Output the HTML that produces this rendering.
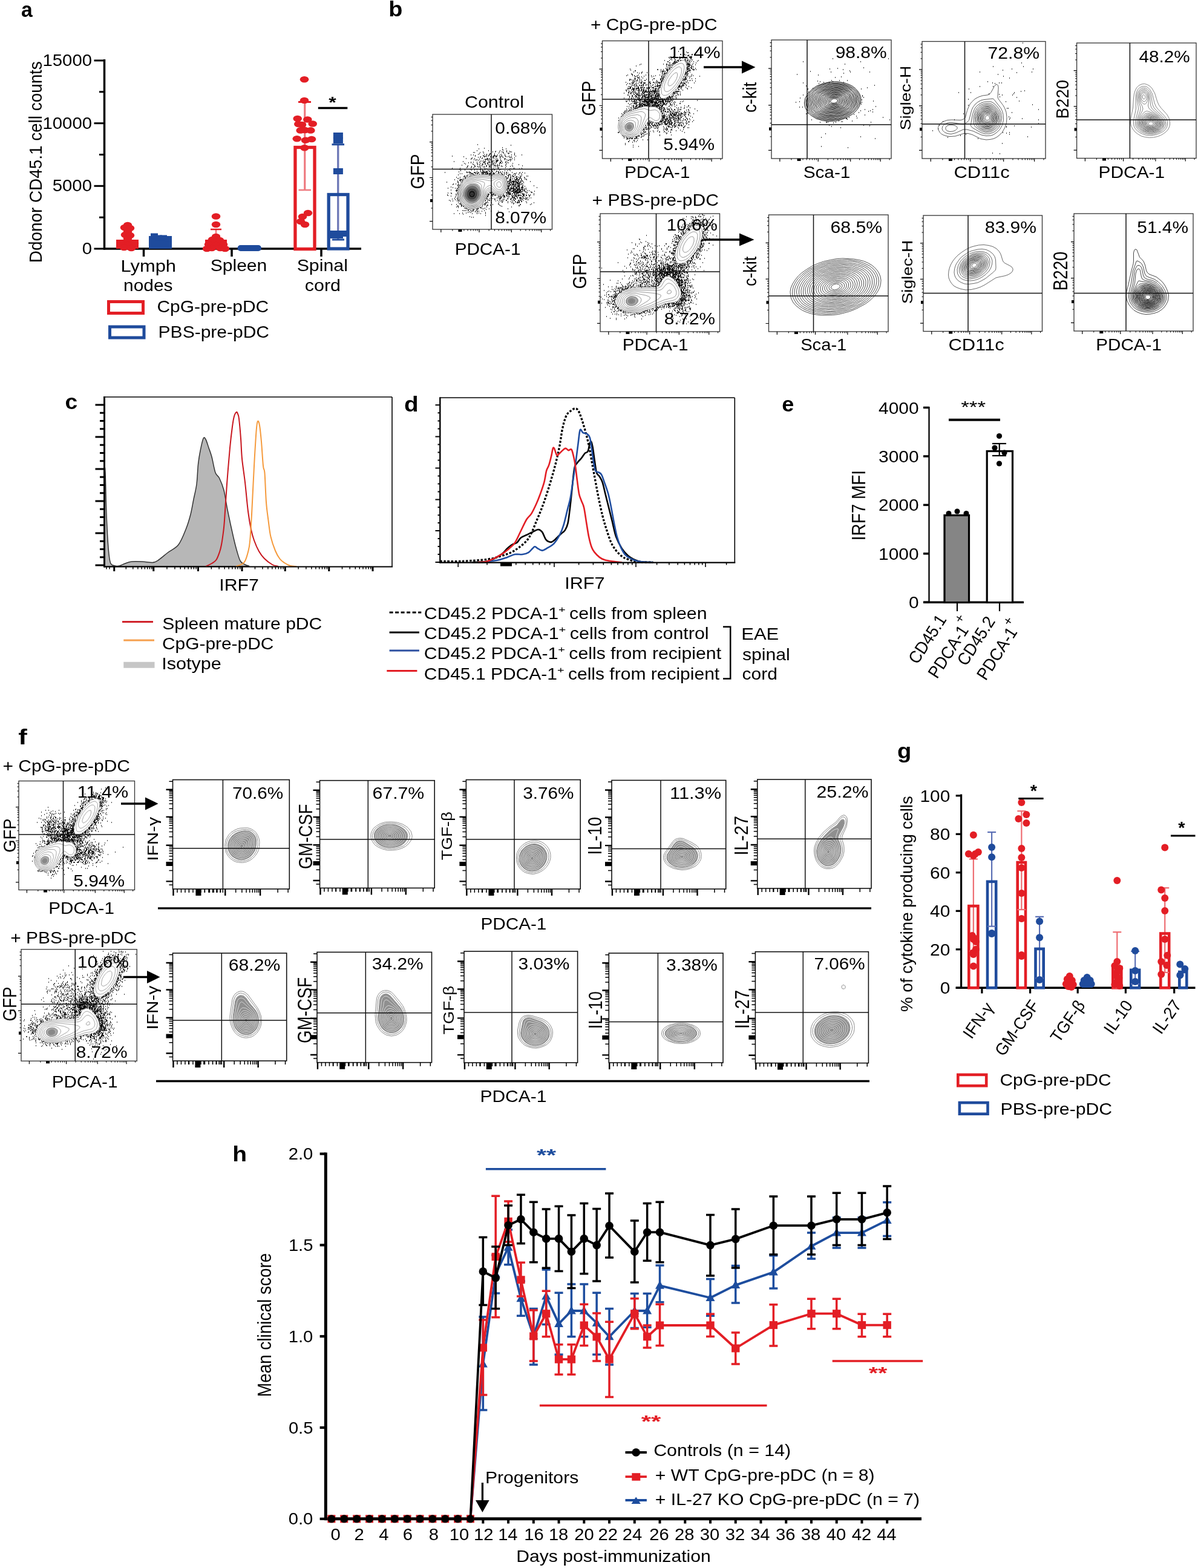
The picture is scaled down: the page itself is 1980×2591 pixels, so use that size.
<!DOCTYPE html>
<html><head><meta charset="utf-8"><title>Figure</title>
<style>html,body{margin:0;padding:0;background:#fff;}svg{display:block;}
text{font-family:'Liberation Sans', Arial, sans-serif;}</style></head>
<body><svg width="1980" height="2591" viewBox="0 0 1980 2591">
<rect width="1980" height="2591" fill="#fff"/>
<text transform="translate(35.09,27.6) scale(0.970,1)" font-size="34.7" font-weight="bold">a</text>
<line x1="172.5" y1="98" x2="172.5" y2="412.5" stroke="#000" stroke-width="3.5"/>
<line x1="155.5" y1="100" x2="172.5" y2="100" stroke="#000" stroke-width="3"/>
<line x1="155.5" y1="203.7" x2="172.5" y2="203.7" stroke="#000" stroke-width="3"/>
<line x1="155.5" y1="307.3" x2="172.5" y2="307.3" stroke="#000" stroke-width="3"/>
<line x1="155.5" y1="411" x2="172.5" y2="411" stroke="#000" stroke-width="3"/>
<line x1="164" y1="151.8" x2="172.5" y2="151.8" stroke="#000" stroke-width="3"/>
<line x1="164" y1="255.5" x2="172.5" y2="255.5" stroke="#000" stroke-width="3"/>
<line x1="164" y1="359.2" x2="172.5" y2="359.2" stroke="#000" stroke-width="3"/>
<text transform="translate(70.49,109) scale(1.040,1)" font-size="28.2">15000</text>
<text transform="translate(70.49,212.7) scale(1.040,1)" font-size="28.2">10000</text>
<text transform="translate(86.77,316.3) scale(1.040,1)" font-size="28.2">5000</text>
<text transform="translate(135.75,420) scale(1.040,1)" font-size="28.2">0</text>
<text transform="translate(68.71,434.23) rotate(-90) scale(0.953,1)" font-size="29.25">Ddonor CD45.1 cell counts</text>
<line x1="171" y1="411" x2="597" y2="411" stroke="#000" stroke-width="3.5"/>
<line x1="237.5" y1="411" x2="237.5" y2="424" stroke="#000" stroke-width="3.5"/>
<line x1="383" y1="411" x2="383" y2="424" stroke="#000" stroke-width="3.5"/>
<line x1="531" y1="411" x2="531" y2="424" stroke="#000" stroke-width="3.5"/>
<text transform="translate(199.53,449) scale(1.090,1)" font-size="28.3">Lymph</text>
<text transform="translate(204.06,480.5) scale(1.057,1)" font-size="28.3">nodes</text>
<text transform="translate(347.64,447.5) scale(1.064,1)" font-size="28.3">Spleen</text>
<text transform="translate(490.63,447.5) scale(1.072,1)" font-size="28.3">Spinal</text>
<text transform="translate(503.78,481) scale(1.075,1)" font-size="28.3">cord</text>
<rect x="179.5" y="498.5" width="57" height="19" fill="none" stroke="#e31e25" stroke-width="5"/>
<rect x="181.5" y="540" width="56.5" height="18" fill="none" stroke="#1f4b9c" stroke-width="5"/>
<text transform="translate(259.5,516) scale(1.058,1)" font-size="28.3">CpG-pre-pDC</text>
<text transform="translate(261.6,557.5) scale(1.061,1)" font-size="28.3">PBS-pre-pDC</text>
<rect x="192" y="396" width="37" height="15" fill="#e31e25"/>
<ellipse cx="211" cy="372" rx="7.3" ry="5.3" fill="#e31e25"/>
<ellipse cx="206" cy="376" rx="7.3" ry="5.3" fill="#e31e25"/>
<ellipse cx="215" cy="377" rx="7.3" ry="5.3" fill="#e31e25"/>
<ellipse cx="211" cy="383" rx="7.3" ry="5.3" fill="#e31e25"/>
<ellipse cx="207" cy="388" rx="7.3" ry="5.3" fill="#e31e25"/>
<ellipse cx="215" cy="389" rx="7.3" ry="5.3" fill="#e31e25"/>
<ellipse cx="211" cy="394" rx="7.3" ry="5.3" fill="#e31e25"/>
<ellipse cx="200" cy="402" rx="7.3" ry="5.3" fill="#e31e25"/>
<ellipse cx="222" cy="402" rx="7.3" ry="5.3" fill="#e31e25"/>
<ellipse cx="211" cy="405" rx="7.3" ry="5.3" fill="#e31e25"/>
<ellipse cx="205" cy="409" rx="7.3" ry="5.3" fill="#e31e25"/>
<ellipse cx="217" cy="410" rx="7.3" ry="5.3" fill="#e31e25"/>
<rect x="246" y="390" width="38" height="21" fill="#1f4b9c"/>
<rect x="249" y="385.5" width="12" height="9" fill="#1f4b9c"/>
<rect x="256" y="388.5" width="12" height="9" fill="#1f4b9c"/>
<rect x="264" y="388.5" width="12" height="9" fill="#1f4b9c"/>
<rect x="272" y="390.5" width="12" height="9" fill="#1f4b9c"/>
<line x1="357" y1="379" x2="357" y2="396" stroke="#ee7b80" stroke-width="2.5"/>
<line x1="348" y1="379" x2="366" y2="379" stroke="#e31e25" stroke-width="2.5"/>
<rect x="339" y="396" width="36" height="15" fill="#e31e25"/>
<ellipse cx="357" cy="357.5" rx="7.3" ry="5.3" fill="#e31e25"/>
<ellipse cx="357" cy="371" rx="7.3" ry="5.3" fill="#e31e25"/>
<ellipse cx="357" cy="391" rx="7.3" ry="5.3" fill="#e31e25"/>
<ellipse cx="351" cy="396" rx="7.3" ry="5.3" fill="#e31e25"/>
<ellipse cx="363" cy="397" rx="7.3" ry="5.3" fill="#e31e25"/>
<ellipse cx="345" cy="404" rx="7.3" ry="5.3" fill="#e31e25"/>
<ellipse cx="369" cy="404" rx="7.3" ry="5.3" fill="#e31e25"/>
<ellipse cx="357" cy="405" rx="7.3" ry="5.3" fill="#e31e25"/>
<ellipse cx="350" cy="410" rx="7.3" ry="5.3" fill="#e31e25"/>
<ellipse cx="364" cy="410" rx="7.3" ry="5.3" fill="#e31e25"/>
<ellipse cx="342" cy="411" rx="7.3" ry="5.3" fill="#e31e25"/>
<ellipse cx="372" cy="411" rx="7.3" ry="5.3" fill="#e31e25"/>
<rect x="392.5" y="405" width="39.5" height="10" rx="5" fill="#1f4b9c"/>
<line x1="503.75" y1="168" x2="503.75" y2="314" stroke="#ee7b80" stroke-width="3.2"/>
<line x1="493.5" y1="314" x2="514" y2="314" stroke="#ee7b80" stroke-width="2.5"/>
<rect x="487.9" y="243.5" width="32.1" height="168" fill="none" stroke="#e31e25" stroke-width="5.3"/>
<line x1="493" y1="168.5" x2="514" y2="168.5" stroke="#e31e25" stroke-width="3"/>
<ellipse cx="503" cy="131.3" rx="7.3" ry="5.3" fill="#e31e25"/>
<ellipse cx="503" cy="166" rx="7.3" ry="5.3" fill="#e31e25"/>
<ellipse cx="491.7" cy="196" rx="7.3" ry="5.3" fill="#e31e25"/>
<ellipse cx="508.3" cy="197.5" rx="7.3" ry="5.3" fill="#e31e25"/>
<ellipse cx="516.7" cy="204.5" rx="7.3" ry="5.3" fill="#e31e25"/>
<ellipse cx="493.3" cy="205" rx="7.3" ry="5.3" fill="#e31e25"/>
<ellipse cx="499" cy="206" rx="7.3" ry="5.3" fill="#e31e25"/>
<ellipse cx="504" cy="215" rx="7.3" ry="5.3" fill="#e31e25"/>
<ellipse cx="496.7" cy="215.4" rx="7.3" ry="5.3" fill="#e31e25"/>
<ellipse cx="513.3" cy="215.4" rx="7.3" ry="5.3" fill="#e31e25"/>
<ellipse cx="490.8" cy="229.2" rx="7.3" ry="5.3" fill="#e31e25"/>
<ellipse cx="515" cy="230" rx="7.3" ry="5.3" fill="#e31e25"/>
<ellipse cx="505" cy="231.7" rx="7.3" ry="5.3" fill="#e31e25"/>
<ellipse cx="503.3" cy="244.2" rx="7.3" ry="5.3" fill="#e31e25"/>
<ellipse cx="500" cy="358" rx="7.3" ry="5.3" fill="#e31e25"/>
<ellipse cx="509" cy="352" rx="7.3" ry="5.3" fill="#e31e25"/>
<ellipse cx="497" cy="366" rx="7.3" ry="5.3" fill="#e31e25"/>
<ellipse cx="504" cy="371" rx="7.3" ry="5.3" fill="#e31e25"/>
<line x1="558.75" y1="238.75" x2="558.75" y2="396" stroke="#6d78b6" stroke-width="3.3"/>
<rect x="543.2" y="321.5" width="31.8" height="89.5" fill="none" stroke="#1f4b9c" stroke-width="5.3"/>
<line x1="548.5" y1="238.75" x2="569" y2="238.75" stroke="#1f4b9c" stroke-width="3"/>
<line x1="549" y1="396" x2="569" y2="396" stroke="#1f4b9c" stroke-width="3"/>
<rect x="550.9" y="219" width="16" height="10" fill="#1f4b9c"/>
<rect x="550.9" y="227" width="16" height="10" fill="#1f4b9c"/>
<rect x="550.9" y="278" width="16" height="10" fill="#1f4b9c"/>
<rect x="544" y="381" width="16" height="10" fill="#1f4b9c"/>
<rect x="558" y="381" width="16" height="10" fill="#1f4b9c"/>
<rect x="551" y="384" width="16" height="10" fill="#1f4b9c"/>
<rect x="542" y="386" width="10" height="8" fill="#1f4b9c"/>
<line x1="525.8" y1="178.5" x2="574.3" y2="178.5" stroke="#000" stroke-width="3.7"/>
<text transform="translate(543.14,178) scale(1.225,1)" font-size="26" font-weight="bold">*</text>
<text transform="translate(642.34,27.4) scale(1.096,1)" font-size="34.5" font-weight="bold">b</text>
<path d="M777.5 304l6.5-0.5 5 1.5 3.5 4 2 6 0 8-2.5 6-4 4.5-6 2.5-6-0.5-4.5-2.5-3.5-4-2.5-6 0.5-6 2.5-6 3.5-4 5.5-3z" fill="#a8a8a8"/>
<path d="M776.5 308l4.5-1 5 1.5 3.5 3.5 2 4 0.5 6-2 5-3 4-4 2-5 0-4-1.5-3.5-3.5-2-4 0-5 1.5-5 3-4 3.5-2z" fill="#666"/>
<path d="M779.5 311l3.5 0.5 3 2 2 2.5 1 4-1 4-1.5 3-2.5 2-4 1-3-0.5-3-2-2-3-0.5-3.5 0.5-4 2-3 2-2 3.5-1z" fill="#333"/>
<path d="M779.5 315l3.5 1 1.5 2 1 2-0.5 2-1 2.5-2 1.5-2 0.5-3.5-1.5-1.5-2 0-2 1-4 3.5-2z" fill="#1a1a1a"/>
<path d="M789 239h1m54 1h1m-15 4h1m-31 1h1m-10 1h1m44 0h1m-7 1h1m0 1h1m-44 1h1m18 0h1m18 0h1m10 0h1m-19 1h1m17 0h1m4 0h1m-45 1h1m15 0h1m3 0h1m6 0h1m3 0h1m1 0h1m5 0h1m5 0h1m1 0h1m-64 1h1m1 0h1m8 0h1m37 0h1m-33 1h1m24 0h1m7 0h1m6 0h1m1 0h1m8 0h1m-59 1h1m16 0h1m0 0h1m6 0h1m22 0h1m-51 1h1m13 0h1m23 0h1m5 0h1m15 0h1m-73 1h1m3 0h1m17 0h1m3 0h1m3 0h1m0 0h1m7 0h1m4 0h1m3 0h1m18 0h1m4 0h1m11 0h1m-78 1h1m12 0h1m5 0h1m2 0h1m8 0h1m0 0h1m11 0h1m4 0h1m-88 1h1m37 0h1m13 0h1m2 0h1m4 0h1m4 0h1m2 0h1m2 0h1m0 0h1m0 0h1m0 0h1m3 0h1m2 0h1m6 0h1m5 0h1m10 0h1m-87 1h1m27 0h1m5 0h1m0 0h1m2 0h1m5 0h1m3 0h1m1 0h1m3 0h1m6 0h1m2 0h1m5 0h1m2 0h1m5 0h1m-56 1h1m2 0h1m18 0h1m2 0h1m10 0h1m4 0h1m10 0h1m0 0h1m1 0h1m-66 1h1m16 0h1m16 0h1m4 0h1m6 0h1m23 0h1m-81 1h1m8 0h1m4 0h1m11 0h1m8 0h1m0 0h1m2 0h1m6 0h1m4 0h1m11 0h1m1 0h1m10 0h1m-69 1h1m13 0h1m8 0h1m1 0h1m0 0h1m0 0h1m2 0h1m3 0h1m14 0h1m6 0h1m8 0h1m-61 1h1m2 0h1m1 0h1m13 0h1m3 0h1m3 0h1m8 0h1m2 0h1m11 0h1m2 0h1m4 0h1m0 0h1m1 0h1m4 0h1m-65 1h1m3 0h1m8 0h1m2 0h1m3 0h1m1 0h1m3 0h1m1 0h1m5 0h1m0 0h1m1 0h1m3 0h1m11 0h1m0 0h1m-48 1h1m2 0h1m15 0h1m3 0h1m4 0h1m0 0h1m5 0h1m14 0h1m-94 1h1m14 0h1m27 0h1m6 0h1m1 0h1m5 0h1m4 0h1m0 0h1m4 0h1m0 0h1m0 0h1m7 0h1m6 0h1m-59 1h1m3 0h1m5 0h1m9 0h1m0 0h1m0 0h1m0 0h1m5 0h1m1 0h1m1 0h1m14 0h1m0 0h1m7 0h1m2 0h1m-65 1h1m3 0h1m13 0h1m12 0h1m2 0h1m3 0h1m1 0h1m2 0h1m2 0h1m5 0h1m0 0h1m2 0h1m4 0h1m4 0h1m-74 1h1m20 0h1m5 0h1m6 0h1m3 0h1m0 0h1m7 0h1m0 0h1m2 0h1m6 0h1m2 0h1m8 0h1m9 0h1m-79 1h1m11 0h1m7 0h1m7 0h1m0 0h1m2 0h1m0 0h1m22 0h1m-44 1h1m6 0h1m2 0h1m4 0h1m8 0h1m1 0h1m4 0h1m1 0h1m6 0h1m13 0h1m20 0h1m-95 1h1m20 0h1m8 0h1m2 0h1m13 0h1m5 0h1m0 0h1m1 0h1m2 0h1m2 0h1m9 0h1m10 0h1m-74 1h1m10 0h1m11 0h1m6 0h1m0 0h1m3 0h1m9 0h1m2 0h1m2 0h1m3 0h1m34 0h1m-92 1h1m6 0h1m5 0h1m3 0h1m3 0h1m6 0h1m2 0h1m4 0h1m0 0h1m12 0h1m5 0h1m1 0h1m5 0h1m6 0h1m3 0h1m-76 1h1m6 0h1m4 0h1m5 0h1m1 0h1m5 0h1m1 0h1m9 0h1m5 0h1m2 0h1m-49 1h1m6 0h1m3 0h1m11 0h1m13 0h1m13 0h1m1 0h1m10 0h1m-89 1h1m12 0h1m33 0h1m6 0h1m21 0h1m24 0h1m1 0h1m11 0h1m-59 1h1m10 0h1m26 0h1m1 0h1m13 0h1m-100 1h1m17 0h1m10 0h1m4 0h1m3 0h1m8 0h1m2 0h1m2 0h1m4 0h1m9 0h1m-67 1h1m6 0h1m10 0h1m4 0h1m9 0h1m6 0h1m11 0h1m2 0h1m8 0h1m15 0h1m-81 1h1m35 0h1m0 0h1m8 0h1m26 0h1m3 0h1m4 0h1m-56 1h1m5 0h1m2 0h1m1 0h1m4 0h1m0 0h1m2 0h1m0 0h1m3 0h1m6 0h1m0 0h1m-64 1h1m12 0h1m3 0h1m18 0h1m4 0h1m0 0h1m1 0h1m0 0h1m10 0h1m8 0h1m0 0h1m2 0h1m2 0h1m-96 1h1m35 0h1m0 0h1m1 0h1m1 0h1m0 0h1m5 0h1m0 0h1m0 0h1m1 0h1m1 0h1m1 0h1m4 0h1m0 0h1m0 0h1m0 0h1m0 0h1m0 0h1m1 0h1m0 0h1m0 0h1m5 0h1m7 0h1m6 0h1m6 0h1m2 0h1m0 0h1m8 0h1m12 0h1m3 0h1m-88 1h1m1 0h1m6 0h1m4 0h1m4 0h1m1 0h1m4 0h1m2 0h1m0 0h1m1 0h1m1 0h1m1 0h1m2 0h1m0 0h1m6 0h1m0 0h1m3 0h1m4 0h1m5 0h1m13 0h1m4 0h1m8 0h1m-108 1h1m2 0h1m15 0h1m0 0h1m0 0h1m4 0h1m1 0h1m0 0h1m7 0h1m0 0h1m0 0h1m2 0h1m1 0h1m0 0h1m0 0h1m1 0h1m0 0h1m0 0h1m3 0h1m1 0h1m0 0h1m11 0h1m3 0h1m2 0h1m13 0h1m0 0h1m9 0h1m-86 1h1m1 0h1m3 0h1m9 0h1m3 0h1m1 0h1m2 0h1m1 0h1m0 0h1m1 0h1m1 0h1m1 0h1m4 0h1m13 0h1m0 0h1m6 0h1m4 0h1m5 0h1m2 0h1m5 0h1m-101 1h1m15 0h1m7 0h1m2 0h1m23 0h1m0 0h1m1 0h1m1 0h1m17 0h1m1 0h1m6 0h1m0 0h1m1 0h1m18 0h1m-92 1h1m6 0h1m60 0h1m3 0h1m2 0h1m4 0h1m-85 1h1m0 0h1m3 0h1m3 0h1m63 0h1m6 0h1m1 0h1m9 0h1m1 0h1m8 0h1m1 0h1m-107 1h1m3 0h1m64 0h1m0 0h1m3 0h1m3 0h1m2 0h1m0 0h1m4 0h1m0 0h1m5 0h1m-107 1h1m5 0h1m7 0h1m71 0h1m2 0h1m0 0h1m7 0h1m3 0h1m9 0h1m-99 1h1m0 0h1m67 0h1m0 0h1m11 0h1m2 0h1m4 0h1m0 0h1m0 0h1m6 0h1m-112 1h1m1 0h1m6 0h1m2 0h1m68 0h1m1 0h1m4 0h1m2 0h1m5 0h1m0 0h1m0 0h1m2 0h1m2 0h1m-101 1h1m80 0h1m0 0h1m0 0h1m2 0h1m2 0h1m2 0h1m0 0h1m6 0h1m5 0h1m1 0h1m-119 1h1m8 0h1m1 0h1m0 0h1m1 0h1m71 0h1m4 0h1m1 0h1m6 0h1m0 0h1m1 0h1m1 0h1m0 0h1m0 0h1m2 0h1m8 0h1m-112 1h1m0 0h1m0 0h1m2 0h1m77 0h1m0 0h1m7 0h1m1 0h1m1 0h1m0 0h1m5 0h1m-107 1h1m7 0h1m76 0h1m1 0h1m0 0h1m1 0h1m1 0h1m0 0h1m1 0h1m8 0h1m2 0h1m-103 1h1m76 0h1m0 0h1m0 0h1m1 0h1m3 0h1m0 0h1m0 0h1m0 0h1m0 0h1m1 0h1m0 0h1m2 0h1m0 0h1m2 0h1m0 0h1m2 0h1m11 0h1m-139 1h1m17 0h1m0 0h1m5 0h1m78 0h1m1 0h1m0 0h1m1 0h1m0 0h1m2 0h1m1 0h1m0 0h1m0 0h1m2 0h1m-20 1h1m1 0h1m1 0h1m1 0h1m2 0h1m0 0h1m1 0h1m1 0h1m0 0h1m0 0h1m0 0h1m2 0h1m0 0h1m4 0h1m-109 1h1m81 0h1m2 0h1m2 0h1m2 0h1m2 0h1m2 0h1m0 0h1m1 0h1m0 0h1m3 0h1m-114 1h1m3 0h1m86 0h1m0 0h1m0 0h1m3 0h1m0 0h1m1 0h1m2 0h1m1 0h1m1 0h1m0 0h1m0 0h1m4 0h1m-116 1h1m8 0h1m85 0h1m0 0h1m1 0h1m0 0h1m0 0h1m0 0h1m1 0h1m0 0h1m1 0h1m2 0h1m0 0h1m1 0h1m0 0h1m-106 1h1m1 0h1m1 0h1m78 0h1m2 0h1m1 0h1m3 0h1m1 0h1m0 0h1m3 0h1m1 0h1m0 0h1m5 0h1m-109 1h1m1 0h1m80 0h1m0 0h1m0 0h1m0 0h1m3 0h1m1 0h1m2 0h1m1 0h1m1 0h1m0 0h1m0 0h1m0 0h1m4 0h1m18 0h1m-44 1h1m1 0h1m3 0h1m2 0h1m1 0h1m0 0h1m4 0h1m0 0h1m0 0h1m4 0h1m3 0h1m-123 1h1m11 0h1m0 0h1m80 0h1m0 0h1m7 0h1m0 0h1m2 0h1m1 0h1m0 0h1m1 0h1m0 0h1m3 0h1m1 0h1m-117 1h1m8 0h1m82 0h1m2 0h1m1 0h1m0 0h1m1 0h1m3 0h1m0 0h1m0 0h1m2 0h1m3 0h1m0 0h1m0 0h1m0 0h1m22 0h1m-148 1h1m11 0h1m2 0h1m83 0h1m1 0h1m2 0h1m1 0h1m1 0h1m0 0h1m2 0h1m0 0h1m0 0h1m2 0h1m0 0h1m0 0h1m2 0h1m6 0h1m-114 1h1m81 0h1m0 0h1m0 0h1m2 0h1m0 0h1m0 0h1m0 0h1m0 0h1m0 0h1m0 0h1m0 0h1m1 0h1m2 0h1m0 0h1m5 0h1m1 0h1m2 0h1m-114 1h1m86 0h1m1 0h1m5 0h1m1 0h1m0 0h1m1 0h1m0 0h1m0 0h1m0 0h1m0 0h1m0 0h1m1 0h1m0 0h1m0 0h1m2 0h1m2 0h1m-125 1h1m10 0h1m80 0h1m0 0h1m2 0h1m0 0h1m1 0h1m3 0h1m0 0h1m0 0h1m1 0h1m1 0h1m0 0h1m0 0h1m1 0h1m0 0h1m0 0h1m3 0h1m1 0h1m-114 1h1m0 0h1m0 0h1m83 0h1m1 0h1m1 0h1m3 0h1m0 0h1m0 0h1m2 0h1m0 0h1m1 0h1m0 0h1m2 0h1m0 0h1m3 0h1m1 0h1m0 0h1m3 0h1m2 0h1m-121 1h1m84 0h1m2 0h1m2 0h1m0 0h1m0 0h1m0 0h1m1 0h1m0 0h1m0 0h1m0 0h1m0 0h1m2 0h1m0 0h1m0 0h1m0 0h1m0 0h1m1 0h1m2 0h1m16 0h1m-46 1h1m0 0h1m0 0h1m3 0h1m3 0h1m1 0h1m0 0h1m0 0h1m1 0h1m0 0h1m1 0h1m0 0h1m3 0h1m5 0h1m0 0h1m7 0h1m-69 1h1m1 0h1m0 0h1m0 0h1m22 0h1m3 0h1m0 0h1m0 0h1m5 0h1m0 0h1m0 0h1m1 0h1m0 0h1m0 0h1m0 0h1m0 0h1m0 0h1m0 0h1m0 0h1m0 0h1m10 0h1m6 0h1m0 0h1m-140 1h1m4 0h1m9 0h1m54 0h1m0 0h1m24 0h1m0 0h1m0 0h1m0 0h1m0 0h1m2 0h1m4 0h1m1 0h1m0 0h1m2 0h1m0 0h1m0 0h1m0 0h1m2 0h1m1 0h1m7 0h1m-125 1h1m65 0h1m2 0h1m24 0h1m0 0h1m0 0h1m0 0h1m2 0h1m3 0h1m2 0h1m0 0h1m8 0h1m1 0h1m16 0h1m-130 1h1m2 0h1m49 0h1m0 0h1m0 0h1m4 0h1m0 0h1m1 0h1m15 0h1m5 0h1m1 0h1m0 0h1m0 0h1m0 0h1m0 0h1m2 0h1m2 0h1m0 0h1m1 0h1m9 0h1m0 0h1m1 0h1m-128 1h1m14 0h1m52 0h1m3 0h1m0 0h1m2 0h1m2 0h1m17 0h1m1 0h1m2 0h1m9 0h1m2 0h1m1 0h1m0 0h1m1 0h1m5 0h1m0 0h1m2 0h1m3 0h1m2 0h1m5 0h1m-143 1h1m64 0h1m1 0h1m5 0h1m3 0h1m1 0h1m11 0h1m0 0h1m0 0h1m3 0h1m7 0h1m2 0h1m1 0h1m1 0h1m3 0h1m0 0h1m0 0h1m1 0h1m0 0h1m2 0h1m0 0h1m3 0h1m0 0h1m4 0h1m-131 1h1m7 0h1m52 0h1m4 0h1m2 0h1m8 0h1m1 0h1m1 0h1m2 0h1m3 0h1m2 0h1m2 0h1m5 0h1m0 0h1m3 0h1m1 0h1m0 0h1m1 0h1m7 0h1m1 0h1m7 0h1m0 0h1m-71 1h1m0 0h1m16 0h1m1 0h1m2 0h1m3 0h1m0 0h1m0 0h1m3 0h1m2 0h1m4 0h1m2 0h1m2 0h1m1 0h1m8 0h1m-112 1h1m3 0h1m47 0h1m6 0h1m0 0h1m12 0h1m1 0h1m0 0h1m3 0h1m1 0h1m11 0h1m0 0h1m1 0h1m0 0h1m8 0h1m1 0h1m2 0h1m3 0h1m-48 1h1m1 0h1m3 0h1m0 0h1m11 0h1m5 0h1m1 0h1m0 0h1m4 0h1m0 0h1m2 0h1m0 0h1m0 0h1m3 0h1m5 0h1m0 0h1m2 0h1m2 0h1m-127 1h1m3 0h1m47 0h1m1 0h1m3 0h1m1 0h1m1 0h1m2 0h1m8 0h1m0 0h1m11 0h1m6 0h1m4 0h1m0 0h1m7 0h1m0 0h1m0 0h1m3 0h1m1 0h1m2 0h1m-124 1h1m8 0h1m47 0h1m13 0h1m6 0h1m1 0h1m3 0h1m1 0h1m5 0h1m3 0h1m0 0h1m3 0h1m2 0h1m0 0h1m9 0h1m0 0h1m4 0h1m0 0h1m-118 1h1m3 0h1m1 0h1m47 0h1m10 0h1m13 0h1m12 0h1m3 0h1m10 0h1m11 0h1m1 0h1m-132 1h1m15 0h1m43 0h1m3 0h1m1 0h1m0 0h1m2 0h1m9 0h1m2 0h1m3 0h1m6 0h1m0 0h1m8 0h1m2 0h1m0 0h1m5 0h1m0 0h1m2 0h1m0 0h1m2 0h1m-121 1h1m3 0h1m6 0h1m1 0h1m0 0h1m43 0h1m16 0h1m7 0h1m1 0h1m1 0h1m26 0h1m-54 1h1m33 0h1m4 0h1m2 0h1m3 0h1m3 0h1m1 0h1m3 0h1m0 0h1m6 0h1m-46 1h1m4 0h1m0 0h1m21 0h1m2 0h1m1 0h1m0 0h1m-102 1h1m44 0h1m0 0h1m0 0h1m1 0h1m5 0h1m26 0h1m5 0h1m1 0h1m6 0h1m0 0h1m0 0h1m1 0h1m11 0h1m11 0h1m-123 1h1m88 0h1m-91 1h1m1 0h1m38 0h1m0 0h1m0 0h1m20 0h1m0 0h1m23 0h1m29 0h1m-133 1h1m7 0h1m6 0h1m0 0h1m35 0h1m2 0h1m12 0h1m44 0h1m0 0h1m15 0h1m-76 1h1m3 0h1m0 0h1m3 0h1m14 0h1m-70 1h1m5 0h1m0 0h1m33 0h1m6 0h1m22 0h1m29 0h1m0 0h1m-103 1h1m0 0h1m4 0h1m2 0h1m0 0h1m62 0h1m-76 1h1m41 0h1m7 0h1m40 0h1m-89 1h1m35 0h1m0 0h1m-28 1h1m1 0h1m0 0h1m19 0h1m4 0h1m5 0h1m-32 1h1m1 0h1m14 0h1m1 0h1m0 0h1m6 0h1m1 0h1m8 0h1m30 0h1m-64 1h1m5 0h1m0 0h1m4 0h1m14 0h1m-31 1h1m0 0h1m6 0h1m6 0h1m-33 1h1m7 0h1m1 0h1m1 0h1m1 0h1m2 0h1m3 0h1m1 0h1m2 0h1m4 0h1m12 0h1m-20 1h1m3 0h1m3 0h1m1 0h1m4 0h1m14 0h1m11 0h1m-49 1h1m3 0h1m5 0h1m2 0h1m52 0h1m-69 1h1m3 0h1m24 0h1m-39 1h1m5 0h1m17 0h1m2 0h1m-42 1h1m8 0h1m20 0h1m7 0h1m5 0h1m7 0h1m-38 1h1m36 2h1m-27 2h1m2 1h1m2 0h1" fill="none" stroke="#000" stroke-width="1.5"/>
<path d="M818.5 288l6.5-1 5 1.5 4.5 3.5 3 5 1.5 6-0.5 6-2 6-3.5 5-4 2.5-4 1-4-1.5-8-4.5-2 0-2.5 0.5-3 3-4.5 11-4 6-5 4.5-7 3-6 0.5-6-1-5-2.5-5-4.5-3.5-5-2-5-1-5 0-6 1-6 2-5 3-5 3.5-4 7-4.5 10-3 13-1.5 16 1 6.5-1zM821 289l5-0.5 4 1.5 4 3.5 2.5 4.5 1 5 0 6-2 6-3.5 4.5-4 2-4 0-4-1.5-7-4-3-0.5-2 0.5-3 3-4.5 11-3.5 6-5 5-6 2.5-6 1-6-1-5-2-5.5-4.5-2.5-4-2.5-5-1-5 0-6 1-5 2.5-6 3-5 4-4 7-4 9-2.5 13-0.5 15 0.5 9-1.5zM819.5 291l5.5-1 4 1 3.5 3 2.5 4 1.5 5-0.5 6-1.5 5-3.5 4-3 2-4 0-4-1.5-7-5-3-0.5-3 1-2 1.5-1.5 2.5-3.5 11-3.5 6-5.5 5-6 2.5-5 1-6-1-6-3-4.5-4.5-2.5-4-1.5-5-1-5 0.5-5 1-5 2.5-5 2.5-4 4-3.5 7-4 8-2 13-1 15 1 7.5-1.5zM823.5 292l3.5 0.5 3.5 1.5 2.5 3 1.5 4 0.5 4-0.5 5-2 4-2.5 3-3 1-3 0-4-1.5-7-5.5-3-0.5-3 0.5-3 2.5-1.5 2.5-3.5 12-3.5 6-5.5 5-6 2.5-6 0.5-5-1.5-5-3-4-4.5-2.5-4-1-4-0.5-5 0.5-5 1-4 2.5-5 3-3.5 4-3.5 6-3 8-2 12-0.5 15 1.5 11.5-3zM820 295l4-1 3 0.5 3 1.5 2.5 4 1 4-0.5 5-2 4-2 2-3 1-3 0-3-2-7-6.5-2-1-2 0-4 2-3 3-1.5 3.5-2 10-2 5-3.5 5-4 3-6 2.5-4 0-3-0.5-6-2.5-3-2.5-2.5-3-2-4-1-4 0-5 0.5-4 1-4 2-4 3-3.5 4-3.5 7-3 9-1 11 0.5 12 2.5 2-0.5 7-3.5zM822 297l3-0.5 3 1 2 2 1 2.5 0.5 4-0.5 3-2 3-2 1.5-3 0-3-1.5-2.5-3-2-4 0-3 1.5-2 4-3zM779.5 299l6.5-1 8 1 5.5 2 1 1 0.5 2-2 7.5-1.5 12.5-3 7-2.5 3-4 3-4 2-4 0.5-4-0.5-3-1.5-5-3.5-4-6-1.5-7 1-7 3.5-7 3-3 3-2.5 6.5-2.5zM780 301l4-0.5 4 0.5 3 1 3 2 1.5 2 0.5 2 0.5 8-1 9-2.5 6-3 3-3 2-3 1.5-4 0.5-6-1.5-5-3.5-2.5-3-1.5-3-1-7 1.5-7 2.5-5 5-4.5 7-2.5zM822.5 301l1.5-0.5 2 0 2 2.5 0.5 4-1.5 2-1 0.5-3-0.5-2-3 0-3 1.5-2zM780.5 303l5.5 0.5 3 1 2 1.5 1.5 2 1.5 3 1 8-1 7-3 5-5 4-6 1.5-5-1-5-3.5-3.5-5-1-3 0-4 1-6 3.5-5.5 5-4 5.5-1.5zM776.5 306l5.5-1 5 1.5 4 3.5 2 5 0.5 7-2 6-3.5 4-5 2.5-5 0.5-5-2-4-4-2-5 0-6 1.5-5 3.5-4.5 4.5-2.5zM776.5 308l4.5-1 5 1.5 3.5 3.5 2 4 0.5 6-2 5-3 4-4 2-5 0-4-1.5-3.5-3.5-2-4 0-5 1.5-5 3-4 3.5-2zM776.5 310l4.5-1 4 1.5 3 2.5 2 4 0 5-1 4-3 3.5-4 2-4 0-3-1.5-3-2.5-1.5-3.5-0.5-4 1-4 2-3.5 3.5-2.5zM777.5 312l3.5-0.5 3 1 2.5 2.5 1.5 3 0.5 4-1 3-2.5 3-3 1.5-3 0-3-1-2.5-2.5-1.5-3 0-4 1-3 2-2.5 2.5-1.5zM777 315l3-1 2 0.5 2 1 1.5 2.5 0.5 2-0.5 3-1.5 2.5-2 1.5-2 0-2 0-2-1.5-1.5-2.5-0.5-3 0.5-2 2.5-3zM779 319l2 0 1 1 0 1-1 1.5-1 0.5-1.5-1-0.5-1 1-2z" fill="none" stroke="#777" stroke-width="0.7" stroke-linejoin="round"/>
<rect x="715" y="189" width="197.5" height="190" fill="none" stroke="#333" stroke-width="1.3"/>
<line x1="812" y1="189" x2="812" y2="379" stroke="#111" stroke-width="1.5"/>
<line x1="715" y1="279.5" x2="912.5" y2="279.5" stroke="#111" stroke-width="1.5"/>
<rect x="711" y="329" width="4" height="5" fill="#000"/>
<rect x="757.42" y="379" width="6" height="4" fill="#000"/>
<path d="M710 365.7H715M710 293.5H715M710 234.6H715M728.83 379V384M792.02 379V384M845.35 379V384M894.73 379V384" fill="none" stroke="#000" stroke-width="1.2"/>
<path d="M712.5 343.97H715M712.5 331.25H715M712.5 322.23H715M712.5 315.23H715M712.5 309.52H715M712.5 304.68H715M712.5 300.5H715M712.5 296.8H715M712.5 275.77H715M712.5 265.4H715M712.5 258.04H715M712.5 252.33H715M712.5 247.67H715M712.5 243.72H715M712.5 240.31H715M712.5 237.3H715M712.5 216.87H715M712.5 206.5H715M712.5 199.14H715M712.5 193.43H715M747.85 379V381.5M758.98 379V381.5M766.88 379V381.5M773 379V381.5M778 379V381.5M782.24 379V381.5M785.9 379V381.5M789.13 379V381.5M808.08 379V381.5M817.47 379V381.5M824.13 379V381.5M829.3 379V381.5M833.52 379V381.5M837.09 379V381.5M840.18 379V381.5M842.91 379V381.5M860.21 379V381.5M868.91 379V381.5M875.08 379V381.5M879.86 379V381.5M883.77 379V381.5M887.08 379V381.5M889.94 379V381.5M892.47 379V381.5M909.59 379V381.5" fill="none" stroke="#000" stroke-width="1"/>
<text transform="translate(767.98,178) scale(1.068,1)" font-size="28.5">Control</text>
<text transform="translate(818.3,221) scale(1.049,1)" font-size="28.5">0.68%</text>
<text transform="translate(818.15,369) scale(1.051,1)" font-size="28.5">8.07%</text>
<text transform="translate(700.69,312.41) rotate(-90) scale(0.908,1)" font-size="30.99">GFP</text>
<text transform="translate(751.63,421) scale(1.041,1)" font-size="28.5">PDCA-1</text>
<path d="M1040.5 201.5l3 0.5 3 1.5 1.5 3 0 3-1 3-2 3-3.5 2-3 0-3-1-2-2-1-2-0.5-3 1-3 1.5-2 3-2 3-1z" fill="#aaa"/>
<path d="M1038.5 205.5l2-0.5 2 1 2 2.5 0 2-1 2-3 2-3-0.5-2-2.5 0-3 1-1.5 2-1.5z" fill="#888"/>
<path d="M1121 85h1m12 1h1m-5 1h1m5 0h1m0 0h1m-14 3h1m0 0h1m5 0h1m11 0h1m0 0h1m-12 1h1m4 0h1m4 0h1m-29 1h1m20 0h1m0 0h1m0 0h1m-10 1h1m-23 1h1m1 0h1m2 0h1m0 0h1m9 0h1m15 0h1m3 0h1m-39 1h1m12 0h1m3 0h1m5 0h1m0 0h1m0 0h1m2 0h1m1 0h1m3 0h1m-34 1h1m16 0h1m0 0h1m3 0h1m3 0h1m1 0h1m-26 1h1m4 0h1m8 0h1m12 0h1m4 0h1m0 0h1m-35 1h1m6 0h1m7 0h1m7 0h1m1 0h1m8 0h1m-33 1h1m5 0h1m4 0h1m10 0h1m3 0h1m1 0h1m5 0h1m-47 1h1m7 0h1m12 0h1m0 0h1m3 0h1m0 0h1m6 0h1m2 0h1m0 0h1m3 0h1m13 0h1m-41 1h1m0 0h1m1 0h1m2 0h1m0 0h1m11 0h1m1 0h1m2 0h1m3 0h1m9 0h1m-50 1h1m0 0h1m10 0h1m1 0h1m21 0h1m6 0h1m-34 1h1m0 0h1m1 0h1m0 0h1m0 0h1m0 0h1m14 0h1m1 0h1m3 0h1m-35 1h1m0 0h1m5 0h1m1 0h1m18 0h1m2 0h1m12 0h1m-40 1h1m0 0h1m1 0h1m1 0h1m19 0h1m0 0h1m1 0h1m5 0h1m-87 1h1m36 0h1m4 0h1m0 0h1m10 0h1m21 0h1m0 0h1m0 0h1m0 0h1m1 0h1m-84 1h1m43 0h1m2 0h1m1 0h1m0 0h1m1 0h1m1 0h1m23 0h1m1 0h1m0 0h1m0 0h1m4 0h1m4 0h1m-46 1h1m4 0h1m1 0h1m25 0h1m1 0h1m0 0h1m1 0h1m-92 1h1m49 0h1m2 0h1m1 0h1m0 0h1m28 0h1m2 0h1m2 0h1m-7 1h1m0 0h1m0 0h1m0 0h1m3 0h1m1 0h1m-44 1h1m5 0h1m1 0h1m25 0h1m5 0h1m2 0h1m-41 1h1m0 0h1m1 0h1m26 0h1m0 0h1m4 0h1m0 0h1m-43 1h1m2 0h1m2 0h1m28 0h1m1 0h1m0 0h1m0 0h1m2 0h1m0 0h1m5 0h1m-109 1h1m59 0h1m4 0h1m0 0h1m28 0h1m8 0h1m-60 1h1m0 0h1m4 0h1m3 0h1m5 0h1m0 0h1m0 0h1m1 0h1m28 0h1m0 0h1m0 0h1m1 0h1m4 0h1m1 0h1m0 0h1m2 0h1m-109 1h1m58 0h1m1 0h1m34 0h1m1 0h1m0 0h1m4 0h1m-98 1h1m0 0h1m41 0h1m2 0h1m1 0h1m4 0h1m0 0h1m31 0h1m2 0h1m0 0h1m-46 1h1m0 0h1m0 0h1m2 0h1m3 0h1m32 0h1m0 0h1m-91 1h1m13 0h1m30 0h1m2 0h1m2 0h1m4 0h1m29 0h1m1 0h1m0 0h1m3 0h1m-88 1h1m6 0h1m8 0h1m25 0h1m5 0h1m31 0h1m0 0h1m-79 1h1m3 0h1m33 0h1m3 0h1m0 0h1m2 0h1m30 0h1m0 0h1m1 0h1m-94 1h1m50 0h1m2 0h1m0 0h1m1 0h1m31 0h1m0 0h1m1 0h1m1 0h1m-94 1h1m0 0h1m50 0h1m1 0h1m33 0h1m2 0h1m7 0h1m-107 1h1m17 0h1m11 0h1m4 0h1m17 0h1m3 0h1m37 0h1m1 0h1m1 0h1m-102 1h1m9 0h1m2 0h1m4 0h1m22 0h1m6 0h1m13 0h1m1 0h1m35 0h1m6 0h1m2 0h1m-97 1h1m2 0h1m11 0h1m15 0h1m12 0h1m0 0h1m1 0h1m33 0h1m7 0h1m3 0h1m13 0h1m-107 1h1m5 0h1m3 0h1m16 0h1m15 0h1m2 0h1m1 0h1m31 0h1m1 0h1m0 0h1m1 0h1m4 0h1m-88 1h1m0 0h1m38 0h1m3 0h1m35 0h1m-86 1h1m6 0h1m0 0h1m5 0h1m31 0h1m0 0h1m0 0h1m35 0h1m0 0h1m5 0h1m-91 1h1m0 0h1m29 0h1m0 0h1m9 0h1m1 0h1m2 0h1m31 0h1m2 0h1m2 0h1m8 0h1m5 0h1m-110 1h1m1 0h1m6 0h1m3 0h1m3 0h1m10 0h1m22 0h1m0 0h1m2 0h1m0 0h1m32 0h1m0 0h1m1 0h1m0 0h1m0 0h1m-94 1h1m2 0h1m2 0h1m1 0h1m7 0h1m2 0h1m17 0h1m12 0h1m2 0h1m0 0h1m35 0h1m0 0h1m-93 1h1m6 0h1m4 0h1m0 0h1m11 0h1m0 0h1m18 0h1m7 0h1m1 0h1m32 0h1m0 0h1m1 0h1m4 0h1m2 0h1m1 0h1m2 0h1m-100 1h1m1 0h1m2 0h1m1 0h1m3 0h1m2 0h1m25 0h1m6 0h1m0 0h1m1 0h1m53 0h1m-102 1h1m12 0h1m12 0h1m11 0h1m6 0h1m32 0h1m5 0h1m2 0h1m-102 1h1m10 0h1m1 0h1m8 0h1m3 0h1m12 0h1m5 0h1m0 0h1m2 0h1m1 0h1m2 0h1m0 0h1m2 0h1m0 0h1m35 0h1m4 0h1m-92 1h1m1 0h1m0 0h1m4 0h1m6 0h1m0 0h1m0 0h1m2 0h1m0 0h1m0 0h1m0 0h1m7 0h1m6 0h1m3 0h1m1 0h1m1 0h1m0 0h1m0 0h1m33 0h1m0 0h1m0 0h1m1 0h1m1 0h1m5 0h1m9 0h1m-111 1h1m2 0h1m4 0h1m0 0h1m4 0h1m2 0h1m5 0h1m4 0h1m8 0h1m0 0h1m13 0h1m3 0h1m30 0h1m2 0h1m2 0h1m0 0h1m0 0h1m-92 1h1m7 0h1m13 0h1m19 0h1m2 0h1m5 0h1m31 0h1m4 0h1m-95 1h1m8 0h1m3 0h1m2 0h1m10 0h1m0 0h1m3 0h1m1 0h1m9 0h1m6 0h1m4 0h1m35 0h1m1 0h1m3 0h1m-90 1h1m1 0h1m1 0h1m3 0h1m3 0h1m0 0h1m1 0h1m0 0h1m2 0h1m3 0h1m7 0h1m2 0h1m7 0h1m0 0h1m1 0h1m0 0h1m0 0h1m0 0h1m29 0h1m0 0h1m3 0h1m0 0h1m1 0h1m3 0h1m-87 1h1m1 0h1m1 0h1m8 0h1m1 0h1m19 0h1m1 0h1m2 0h1m0 0h1m1 0h1m30 0h1m0 0h1m0 0h1m1 0h1m2 0h1m-92 1h1m1 0h1m2 0h1m8 0h1m1 0h1m4 0h1m16 0h1m5 0h1m0 0h1m1 0h1m0 0h1m0 0h1m2 0h1m30 0h1m0 0h1m1 0h1m1 0h1m0 0h1m10 0h1m-98 1h1m0 0h1m6 0h1m5 0h1m6 0h1m11 0h1m5 0h1m9 0h1m0 0h1m29 0h1m0 0h1m0 0h1m1 0h1m7 0h1m-93 1h1m3 0h1m8 0h1m0 0h1m2 0h1m0 0h1m0 0h1m0 0h1m2 0h1m0 0h1m2 0h1m1 0h1m0 0h1m0 0h1m0 0h1m3 0h1m0 0h1m0 0h1m0 0h1m7 0h1m0 0h1m0 0h1m29 0h1m5 0h1m15 0h1m-106 1h1m0 0h1m1 0h1m0 0h1m0 0h1m2 0h1m1 0h1m0 0h1m2 0h1m0 0h1m0 0h1m0 0h1m0 0h1m3 0h1m3 0h1m5 0h1m1 0h1m1 0h1m9 0h1m0 0h1m35 0h1m3 0h1m10 0h1m-97 1h1m5 0h1m0 0h1m0 0h1m0 0h1m1 0h1m1 0h1m2 0h1m0 0h1m12 0h1m1 0h1m0 0h1m7 0h1m1 0h1m0 0h1m1 0h1m1 0h1m0 0h1m31 0h1m5 0h1m9 0h1m-100 1h1m6 0h1m1 0h1m0 0h1m4 0h1m2 0h1m0 0h1m2 0h1m0 0h1m0 0h1m1 0h1m0 0h1m2 0h1m7 0h1m7 0h1m3 0h1m29 0h1m3 0h1m0 0h1m-89 1h1m0 0h1m7 0h1m2 0h1m0 0h1m1 0h1m2 0h1m3 0h1m6 0h1m0 0h1m7 0h1m2 0h1m2 0h1m0 0h1m2 0h1m0 0h1m0 0h1m2 0h1m40 0h1m-90 1h1m7 0h1m6 0h1m0 0h1m1 0h1m1 0h1m0 0h1m1 0h1m1 0h1m1 0h1m0 0h1m0 0h1m10 0h1m0 0h1m0 0h1m0 0h1m0 0h1m1 0h1m1 0h1m1 0h1m-55 1h1m3 0h1m5 0h1m1 0h1m2 0h1m4 0h1m1 0h1m5 0h1m2 0h1m0 0h1m0 0h1m1 0h1m0 0h1m1 0h1m0 0h1m0 0h1m0 0h1m0 0h1m0 0h1m2 0h1m0 0h1m0 0h1m2 0h1m1 0h1m27 0h1m0 0h1m0 0h1m0 0h1m0 0h1m0 0h1m0 0h1m-82 1h1m2 0h1m3 0h1m12 0h1m0 0h1m1 0h1m0 0h1m0 0h1m0 0h1m0 0h1m1 0h1m5 0h1m2 0h1m0 0h1m0 0h1m0 0h1m0 0h1m0 0h1m0 0h1m28 0h1m1 0h1m2 0h1m4 0h1m-87 1h1m0 0h1m3 0h1m2 0h1m1 0h1m1 0h1m4 0h1m0 0h1m5 0h1m2 0h1m3 0h1m3 0h1m0 0h1m2 0h1m3 0h1m5 0h1m25 0h1m0 0h1m2 0h1m-87 1h1m6 0h1m3 0h1m3 0h1m3 0h1m0 0h1m1 0h1m1 0h1m5 0h1m1 0h1m0 0h1m8 0h1m0 0h1m3 0h1m2 0h1m0 0h1m1 0h1m1 0h1m0 0h1m1 0h1m22 0h1m0 0h1m0 0h1m0 0h1m1 0h1m1 0h1m-79 1h1m1 0h1m9 0h1m3 0h1m2 0h1m2 0h1m7 0h1m3 0h1m0 0h1m3 0h1m0 0h1m2 0h1m0 0h1m2 0h1m0 0h1m25 0h1m3 0h1m4 0h1m-78 1h1m0 0h1m2 0h1m0 0h1m1 0h1m0 0h1m1 0h1m3 0h1m2 0h1m0 0h1m1 0h1m1 0h1m2 0h1m0 0h1m4 0h1m5 0h1m1 0h1m1 0h1m22 0h1m1 0h1m5 0h1m1 0h1m-85 1h1m0 0h1m14 0h1m6 0h1m0 0h1m5 0h1m0 0h1m1 0h1m1 0h1m0 0h1m0 0h1m1 0h1m1 0h1m0 0h1m2 0h1m0 0h1m0 0h1m1 0h1m0 0h1m0 0h1m0 0h1m0 0h1m22 0h1m7 0h1m2 0h1m-81 1h1m0 0h1m4 0h1m0 0h1m2 0h1m0 0h1m0 0h1m0 0h1m0 0h1m4 0h1m0 0h1m0 0h1m0 0h1m1 0h1m3 0h1m1 0h1m1 0h1m0 0h1m2 0h1m2 0h1m2 0h1m1 0h1m0 0h1m20 0h1m1 0h1m3 0h1m1 0h1m-79 1h1m4 0h1m3 0h1m1 0h1m9 0h1m0 0h1m1 0h1m6 0h1m3 0h1m0 0h1m5 0h1m1 0h1m0 0h1m0 0h1m0 0h1m1 0h1m16 0h1m-67 1h1m3 0h1m6 0h1m0 0h1m2 0h1m1 0h1m4 0h1m1 0h1m0 0h1m0 0h1m0 0h1m2 0h1m0 0h1m0 0h1m0 0h1m0 0h1m1 0h1m0 0h1m1 0h1m2 0h1m0 0h1m0 0h1m1 0h1m1 0h1m1 0h1m14 0h1m0 0h1m0 0h1m1 0h1m0 0h1m0 0h1m0 0h1m2 0h1m-76 1h1m5 0h1m3 0h1m2 0h1m1 0h1m4 0h1m0 0h1m0 0h1m4 0h1m0 0h1m0 0h1m0 0h1m0 0h1m0 0h1m4 0h1m1 0h1m1 0h1m2 0h1m2 0h1m2 0h1m0 0h1m11 0h1m1 0h1m0 0h1m0 0h1m0 0h1m8 0h1m-87 1h1m11 0h1m9 0h1m1 0h1m0 0h1m3 0h1m3 0h1m1 0h1m0 0h1m2 0h1m0 0h1m2 0h1m1 0h1m0 0h1m0 0h1m1 0h1m0 0h1m0 0h1m0 0h1m1 0h1m1 0h1m0 0h1m13 0h1m0 0h1m0 0h1m3 0h1m1 0h1m6 0h1m-79 1h1m4 0h1m2 0h1m7 0h1m1 0h1m3 0h1m2 0h1m6 0h1m2 0h1m1 0h1m0 0h1m0 0h1m1 0h1m2 0h1m0 0h1m0 0h1m0 0h1m1 0h1m2 0h1m1 0h1m0 0h1m6 0h1m3 0h1m1 0h1m0 0h1m2 0h1m1 0h1m3 0h1m-75 1h1m3 0h1m1 0h1m3 0h1m0 0h1m4 0h1m0 0h1m0 0h1m4 0h1m1 0h1m0 0h1m0 0h1m0 0h1m0 0h1m0 0h1m1 0h1m2 0h1m1 0h1m0 0h1m0 0h1m1 0h1m0 0h1m1 0h1m0 0h1m1 0h1m0 0h1m0 0h1m0 0h1m0 0h1m0 0h1m2 0h1m1 0h1m0 0h1m0 0h1m1 0h1m-67 1h1m1 0h1m7 0h1m1 0h1m3 0h1m0 0h1m0 0h1m0 0h1m0 0h1m0 0h1m4 0h1m0 0h1m1 0h1m1 0h1m0 0h1m1 0h1m1 0h1m2 0h1m0 0h1m0 0h1m0 0h1m0 0h1m2 0h1m1 0h1m1 0h1m0 0h1m0 0h1m0 0h1m2 0h1m0 0h1m1 0h1m0 0h1m3 0h1m2 0h1m2 0h1m0 0h1m2 0h1m-69 1h1m3 0h1m2 0h1m0 0h1m3 0h1m0 0h1m0 0h1m2 0h1m3 0h1m0 0h1m0 0h1m1 0h1m2 0h1m0 0h1m0 0h1m0 0h1m0 0h1m0 0h1m1 0h1m3 0h1m1 0h1m0 0h1m0 0h1m5 0h1m1 0h1m0 0h1m2 0h1m0 0h1m2 0h1m0 0h1m3 0h1m1 0h1m41 0h1m-119 1h1m1 0h1m3 0h1m2 0h1m3 0h1m0 0h1m0 0h1m10 0h1m2 0h1m0 0h1m0 0h1m0 0h1m0 0h1m0 0h1m0 0h1m1 0h1m1 0h1m0 0h1m0 0h1m0 0h1m0 0h1m0 0h1m4 0h1m4 0h1m1 0h1m0 0h1m2 0h1m0 0h1m0 0h1m3 0h1m0 0h1m4 0h1m0 0h1m3 0h1m17 0h1m-95 1h1m9 0h1m0 0h1m2 0h1m1 0h1m5 0h1m0 0h1m2 0h1m0 0h1m1 0h1m1 0h1m0 0h1m0 0h1m0 0h1m0 0h1m0 0h1m0 0h1m0 0h1m1 0h1m0 0h1m0 0h1m0 0h1m0 0h1m0 0h1m0 0h1m1 0h1m0 0h1m0 0h1m3 0h1m0 0h1m0 0h1m0 0h1m0 0h1m0 0h1m0 0h1m0 0h1m2 0h1m0 0h1m1 0h1m0 0h1m0 0h1m0 0h1m1 0h1m6 0h1m9 0h1m2 0h1m-80 1h1m1 0h1m1 0h1m0 0h1m1 0h1m2 0h1m4 0h1m0 0h1m0 0h1m2 0h1m0 0h1m0 0h1m0 0h1m2 0h1m1 0h1m0 0h1m0 0h1m0 0h1m1 0h1m0 0h1m0 0h1m0 0h1m0 0h1m1 0h1m0 0h1m0 0h1m1 0h1m0 0h1m2 0h1m0 0h1m0 0h1m2 0h1m2 0h1m2 0h1m2 0h1m6 0h1m-69 1h1m1 0h1m1 0h1m4 0h1m2 0h1m5 0h1m1 0h1m0 0h1m0 0h1m0 0h1m0 0h1m1 0h1m0 0h1m0 0h1m0 0h1m0 0h1m0 0h1m1 0h1m0 0h1m0 0h1m0 0h1m0 0h1m1 0h1m6 0h1m1 0h1m15 0h1m1 0h1m-77 1h1m5 0h1m2 0h1m0 0h1m0 0h1m0 0h1m0 0h1m4 0h1m1 0h1m2 0h1m0 0h1m3 0h1m1 0h1m0 0h1m1 0h1m1 0h1m3 0h1m3 0h1m1 0h1m0 0h1m0 0h1m0 0h1m0 0h1m2 0h1m0 0h1m0 0h1m3 0h1m0 0h1m0 0h1m2 0h1m0 0h1m4 0h1m15 0h1m0 0h1m-83 1h1m9 0h1m4 0h1m1 0h1m0 0h1m1 0h1m0 0h1m0 0h1m0 0h1m4 0h1m0 0h1m0 0h1m1 0h1m2 0h1m1 0h1m1 0h1m0 0h1m0 0h1m3 0h1m5 0h1m1 0h1m0 0h1m0 0h1m0 0h1m0 0h1m1 0h1m5 0h1m0 0h1m5 0h1m-75 1h1m9 0h1m1 0h1m2 0h1m0 0h1m0 0h1m0 0h1m1 0h1m2 0h1m0 0h1m0 0h1m0 0h1m0 0h1m1 0h1m0 0h1m0 0h1m0 0h1m0 0h1m1 0h1m1 0h1m1 0h1m0 0h1m1 0h1m0 0h1m1 0h1m1 0h1m0 0h1m0 0h1m0 0h1m4 0h1m1 0h1m2 0h1m8 0h1m1 0h1m2 0h1m-68 1h1m4 0h1m0 0h1m4 0h1m0 0h1m1 0h1m0 0h1m2 0h1m1 0h1m0 0h1m0 0h1m3 0h1m1 0h1m1 0h1m0 0h1m0 0h1m1 0h1m0 0h1m1 0h1m1 0h1m0 0h1m0 0h1m2 0h1m0 0h1m1 0h1m0 0h1m4 0h1m7 0h1m9 0h1m-75 1h1m1 0h1m0 0h1m3 0h1m0 0h1m3 0h1m0 0h1m0 0h1m1 0h1m0 0h1m2 0h1m0 0h1m0 0h1m0 0h1m0 0h1m0 0h1m0 0h1m0 0h1m0 0h1m1 0h1m2 0h1m0 0h1m0 0h1m0 0h1m0 0h1m1 0h1m0 0h1m0 0h1m0 0h1m0 0h1m0 0h1m0 0h1m1 0h1m1 0h1m0 0h1m0 0h1m10 0h1m3 0h1m20 0h1m5 0h1m0 0h1m-103 1h1m2 0h1m10 0h1m0 0h1m0 0h1m2 0h1m0 0h1m0 0h1m0 0h1m1 0h1m0 0h1m0 0h1m10 0h1m0 0h1m1 0h1m1 0h1m1 0h1m1 0h1m1 0h1m0 0h1m1 0h1m1 0h1m3 0h1m0 0h1m10 0h1m9 0h1m-70 1h1m0 0h1m1 0h1m3 0h1m1 0h1m0 0h1m0 0h1m1 0h1m24 0h1m1 0h1m2 0h1m0 0h1m1 0h1m0 0h1m31 0h1m9 0h1m-94 1h1m0 0h1m2 0h1m4 0h1m2 0h1m31 0h1m4 0h1m1 0h1m1 0h1m0 0h1m1 0h1m3 0h1m5 0h1m9 0h1m2 0h1m3 0h1m5 0h1m8 0h1m-102 1h1m8 0h1m0 0h1m0 0h1m0 0h1m0 0h1m0 0h1m34 0h1m0 0h1m0 0h1m2 0h1m3 0h1m32 0h1m-96 1h1m7 0h1m2 0h1m2 0h1m40 0h1m1 0h1m1 0h1m3 0h1m3 0h1m1 0h1m1 0h1m2 0h1m10 0h1m27 0h1m-108 1h1m4 0h1m43 0h1m0 0h1m1 0h1m2 0h1m0 0h1m1 0h1m3 0h1m1 0h1m4 0h1m3 0h1m0 0h1m6 0h1m1 0h1m0 0h1m11 0h1m-102 1h1m3 0h1m2 0h1m53 0h1m8 0h1m3 0h1m4 0h1m4 0h1m13 0h1m3 0h1m-106 1h1m1 0h1m3 0h1m2 0h1m49 0h1m0 0h1m1 0h1m0 0h1m9 0h1m5 0h1m7 0h1m31 0h1m-121 1h1m5 0h1m54 0h1m2 0h1m1 0h1m0 0h1m0 0h1m2 0h1m0 0h1m2 0h1m0 0h1m3 0h1m10 0h1m7 0h1m6 0h1m-107 1h1m1 0h1m1 0h1m55 0h1m0 0h1m6 0h1m2 0h1m4 0h1m1 0h1m2 0h1m1 0h1m2 0h1m1 0h1m1 0h1m8 0h1m3 0h1m-106 1h1m1 0h1m62 0h1m6 0h1m2 0h1m2 0h1m7 0h1m0 0h1m1 0h1m5 0h1m4 0h1m1 0h1m0 0h1m4 0h1m0 0h1m-108 1h1m61 0h1m2 0h1m9 0h1m2 0h1m0 0h1m0 0h1m1 0h1m3 0h1m2 0h1m4 0h1m6 0h1m6 0h1m-114 1h1m3 0h1m62 0h1m0 0h1m12 0h1m1 0h1m1 0h1m2 0h1m1 0h1m3 0h1m1 0h1m1 0h1m0 0h1m0 0h1m0 0h1m2 0h1m14 0h1m-118 1h1m68 0h1m2 0h1m5 0h1m0 0h1m1 0h1m1 0h1m0 0h1m0 0h1m0 0h1m0 0h1m1 0h1m3 0h1m1 0h1m5 0h1m2 0h1m3 0h1m0 0h1m-110 1h1m66 0h1m1 0h1m5 0h1m1 0h1m1 0h1m0 0h1m0 0h1m2 0h1m1 0h1m0 0h1m1 0h1m2 0h1m2 0h1m1 0h1m3 0h1m1 0h1m-104 1h1m64 0h1m1 0h1m0 0h1m1 0h1m9 0h1m3 0h1m0 0h1m0 0h1m0 0h1m2 0h1m0 0h1m0 0h1m1 0h1m0 0h1m6 0h1m6 0h1m-112 1h1m66 0h1m0 0h1m0 0h1m1 0h1m3 0h1m2 0h1m0 0h1m0 0h1m2 0h1m0 0h1m0 0h1m4 0h1m3 0h1m2 0h1m1 0h1m1 0h1m12 0h1m-116 1h1m68 0h1m1 0h1m0 0h1m1 0h1m1 0h1m9 0h1m4 0h1m1 0h1m1 0h1m10 0h1m0 0h1m-39 1h1m0 0h1m0 0h1m0 0h1m3 0h1m2 0h1m1 0h1m2 0h1m2 0h1m0 0h1m1 0h1m3 0h1m4 0h1m0 0h1m17 0h1m-123 1h1m71 0h1m0 0h1m0 0h1m0 0h1m4 0h1m2 0h1m0 0h1m0 0h1m0 0h1m0 0h1m1 0h1m0 0h1m1 0h1m5 0h1m0 0h1m0 0h1m1 0h1m9 0h1m-40 1h1m2 0h1m2 0h1m0 0h1m0 0h1m5 0h1m4 0h1m1 0h1m0 0h1m0 0h1m1 0h1m0 0h1m0 0h1m1 0h1m4 0h1m5 0h1m3 0h1m-47 1h1m2 0h1m2 0h1m0 0h1m1 0h1m0 0h1m3 0h1m5 0h1m0 0h1m1 0h1m4 0h1m0 0h1m13 0h1m-43 1h1m0 0h1m2 0h1m1 0h1m0 0h1m3 0h1m0 0h1m0 0h1m0 0h1m3 0h1m1 0h1m4 0h1m2 0h1m1 0h1m5 0h1m1 0h1m0 0h1m2 0h1m3 0h1m-119 1h1m69 0h1m2 0h1m0 0h1m3 0h1m2 0h1m0 0h1m3 0h1m0 0h1m7 0h1m1 0h1m1 0h1m3 0h1m2 0h1m17 0h1m-74 1h1m17 0h1m0 0h1m0 0h1m0 0h1m4 0h1m0 0h1m0 0h1m3 0h1m2 0h1m5 0h1m0 0h1m0 0h1m3 0h1m7 0h1m5 0h1m-61 1h1m1 0h1m13 0h1m0 0h1m1 0h1m0 0h1m2 0h1m0 0h1m0 0h1m3 0h1m0 0h1m1 0h1m0 0h1m1 0h1m4 0h1m19 0h1m2 0h1m1 0h1m4 0h1m-69 1h1m1 0h1m0 0h1m10 0h1m1 0h1m3 0h1m0 0h1m1 0h1m3 0h1m2 0h1m0 0h1m1 0h1m0 0h1m7 0h1m1 0h1m0 0h1m2 0h1m1 0h1m11 0h1m-69 1h1m2 0h1m0 0h1m0 0h1m7 0h1m1 0h1m1 0h1m0 0h1m5 0h1m3 0h1m1 0h1m3 0h1m0 0h1m4 0h1m0 0h1m3 0h1m0 0h1m3 0h1m2 0h1m2 0h1m1 0h1m4 0h1m1 0h1m-66 1h1m0 0h1m1 0h1m3 0h1m0 0h1m5 0h1m0 0h1m1 0h1m1 0h1m3 0h1m4 0h1m0 0h1m2 0h1m0 0h1m2 0h1m0 0h1m1 0h1m0 0h1m3 0h1m0 0h1m6 0h1m1 0h1m4 0h1m5 0h1m-66 1h1m2 0h1m2 0h1m4 0h1m6 0h1m2 0h1m1 0h1m1 0h1m2 0h1m1 0h1m0 0h1m0 0h1m3 0h1m1 0h1m0 0h1m4 0h1m19 0h1m-64 1h1m1 0h1m3 0h1m4 0h1m2 0h1m3 0h1m0 0h1m0 0h1m1 0h1m5 0h1m0 0h1m0 0h1m0 0h1m2 0h1m1 0h1m2 0h1m2 0h1m3 0h1m3 0h1m1 0h1m2 0h1m2 0h1m8 0h1m-72 1h1m2 0h1m2 0h1m0 0h1m3 0h1m0 0h1m1 0h1m1 0h1m2 0h1m0 0h1m1 0h1m15 0h1m3 0h1m4 0h1m0 0h1m4 0h1m0 0h1m0 0h1m2 0h1m-59 1h1m7 0h1m3 0h1m0 0h1m1 0h1m0 0h1m1 0h1m1 0h1m15 0h1m7 0h1m0 0h1m2 0h1m1 0h1m5 0h1m2 0h1m0 0h1m4 0h1m-49 1h1m11 0h1m7 0h1m0 0h1m0 0h1m4 0h1m4 0h1m14 0h1m-64 1h1m5 0h1m1 0h1m0 0h1m2 0h1m5 0h1m1 0h1m12 0h1m2 0h1m1 0h1m1 0h1m5 0h1m0 0h1m4 0h1m9 0h1m-65 1h1m0 0h1m3 0h1m0 0h1m11 0h1m12 0h1m11 0h1m1 0h1m17 0h1m0 0h1m5 0h1m1 0h1m-75 1h1m2 0h1m1 0h1m2 0h1m2 0h1m5 0h1m1 0h1m2 0h1m0 0h1m13 0h1m19 0h1m-58 1h1m4 0h1m1 0h1m0 0h1m0 0h1m23 0h1m2 0h1m1 0h1m0 0h1m-41 1h1m0 0h1m1 0h1m1 0h1m0 0h1m29 0h1m2 0h1m6 0h1m0 0h1m18 0h1m-68 1h1m1 0h1m22 0h1m8 0h1m4 0h1m0 0h1m5 0h1m1 0h1m13 0h1m-61 1h1m14 0h1m37 0h1m-95 1h1m50 0h1m11 0h1m11 0h1m5 0h1m22 0h1m-105 1h1m39 0h1m0 0h1m1 0h1m0 0h1m12 0h1m8 0h1m0 0h1m6 0h1m10 0h1m-88 1h1m0 0h1m36 0h1m5 0h1m34 0h1m7 0h1m22 0h1m-71 1h1m11 0h1m28 0h1m-44 1h1m2 0h1m0 0h1m5 0h1m31 0h1m-43 1h1m0 0h1m4 0h1m1 0h1m-8 1h1m12 0h1m16 0h1m18 0h1m-82 1h1m25 0h1m1 0h1m7 0h1m25 0h1m-61 1h1m24 0h1m0 0h1m4 0h1m1 0h1m-33 1h1m18 0h1m0 0h1m0 0h1m0 0h1m6 0h1m-26 1h1m15 0h1m7 0h1m-29 1h1m4 0h1m4 0h1m0 0h1m2 0h1m5 0h1m0 0h1m-17 1h1m0 0h1m1 0h1m0 0h1m2 0h1m0 0h1m0 0h1m2 0h1m0 0h1m0 0h1m1 0h1m1 0h1m-20 1h1m1 0h1m24 1h1m7 0h1m-31 1h1m6 0h1m0 0h1m4 0h1m-16 2h1m0 0h1m8 0h1m2 0h1m-7 1h1m-13 2h1m-1 2h1m12 1h1m8 2h1m-10 1h1" fill="none" stroke="#000" stroke-width="1.5"/>
<path d="M1126 99.5l3.5 0 3 1.5 1.5 2.5 0.5 4 0 5-1.5 6-2 6-4 8-4 7-5 7-9.5 10-5 3.5-4 2-4 1-3-1-1.5-1.5-1-2-0.5-4 0-4 2.5-10 5-11 6.5-11 8-9.5 8-6.5 6.5-3zM1065.5 175.5l17 1 3 1 3 2 3.5 5 1.5 5 0 5-2 5-3 2.5-4 1-3-0.5-7-3-3 1-3 3.5-5.5 9.5-3.5 5-5 5-5 2.5-6 1.5-5 0.5-6-2-4-2.5-3-3-2-3-1.5-4-0.5-4 1-8 1.5-4 2.5-4 5-5 6-3.5 20-7.5 8-2zM1124 104.5l2.5 0 2.5 1 1.5 3 0.5 3-1.5 9-4.5 11-6.5 11-8 8.5-4 3.5-4 2.5-3 0.5-3 0-1.5-1-1.5-2-0.5-6 2-9 4-9 6-10 6.5-8 7-5.5 5.5-2.5zM1057.5 180.5l8-1 9 3 8-1 3 1 3 2.5 2 3.5 0 4-1 4-3 2.5-3 0.5-3-1.5-5-3.5-2-0.5-1 0-2 2-3 4-8 15.5-6 6-6 3.5-5 1.5-6-0.5-5-2-3.5-2.5-2-3-2.5-6 0-7 1-4 1.5-4 4.5-5.5 6-4 7-3 14-4.5zM1119 111.5l2.5-1 2 0 2 1.5 1 2.5 0 3-0.5 4-3.5 9-5.5 9-6.5 7.5-6 4-3 0.5-2-0.5-1.5-2.5-0.5-5 1.5-6 2.5-6 3.5-6 4.5-6 5-5 4.5-3zM1052.5 185.5l5-1 4 0 3 1.5 2 2.5 0 3-1 3-6.5 17-5 7-2.5 2.5-4 2-4 1.5-4 0.5-4-1-3-1-5-4.5-2-5-0.5-3 0-4 2-6 3.5-5.5 5-4 7-3 10-2.5zM1115.5 120.5l3-0.5 1 1.5 0 4-1.5 5-3 5-3.5 4-3 2-3 0.5-1-1-0.5-2.5 0.5-3 1.5-4 4.5-6.5 5-4.5zM1044.5 190.5l9-1 3 1 2 1 1 1.5 0.5 2.5-1 8-3.5 9-2.5 4-2.5 2.5-3 2-4 1.5-4 0.5-3-0.5-5-2.5-3-3.5-2-5 0.5-6 2-5 4.5-5 5-3 6-2zM1043 194.5l6.5 0 3.5 2 2 4-0.5 6-2.5 7-3.5 4.5-5 3-3 0.5-3-0.5-4-1.5-3-3-2-4 0-5 1.5-4 3.5-4.5 5-3 4.5-1.5zM1038 199.5l4.5-1 4 1 3 2 1 3 0 4-1.5 5-3.5 4-4 1.5-4 0-3-1-2.5-2.5-1.5-4 0.5-4 1-3 2.5-3 3.5-2zM1037.5 203.5l2-0.5 3 0 3 1.5 1 2 0.5 3-1 3-1.5 2-3 2-3 0-2-0.5-2-1.5-1-2-0.5-2 0.5-3 1.5-2 2.5-2zM1039 208.5l1.5 0 1 1 0 1-1 1-2 0-0.5-1 0-1 1-1z" fill="none" stroke="#777" stroke-width="0.75" stroke-linejoin="round"/>
<rect x="995.5" y="67.5" width="198.5" height="194.5" fill="none" stroke="#333" stroke-width="1.3"/>
<line x1="1072" y1="67.5" x2="1072" y2="262" stroke="#111" stroke-width="1.5"/>
<line x1="995.5" y1="164" x2="1194" y2="164" stroke="#111" stroke-width="1.5"/>
<rect x="991.5" y="210.88" width="4" height="5" fill="#000"/>
<rect x="1038.15" y="262" width="6" height="4" fill="#000"/>
<path d="M990.5 248.39H995.5M990.5 174.48H995.5M990.5 114.18H995.5M1009.39 262V267M1072.91 262V267M1126.51 262V267M1176.13 262V267" fill="none" stroke="#000" stroke-width="1.2"/>
<path d="M993 226.14H995.5M993 213.12H995.5M993 203.89H995.5M993 196.72H995.5M993 190.87H995.5M993 185.92H995.5M993 181.64H995.5M993 177.86H995.5M993 156.32H995.5M993 145.71H995.5M993 138.17H995.5M993 132.33H995.5M993 127.56H995.5M993 123.52H995.5M993 120.02H995.5M993 116.94H995.5M993 96.03H995.5M993 85.41H995.5M993 77.88H995.5M993 72.04H995.5M1028.52 262V264.5M1039.7 262V264.5M1047.64 262V264.5M1053.79 262V264.5M1058.82 262V264.5M1063.08 262V264.5M1066.76 262V264.5M1070.01 262V264.5M1089.05 262V264.5M1098.49 262V264.5M1105.18 262V264.5M1110.38 262V264.5M1114.62 262V264.5M1118.21 262V264.5M1121.32 262V264.5M1124.06 262V264.5M1141.45 262V264.5M1150.19 262V264.5M1156.39 262V264.5M1161.2 262V264.5M1165.13 262V264.5M1168.45 262V264.5M1171.33 262V264.5M1173.86 262V264.5M1191.07 262V264.5" fill="none" stroke="#000" stroke-width="1"/>
<text transform="translate(976.01,49.5) scale(1.046,1)" font-size="28.5">+ CpG-pre-pDC</text>
<text transform="translate(984.19,191.41) rotate(-90) scale(0.908,1)" font-size="30.99">GFP</text>
<text transform="translate(1105.69,96) scale(1.079,1)" font-size="28.5">11.4%</text>
<text transform="translate(1096.3,247.5) scale(1.049,1)" font-size="28.5">5.94%</text>
<text transform="translate(1032.14,294) scale(1.036,1)" font-size="28.5">PDCA-1</text>
<line x1="1163" y1="111" x2="1228" y2="111" stroke="#000" stroke-width="3.5"/>
<polygon points="1226,100.5 1248.5,111 1226,121.5" fill="#000"/>
<path d="M1376 97h1m91 0h1m-142 5h1m94 0h1m-27 4h1m30 6h1m-44 1h1m-14 1h1m21 1h1m10 2h1m-66 1h1m33 1h1m31 0h1m31 0h1m-44 2h1m-78 2h1m34 1h1m37 3h1m-11 1h1m-7 5h1m12 0h1m12 0h1m-50 1h1m3 1h1m20 0h1m-16 1h1m8 0h1m23 0h1m-68 1h1m25 1h1m91 3h1m-114 1h1m100 3h1m-91 1h1m-9 1h1m87 0h1m-90 1h1m1 4h1m-10 5h1m97 1h1m-1 1h1m1 2h1m-106 1h1m101 3h1m18 2h1m-123 1h1m-7 1h1m108 0h1m-3 1h1m0 2h1m23 4h1m-127 1h1m4 0h1m102 4h1m12 0h1m-21 2h1m15 0h1m-4 1h1m6 1h1m-24 1h1m-85 1h1m-4 1h1m78 1h1m17 1h1m-15 2h1m-13 2h1m55 0h1m-44 1h1m-19 1h1m0 0h1m0 1h1m-60 1h1m128 0h1m-85 2h1m21 0h1m-19 1h1m1 0h1m-38 1h1m9 0h1m0 0h1m1 0h1m12 0h1m57 0h1m-63 1h1m-8 4h1m56 0h1m9 1h1m-64 1h1m14 2h1m-26 10h1m57 5h1m-66 1h1m88 2h1m-90 13h1m43 2h1" fill="none" stroke="#000" stroke-width="1.3"/>
<path d="M1369 136l7-1 7 0 7 1 7 1.5 6 2 6 3 5 4 4 4.5 2.5 4 2 5 0.5 5-1 5-1.5 5-3 5-3.5 4-5 4.5-8 5-10 4-10 2.5-12 0.5-10-1.5-10-3-8-5-6.5-6-3.5-7-1-4-0.5-4 1.5-8 4-7 6-6.5 8-6 10-4 10-2.5zM1373.5 137l10.5 0 10 1.5 9 3 7 4 6 5.5 3.5 6 1.5 7-1 7-3.5 7-5.5 6-7 5.5-9 5-10 3-9 1-10 0-10-2-6-2-5-3-4.5-3.5-4-4-2.5-5-1.5-5-0.5-5 1-5 2-5 3-5 4-4 5-4 6-3.5 6-2.5 7-2 7.5-1zM1370.5 139l6.5-0.5 7 0 12 2 6 2.5 5 2.5 4.5 3.5 3.5 4 2 4 1.5 5 0 5-1 4-2 5-3 4-4 4-4.5 3.5-8 4.5-9 3.5-9 1.5-10 0-9-1.5-8-2.5-7-4.5-5.5-5.5-3-6-1-7 1-7 3.5-7 6-6 7-5 9-4 9.5-2zM1375.5 140l9.5 0 9 1.5 8 3 6 4 4.5 4.5 3.5 6 0.5 6-1.5 7-3.5 6-5.5 6-7 4.5-9 4-9 2.5-9 0.5-9-1-8-2-5-2.5-4.5-3-3.5-3-2.5-4-2-4-1-5 0.5-4 1-5 2.5-4 3-4 3.5-3.5 5-3.5 5-2.5 6-2 7-2 5.5-0.5zM1372 142l12-0.5 11 2 9 4 4 3 3 3.5 2.5 4 1 4 0 4-0.5 4-2 4-2.5 4-7.5 7-8 4.5-8 2.5-8 1.5-9 0-8-1-8-3-6-4-4.5-4.5-3-6-0.5-6 1-6 3.5-6 5-5 6.5-4.5 8-3.5 9-2zM1377.5 143l8.5 0.5 7 1 7 3 6 4 4 4.5 2.5 6 0 5-2 6-3.5 5-6 5.5-7 4-8 3-8 1.5-9 0-8-1.5-7-2.5-7-5-2.5-3-2-4-1-3 0-4 0.5-4 1.5-4 2.5-4 3-3 8-5.5 10-4 10.5-1.5zM1373 145l11-0.5 10 2 8 4 3 2.5 3 3 1.5 3 1 4 0 3-1 4-2 4-2 3-6.5 5.5-6 3.5-7 2.5-8 2-8 0-7-1-7-2.5-5-3.5-4.5-4.5-2-5-1-5 1.5-6 3-5 4-4 6-4 7-3 8-2zM1380 146l7 0.5 7 1.5 6 3 4.5 4 2.5 4 1.5 5-0.5 5-2.5 5-4.5 5-6 4-7 3.5-7 1.5-8 1-7-1-6-1.5-6-3-4.5-4.5-3-6-0.5-3 0.5-4 2.5-6 5.5-6 7.5-4.5 9-2.5 9-1zM1374 148l9-0.5 9 1.5 7 3.5 5 4.5 2 5 0.5 3-0.5 3-3 6-5 5-6 4-6 2.5-6 1-7 0.5-7-0.5-6-2-5-3-3.5-3.5-2.5-4-0.5-5 1-5 2-4 4-4 5.5-4 6-2.5 7-1.5zM1371.5 150l7.5-1 8 0.5 7 2 5.5 3.5 3.5 4 1.5 5-1 5-3 5-4 4-5.5 3.5-6 2.5-6 1-7 0.5-6-1-5-1.5-4.5-3-3.5-4-2-4 0-4 1.5-5 2.5-4 4.5-4 5.5-3 6.5-2zM1374.5 151l7.5-0.5 7 1 6 2.5 4.5 4 2.5 4 0 5-2 5-4 4.5-5 3-5 2.5-5 1-6 1-6-0.5-5-1.5-4-2-3.5-3-2.5-4-1-4 1-4 2-4 3-3 5-3.5 5-2 5.5-1.5zM1372.5 153l6.5-1 6 0.5 5 1 5 2.5 3.5 4 1.5 3.5-0.5 4.5-2 4-3.5 3.5-4 3-5 2-5 1-6 0.5-5-0.5-5-1.5-3.5-2-3-3-1.5-3-0.5-4 1-4 3-4 3.5-3 4-2 5.5-2zM1375.5 154l5.5-0.5 6 1 5 2 3.5 2.5 2 3 0.5 4-1.5 4-3 4-4.5 3-4 1.5-9 2-5-0.5-4-1-4-2-2.5-2-2-3-0.5-3 0.5-4 2-3 2.5-2.5 3.5-2.5 4.5-2 4.5-1zM1373.5 156l5.5-1 5 0.5 4 1 4 2 2.5 2.5 1 3 0 4-2 3-2.5 2.5-3.5 2.5-4.5 1.5-4 1-8 0-4-1.5-3-1.5-2-2.5-1-2-0.5-3 0.5-3 2-3 3-2.5 3-2 4.5-1.5zM1376 157l4-0.5 4.5 0.5 3.5 1 3 2 1.5 2 1 3-0.5 3-2 3-5 4-7.5 2-3.5 0-4-0.5-5.5-2.5-1.5-2-1-3 0-2 1-3 2-2 3-2.5 7-2.5zM1374.5 159l3.5-0.5 4-0.5 3 1 3 1 2 2 1 2 0.5 2-1 3-2 2-2.5 2-5 2-7 0.5-5-2-2-1.5-1.5-2 0-2 0-2 3-4 6-3zM1376.5 160l6.5 0 4.5 2 1.5 3 0 2-1 2-3.5 3-5.5 1.5-5 0-4-1.5-2-3 0-2 0.5-2 3-3 5-2zM1375 162l5-1 4 1 1.5 1 1.5 2-0.5 3-2.5 2.5-4 1.5-4 0-3.5-1-2-2 0-3 1.5-2 3-2zM1377.5 163l3.5 0 2.5 1 1 2-0.5 2-2 1.5-3 1-3 0-2-1-1.5-1.5 0.5-2 2-2 2.5-1z" fill="none" stroke="#111" stroke-width="1" stroke-linejoin="round"/>
<rect x="1275" y="66" width="198" height="196" fill="none" stroke="#333" stroke-width="1.3"/>
<line x1="1334" y1="66" x2="1334" y2="262" stroke="#111" stroke-width="1.5"/>
<line x1="1275" y1="206" x2="1473" y2="206" stroke="#111" stroke-width="1.5"/>
<rect x="1271" y="210.5" width="4" height="5" fill="#000"/>
<rect x="1317.54" y="262" width="6" height="4" fill="#000"/>
<path d="M1270 248.28H1275M1270 173.8H1275M1270 113.04H1275M1288.86 262V267M1352.22 262V267M1405.68 262V267M1455.18 262V267" fill="none" stroke="#000" stroke-width="1.2"/>
<path d="M1272.5 225.86H1275M1272.5 212.74H1275M1272.5 203.44H1275M1272.5 196.22H1275M1272.5 190.32H1275M1272.5 185.34H1275M1272.5 181.02H1275M1272.5 177.21H1275M1272.5 155.51H1275M1272.5 144.81H1275M1272.5 137.22H1275M1272.5 131.33H1275M1272.5 126.52H1275M1272.5 122.45H1275M1272.5 118.93H1275M1272.5 115.82H1275M1272.5 94.75H1275M1272.5 84.05H1275M1272.5 76.46H1275M1272.5 70.57H1275M1307.93 262V264.5M1319.09 262V264.5M1327.01 262V264.5M1333.15 262V264.5M1338.16 262V264.5M1342.41 262V264.5M1346.08 262V264.5M1349.32 262V264.5M1368.31 262V264.5M1377.73 262V264.5M1384.41 262V264.5M1389.59 262V264.5M1393.82 262V264.5M1397.4 262V264.5M1400.5 262V264.5M1403.23 262V264.5M1420.58 262V264.5M1429.3 262V264.5M1435.48 262V264.5M1440.28 262V264.5M1444.2 262V264.5M1447.51 262V264.5M1450.38 262V264.5M1452.92 262V264.5M1470.08 262V264.5" fill="none" stroke="#000" stroke-width="1"/>
<text transform="translate(1249.69,186.1) rotate(-90) scale(0.897,1)" font-size="30.61">c-kit</text>
<text transform="translate(1380.65,96) scale(1.051,1)" font-size="28.5">98.8%</text>
<text transform="translate(1327.66,294) scale(1.044,1)" font-size="28.5">Sca-1</text>
<path d="M1690 71h1m-3 12h1m-28 4h1m26 17h1m-48 6h1m49 0h1m-20 4h1m34 0h1m-51 2h1m-39 3h1m85 0h1m-26 1h1m-32 3h1m8 3h1m9 3h1m-37 6h1m7 2h1m10 0h1m3 0h1m-12 1h1m-26 5h1m21 0h1m-41 4h1m91 3h1m-7 1h1m-104 2h1m19 0h1m71 0h1m-43 2h1m40 0h1m-25 1h1m4 1h1m16 0h1m-22 3h1m27 1h1m-81 3h1m83 3h1m-23 1h1m43 5h1m-107 1h1m63 5h1m1 0h1m49 2h1m-45 5h1m-81 2h1m74 5h1m1 2h1m19 1h1m-22 1h1m-92 1h1m138 0h1m-159 3h1m157 3h1m-165 3h1m123 1h1m-14 1h1m-1 1h1m40 0h1m-155 3h1m-10 3h1m115 3h1m10 0h1m-6 1h1m-68 2h1m71 0h1m-82 2h1m110 2h1m-133 1h1m49 2h1m39 8h1m-17 16h1m11 1h1" fill="none" stroke="#000" stroke-width="1.3"/>
<path d="M1647 139.5l1 0 1 1 1 3 0 4-1 11 0.5 4 2 3 6 8 3 5 2.5 7 1 8-0.5 9-2.5 8-4.5 8-5.5 5.5-5 3.5-5 2-5 1-6 0.5-9-1.5-14-7-7-2-7 0-14 4.5-9 0.5-5-0.5-5-1.5-4-2-3-3-2-4-0.5-4 1.5-4 3-3 5-3 6-2 7-0.5 14 0.5 3-0.5 3-1.5 2-2 1-2 2.5-10 2.5-6 2.5-5 3.5-4 5-4.5 6-3 6-2 8-1 3-1 3-3.5 5.5-10 1.5-2 2-1zM1636.5 163.5l4.5-0.5 2 1.5 11 14 2.5 5 1.5 6 0.5 9-2 8-2 4-2.5 4-6 5.5-4 2.5-4 1.5-8 0.5-8-1.5-14-6.5-10-2.5-6 0-12 5.5-8 2-4-0.5-4-1-3-1.5-3-3-1-3 1-4 3-3 4-2 4-1 5 0 16 2.5 3 0 4-2 3-2.5 1.5-2 4.5-17 2.5-5 3.5-4.5 5-4 5-2.5 5-1 9.5-1zM1626.5 168.5l4.5-0.5 6 0 3 1 3 2 5 5 3.5 4.5 2.5 5 1 5 0.5 5-1 6-1.5 5-2 4-3.5 4-3.5 3-4 2-5 1.5-7 0-7-2-13-7.5-2.5-2-1-2 0-2 3-17 3-8 2.5-4 4-3.5 5-3 4.5-1.5zM1569 206.5l5 0 4.5 1 3 2 0.5 1 0 2-3 3-4 1.5-5 0.5-4-1-1.5-1-1.5-2 0-3 2-2.5 4-1.5zM1626 171.5l4-0.5 5 0 4 1 3 2 4 3.5 2.5 3 2.5 4 1.5 5 0.5 5 0 4-1.5 5-1.5 4-3 4-3 2.5-4 2.5-4 1.5-7 0.5-8-2.5-8-5.5-2.5-3-1-3-0.5-6 0.5-7 1.5-5 1.5-4 2.5-4 3-3 4-2.5 4-1.5zM1627.5 173.5l3.5-0.5 4 0.5 4 1 3 2 3 2.5 2.5 3.5 2 4 1 4 0.5 8-1 4-2 4-3 4-3 2.5-3 2-4 1-4 0.5-4-0.5-7-3-5.5-4.5-1.5-3-1-3-0.5-5 0-5 1-5 2-4 2.5-4 3-2.5 3-2 4.5-1.5zM1627 175.5l4-0.5 4 0.5 3 0.5 3 2 3 2.5 2 3 3 7 0.5 4-0.5 4-2.5 7-4.5 5.5-3 2-4 1-7 0-4-1-3-1.5-3-2.5-2-2.5-2.5-6-0.5-4 0.5-5 2.5-7 2-3 3-3 6-3zM1626.5 177.5l3.5-1 3 0 6 2 3 2.5 2.5 2.5 1.5 3 1.5 4 0.5 7-1 4-1.5 3-4.5 5-6 3-6 0-6-2-5-4-1.5-3-1-3-0.5-7 1.5-7 2-3 2.5-3 5.5-3zM1628.5 178.5l3.5-0.5 3 0.5 5 2.5 2.5 2.5 2 3 2 6 0 6-2.5 6-4 4-3 2-3 0.5-6 0-5.5-2.5-3.5-4-2.5-6 0-7 2.5-6 4-4.5 5.5-2.5zM1627 180.5l3-1 3 0 5 2 4.5 4 2.5 5 0.5 6-2 6-3.5 4.5-5 2.5-5 0.5-5-1.5-4.5-4-2.5-5-0.5-6 2-6 3-4 4.5-3zM1628.5 181.5l4.5-0.5 5 2 3.5 3.5 2.5 5 0 6-2 5-3.5 4-4.5 2-5 0-4.5-2-3-3-2-5-0.5-6 2-5 3-3.5 4.5-2.5zM1630.5 182.5l4.5 0.5 4 2.5 3 4 1 5-1 5-2 4-4 3-4 1-4-1-4-2.5-2.5-3.5-1-5 0.5-5 2-4 3-2.5 4.5-1.5zM1628 184.5l4-0.5 4 1 3 2.5 2 4 0.5 5-1 4-2.5 3-4 2-4 0.5-3-1.5-3-2.5-2-3.5-0.5-4 1-4 2.5-4 3-2zM1629.5 185.5l4 0 3.5 2 2 2 1.5 4-0.5 4-1 3-3 2.5-3 1.5-4-0.5-3-1.5-2-3-1-3 0-4 1.5-3 2.5-3 2.5-1zM1628.5 187.5l2.5-0.5 3 0 2 1.5 2.5 3 0.5 4-0.5 3-1.5 2-3 2-3 0.5-3-1-2-2-1.5-2.5 0-3 0.5-3 1-2 2.5-2zM1631 188.5l3 0.5 2 1.5 1 2 0.5 2-0.5 3-1 1.5-2 2-2 0.5-2-0.5-2-1-1.5-2.5-0.5-2 0-2 1-2.5 2-2 2-0.5zM1629.5 191.5l2.5-1 2 1 1 1 0.5 3-0.5 1.5-1.5 1.5-2.5 0.5-2.5-1.5-0.5-3 1.5-3z" fill="none" stroke="#333" stroke-width="0.8" stroke-linejoin="round"/>
<rect x="1524" y="68.5" width="204" height="193.5" fill="none" stroke="#333" stroke-width="1.3"/>
<line x1="1594.5" y1="68.5" x2="1594.5" y2="262" stroke="#111" stroke-width="1.5"/>
<line x1="1524" y1="205" x2="1728" y2="205" stroke="#111" stroke-width="1.5"/>
<rect x="1520" y="211.12" width="4" height="5" fill="#000"/>
<rect x="1567.92" y="262" width="6" height="4" fill="#000"/>
<path d="M1519 248.46H1524M1519 174.93H1524M1519 114.94H1524M1538.28 262V267M1603.56 262V267M1658.64 262V267M1709.64 262V267" fill="none" stroke="#000" stroke-width="1.2"/>
<path d="M1521.5 226.32H1524M1521.5 213.37H1524M1521.5 204.19H1524M1521.5 197.06H1524M1521.5 191.24H1524M1521.5 186.31H1524M1521.5 182.05H1524M1521.5 178.29H1524M1521.5 156.87H1524M1521.5 146.3H1524M1521.5 138.81H1524M1521.5 133H1524M1521.5 128.25H1524M1521.5 124.23H1524M1521.5 120.75H1524M1521.5 117.68H1524M1521.5 96.88H1524M1521.5 86.32H1524M1521.5 78.83H1524M1521.5 73.01H1524M1557.93 262V264.5M1569.43 262V264.5M1577.58 262V264.5M1583.91 262V264.5M1589.08 262V264.5M1593.45 262V264.5M1597.23 262V264.5M1600.57 262V264.5M1620.14 262V264.5M1629.84 262V264.5M1636.72 262V264.5M1642.06 262V264.5M1646.42 262V264.5M1650.11 262V264.5M1653.3 262V264.5M1656.12 262V264.5M1673.99 262V264.5M1682.97 262V264.5M1689.35 262V264.5M1694.29 262V264.5M1698.33 262V264.5M1701.74 262V264.5M1704.7 262V264.5M1707.31 262V264.5M1724.99 262V264.5" fill="none" stroke="#000" stroke-width="1"/>
<text transform="translate(1504.95,215.27) rotate(-90) scale(1.173,1)" font-size="24.06">Siglec-H</text>
<text transform="translate(1632.49,97) scale(1.059,1)" font-size="28.5">72.8%</text>
<text transform="translate(1576.45,293.7) scale(1.085,1)" font-size="28.5">CD11c</text>
<path d="M1887 139l4.5-0.5 4 1 4.5 2.5 4 4 4.5 8 4 13 2.5 6 3.5 5 10 11 3 5 1.5 4 0.5 4 0 4-1 4-2 4-3 3.5-4 3-5 3-5 2-7 1.5-7 0.5-7-1-6-1.5-6-3.5-4.5-3.5-4-5-2.5-5-1-5 0-5 4-20 1-16 1-7 1.5-5 2.5-5 4-4 4.5-2zM1887 143l3.5-0.5 4 0.5 3 2 3 3 4 7 3.5 15 2.5 6 3 4 11 11.5 2.5 3.5 2 4 0.5 3 0 4-1 4-2 3-2.5 3-3.5 2.5-8 3.5-6 1.5-6 0.5-6-0.5-6-2-5-2.5-4-3-3.5-4-2-4-0.5-4 0-5 3-14 1-6-0.5-16 0.5-7 1.5-5 1.5-3 3-3 3.5-2zM1886.5 146l3-1 4 0.5 3 2 2.5 2.5 2 3 1.5 4 2 14.5 2 5.5 4 5 11 10 2.5 3 2 4 1 6-0.5 3-1.5 3-4.5 5-7 3.5-6 2-5 0.5-6-0.5-5-1-5-2.5-4-2.5-3-3.5-2.5-4-0.5-4 0-5 4-14 1-5-0.5-5-2-11 0-6 1-4 1.5-3 2.5-3 2.5-2zM1887.5 148l2-0.5 3 0 3 2 2 2 2 3.5 1 4 1 14 1.5 5 4.5 5 12 10 2.5 3 2 4 1 3-0.5 3-2 5-5 5-6 2.5-5 1.5-5 0.5-5-0.5-5-1.5-4-2-3.5-2.5-3-3-2-4-0.5-4 0.5-5 5-13 1-5-0.5-4-3.5-11 0-7 2-6 1.5-2 3-2zM1887.5 150l3-0.5 3 0.5 3 3 1.5 3 1 7-1.5 12 1.5 4 4 4 13.5 9.5 3.5 3.5 2.5 4 0.5 5-1.5 5-4 4-6 3.5-4 1-5 0.5-5-0.5-5-1-4-2-3.5-2.5-2.5-3-1.5-3-0.5-4 0.5-5 2-5 4.5-9 1.5-4-1-4-4.5-9-1-6 0.5-4 1-3 1.5-2.5 2-1.5zM1888 152l2.5-0.5 3 1 2 2 1.5 3.5 0.5 4-1 4.5-2 4-2 1.5-2 0-3-2.5-2-2.5-1-4-0.5-3 0.5-3.5 1.5-2.5 2-2zM1893.5 184l2-0.5 2 0.5 8 3 8 5 5 4.5 2.5 4.5 0.5 4-1 4-4 4.5-4 2-4 1.5-4 1-5 0-8-2-4-2.5-2.5-2.5-2-3-1-3 0-3 0.5-4 2-4 3-4.5 3-3.5 3-2zM1888.5 154l2-0.5 2 0.5 1.5 2 1.5 3 0 3-1 3-1 1.5-2 1.5-3-1-1.5-2-1-3 0-5 2.5-3zM1896 187l5.5 0.5 7 3 6 3.5 3.5 4 2 4 0 4-2 4-3 3-3.5 2-4 1.5-8 0.5-4-1-4-1.5-3-2-2.5-2.5-2-3-0.5-3 0-3 1-4 2-3 3-3.5 3-2.5 3.5-1zM1889 157l1.5-0.5 2 1.5 0.5 3-0.5 1.5-1 1-2 0-1-1.5-0.5-3 1-2zM1893.5 190l4-1 5 0.5 7 3 5 3 3 3.5 1.5 4-0.5 4-2 3-3 3-3 1.5-4 1-4 0.5-4-0.5-4-0.5-6-3.5-2-2.5-1.5-3-0.5-3 0.5-3 1.5-3 2-3 2-2 3-2zM1896 191l4.5-0.5 5 1.5 5 2 4 3 2.5 4 1 3-1 4-2.5 3-3 2-3 1-7 1-7-1-3-1.5-2.5-2.5-1.5-2-1.5-3 0-3 1-3 1.5-3 2-2 3-2 2.5-1zM1899.5 192l4 0.5 5 1.5 4 2.5 3 3.5 1 3 0 3-1.5 3-3.5 3-6 2-7 0-6-2-4-4-1-2-0.5-3 1.5-5 2-2.5 3-2 3-1 3-0.5zM1895.5 194l4-1 4 0.5 4 1.5 4 2 2.5 3 1.5 3-0.5 3-1.5 3-2 2-3 1.5-6 1-6-1-5-2.5-2.5-4-0.5-2 0-3 2.5-4 4.5-3zM1896 195l3.5-0.5 4 0 4 1.5 3 1.5 2.5 2.5 1 3 0 3-1 2-3.5 3-6 1.5-6-0.5-4.5-2-2-2-1-2-0.5-4 2-4 4.5-3zM1896.5 196l3-0.5 4 0 3 1 3 1.5 2 2 1.5 3 0 3-1 2-3.5 2.5-5 1.5-5-0.5-5-2.5-2.5-3 0-4 1.5-3 4-3zM1897 197l3.5-0.5 3 0 3 1 2.5 1.5 2 2 1 2-0.5 3-1 2-3 2-5 1-4-0.5-4-2-2-2.5-0.5-2 0-2 2-3 3-2zM1897.5 198l5-0.5 5 1.5 2 2 1 2 0.5 2-1 2-2.5 2-4 1-4 0-4-2-2-2-0.5-3 1.5-3 3-2zM1898.5 199l4-0.5 4.5 1.5 2.5 3 0 2-1 1.5-3 2-3 1-3-0.5-3-1.5-2-2.5 0-2 1-2 3-2zM1899 200l3.5-0.5 3.5 1.5 2 2-0.5 3-2 1.5-2 0.5-3 0-2.5-1-2-2 0-2 1.5-2 1.5-1zM1899 202l2.5-1 2 0.5 2.5 1.5 0 2-2.5 2-2 0-2-0.5-1.5-1.5 0-1 1-2z" fill="none" stroke="#666" stroke-width="0.8" stroke-linejoin="round"/>
<rect x="1779.6" y="71" width="197.4" height="190.5" fill="none" stroke="#333" stroke-width="1.3"/>
<line x1="1867.4" y1="71" x2="1867.4" y2="261.5" stroke="#111" stroke-width="1.5"/>
<line x1="1779.6" y1="198" x2="1977" y2="198" stroke="#111" stroke-width="1.5"/>
<rect x="1775.6" y="211.38" width="4" height="5" fill="#000"/>
<rect x="1822" y="261.5" width="6" height="4" fill="#000"/>
<path d="M1774.6 248.17H1779.6M1774.6 175.78H1779.6M1774.6 116.72H1779.6M1793.42 261.5V266.5M1856.59 261.5V266.5M1909.88 261.5V266.5M1959.23 261.5V266.5" fill="none" stroke="#000" stroke-width="1.2"/>
<path d="M1777.1 226.37H1779.6M1777.1 213.63H1779.6M1777.1 204.58H1779.6M1777.1 197.57H1779.6M1777.1 191.83H1779.6M1777.1 186.99H1779.6M1777.1 182.79H1779.6M1777.1 179.09H1779.6M1777.1 158H1779.6M1777.1 147.6H1779.6M1777.1 140.22H1779.6M1777.1 134.5H1779.6M1777.1 129.82H1779.6M1777.1 125.87H1779.6M1777.1 122.44H1779.6M1777.1 119.42H1779.6M1777.1 98.94H1779.6M1777.1 88.54H1779.6M1777.1 81.17H1779.6M1777.1 75.44H1779.6M1812.43 261.5V264M1823.56 261.5V264M1831.45 261.5V264M1837.57 261.5V264M1842.57 261.5V264M1846.8 261.5V264M1850.46 261.5V264M1853.7 261.5V264M1872.63 261.5V264M1882.02 261.5V264M1888.67 261.5V264M1893.84 261.5V264M1898.06 261.5V264M1901.63 261.5V264M1904.72 261.5V264M1907.45 261.5V264M1924.74 261.5V264M1933.43 261.5V264M1939.6 261.5V264M1944.38 261.5V264M1948.29 261.5V264M1951.59 261.5V264M1954.45 261.5V264M1956.98 261.5V264M1974.09 261.5V264" fill="none" stroke="#000" stroke-width="1"/>
<text transform="translate(1766.3,196.2) rotate(-90) scale(0.929,1)" font-size="29.58">B220</text>
<text transform="translate(1882.41,102.5) scale(1.043,1)" font-size="28.5">48.2%</text>
<text transform="translate(1815.61,293.7) scale(1.048,1)" font-size="28.5">PDCA-1</text>
<path d="M1039.5 490l3.5-1 4 0.5 3 0.5 3 2 1.5 2 1 2-0.5 3-1.5 2-3 3-4.5 1.5-5 0-4-1.5-3-4 0-4 2-3.5 3.5-2.5z" fill="#aaa"/>
<path d="M1041 493l4-0.5 4 2 1 1.5 0 2-1.5 3-4.5 1.5-3-0.5-2-1-1-2-0.5-2 1.5-2.5 2-1.5z" fill="#888"/>
<path d="M1160 354h1m-5 1h1m4 0h1m0 1h1m1 0h1m-11 1h1m23 0h1m-45 1h1m7 0h1m1 0h1m4 0h1m5 0h1m1 0h1m0 0h1m-14 1h1m16 0h1m11 0h1m-30 1h1m3 0h1m0 0h1m-23 1h1m1 0h1m11 0h1m23 0h1m-7 1h1m1 0h1m9 0h1m-40 1h1m11 0h1m4 0h1m0 0h1m2 0h1m3 0h1m5 0h1m6 0h1m-28 1h1m1 0h1m8 0h1m8 0h1m-15 1h1m0 0h1m18 0h1m-16 1h1m1 0h1m4 0h1m6 0h1m-27 1h1m0 0h1m1 0h1m12 0h1m-12 1h1m0 0h1m0 0h1m3 0h1m1 0h1m0 0h1m0 0h1m11 0h1m1 0h1m4 0h1m-38 1h1m2 0h1m0 0h1m8 0h1m5 0h1m6 0h1m-37 1h1m8 0h1m2 0h1m4 0h1m2 0h1m2 0h1m1 0h1m1 0h1m6 0h1m8 0h1m-39 1h1m9 0h1m2 0h1m3 0h1m3 0h1m0 0h1m0 0h1m1 0h1m2 0h1m0 0h1m2 0h1m-40 1h1m8 0h1m0 0h1m2 0h1m1 0h1m7 0h1m7 0h1m14 0h1m-42 1h1m5 0h1m1 0h1m1 0h1m1 0h1m0 0h1m10 0h1m0 0h1m1 0h1m1 0h1m5 0h1m4 0h1m8 0h1m-60 1h1m12 0h1m2 0h1m1 0h1m15 0h1m3 0h1m0 0h1m0 0h1m-38 1h1m0 0h1m1 0h1m7 0h1m2 0h1m21 0h1m6 0h1m9 0h1m-54 1h1m11 0h1m24 0h1m3 0h1m-36 1h1m3 0h1m27 0h1m2 0h1m0 0h1m-34 1h1m1 0h1m0 0h1m24 0h1m2 0h1m1 0h1m-43 1h1m3 0h1m3 0h1m2 0h1m24 0h1m1 0h1m0 0h1m3 0h1m-49 1h1m4 0h1m2 0h1m4 0h1m1 0h1m43 0h1m-49 1h1m31 0h1m0 0h1m3 0h1m1 0h1m-50 1h1m5 0h1m0 0h1m30 0h1m-34 1h1m5 0h1m28 0h1m0 0h1m-43 1h1m3 0h1m3 0h1m0 0h1m2 0h1m27 0h1m1 0h1m2 0h1m2 0h1m-42 1h1m3 0h1m35 0h1m5 0h1m-50 1h1m0 0h1m2 0h1m0 0h1m0 0h1m29 0h1m0 0h1m-37 1h1m3 0h1m32 0h1m1 0h1m1 0h1m-53 1h1m0 0h1m10 0h1m1 0h1m34 0h1m13 0h1m-111 1h1m49 0h1m1 0h1m0 0h1m6 0h1m32 0h1m2 0h1m1 0h1m2 0h1m-53 1h1m2 0h1m0 0h1m41 0h1m20 0h1m-72 1h1m8 0h1m1 0h1m0 0h1m35 0h1m4 0h1m-51 1h1m1 0h1m2 0h1m0 0h1m0 0h1m37 0h1m1 0h1m2 0h1m0 0h1m-51 1h1m1 0h1m5 0h1m36 0h1m0 0h1m4 0h1m-55 1h1m4 0h1m2 0h1m0 0h1m48 0h1m-117 1h1m57 0h1m2 0h1m1 0h1m1 0h1m2 0h1m0 0h1m34 0h1m1 0h1m0 0h1m4 0h1m4 0h1m4 0h1m-122 1h1m53 0h1m5 0h1m3 0h1m38 0h1m0 0h1m4 0h1m2 0h1m-47 1h1m34 0h1m0 0h1m0 0h1m0 0h1m1 0h1m2 0h1m-53 1h1m7 0h1m35 0h1m0 0h1m0 0h1m0 0h1m0 0h1m2 0h1m-99 1h1m43 0h1m0 0h1m3 0h1m0 0h1m3 0h1m36 0h1m0 0h1m-102 1h1m57 0h1m1 0h1m0 0h1m-76 1h1m15 0h1m9 0h1m44 0h1m1 0h1m2 0h1m0 0h1m37 0h1m-88 1h1m37 0h1m8 0h1m38 0h1m0 0h1m2 0h1m0 0h1m7 0h1m0 0h1m-123 1h1m5 0h1m20 0h1m22 0h1m0 0h1m18 0h1m37 0h1m1 0h1m-90 1h1m41 0h1m4 0h1m0 0h1m0 0h1m38 0h1m3 0h1m-114 1h1m19 0h1m42 0h1m0 0h1m0 0h1m0 0h1m40 0h1m0 0h1m1 0h1m1 0h1m15 0h1m-106 1h1m8 0h1m6 0h1m8 0h1m14 0h1m46 0h1m-108 1h1m11 0h1m0 0h1m3 0h1m15 0h1m18 0h1m9 0h1m3 0h1m36 0h1m0 0h1m3 0h1m0 0h1m-88 1h1m28 0h1m12 0h1m0 0h1m38 0h1m0 0h1m1 0h1m-98 1h1m0 0h1m43 0h1m47 0h1m2 0h1m0 0h1m-83 1h1m23 0h1m11 0h1m0 0h1m0 0h1m0 0h1m39 0h1m-112 1h1m1 0h1m15 0h1m28 0h1m18 0h1m0 0h1m39 0h1m0 0h1m1 0h1m1 0h1m12 0h1m-109 1h1m7 0h1m21 0h1m8 0h1m51 0h1m0 0h1m-120 1h1m29 0h1m45 0h1m3 0h1m35 0h1m3 0h1m0 0h1m2 0h1m3 0h1m-108 1h1m55 0h1m0 0h1m0 0h1m0 0h1m34 0h1m1 0h1m1 0h1m1 0h1m10 0h1m-126 1h1m19 0h1m14 0h1m2 0h1m1 0h1m11 0h1m11 0h1m4 0h1m1 0h1m0 0h1m0 0h1m34 0h1m3 0h1m1 0h1m1 0h1m-76 1h1m21 0h1m8 0h1m35 0h1m5 0h1m-114 1h1m17 0h1m10 0h1m2 0h1m1 0h1m4 0h1m3 0h1m11 0h1m1 0h1m5 0h1m2 0h1m38 0h1m3 0h1m-112 1h1m22 0h1m43 0h1m1 0h1m0 0h1m0 0h1m1 0h1m32 0h1m1 0h1m2 0h1m-95 1h1m6 0h1m11 0h1m30 0h1m0 0h1m1 0h1m1 0h1m32 0h1m0 0h1m2 0h1m2 0h1m-117 1h1m8 0h1m4 0h1m14 0h1m11 0h1m1 0h1m16 0h1m12 0h1m1 0h1m33 0h1m4 0h1m0 0h1m2 0h1m-104 1h1m6 0h1m14 0h1m2 0h1m3 0h1m5 0h1m9 0h1m14 0h1m1 0h1m34 0h1m-103 1h1m1 0h1m8 0h1m8 0h1m0 0h1m0 0h1m23 0h1m2 0h1m14 0h1m2 0h1m29 0h1m0 0h1m3 0h1m1 0h1m2 0h1m3 0h1m-106 1h1m5 0h1m2 0h1m1 0h1m1 0h1m1 0h1m3 0h1m25 0h1m5 0h1m39 0h1m0 0h1m-83 1h1m5 0h1m9 0h1m0 0h1m2 0h1m2 0h1m17 0h1m8 0h1m29 0h1m0 0h1m4 0h1m0 0h1m-91 1h1m0 0h1m1 0h1m0 0h1m0 0h1m0 0h1m7 0h1m5 0h1m3 0h1m6 0h1m9 0h1m0 0h1m2 0h1m8 0h1m34 0h1m2 0h1m0 0h1m-118 1h1m9 0h1m8 0h1m2 0h1m0 0h1m3 0h1m0 0h1m1 0h1m7 0h1m3 0h1m0 0h1m12 0h1m7 0h1m7 0h1m2 0h1m0 0h1m0 0h1m27 0h1m0 0h1m1 0h1m0 0h1m4 0h1m-104 1h1m13 0h1m1 0h1m2 0h1m0 0h1m1 0h1m0 0h1m13 0h1m13 0h1m6 0h1m0 0h1m3 0h1m4 0h1m25 0h1m0 0h1m8 0h1m11 0h1m-114 1h1m3 0h1m26 0h1m12 0h1m5 0h1m2 0h1m3 0h1m3 0h1m0 0h1m29 0h1m12 0h1m0 0h1m-92 1h1m7 0h1m4 0h1m2 0h1m17 0h1m2 0h1m7 0h1m4 0h1m26 0h1m0 0h1m3 0h1m-106 1h1m2 0h1m6 0h1m13 0h1m2 0h1m20 0h1m9 0h1m2 0h1m6 0h1m0 0h1m0 0h1m1 0h1m22 0h1m-81 1h1m17 0h1m6 0h1m4 0h1m0 0h1m4 0h1m19 0h1m0 0h1m0 0h1m19 0h1m0 0h1m1 0h1m0 0h1m0 0h1m0 0h1m0 0h1m-92 1h1m5 0h1m18 0h1m5 0h1m8 0h1m7 0h1m9 0h1m6 0h1m17 0h1m1 0h1m2 0h1m0 0h1m-95 1h1m3 0h1m9 0h1m8 0h1m0 0h1m4 0h1m19 0h1m10 0h1m0 0h1m4 0h1m21 0h1m1 0h1m6 0h1m-124 1h1m33 0h1m0 0h1m6 0h1m5 0h1m16 0h1m5 0h1m1 0h1m4 0h1m10 0h1m3 0h1m1 0h1m18 0h1m0 0h1m3 0h1m0 0h1m2 0h1m2 0h1m13 0h1m-121 1h1m0 0h1m11 0h1m4 0h1m31 0h1m1 0h1m2 0h1m6 0h1m3 0h1m7 0h1m0 0h1m0 0h1m10 0h1m11 0h1m5 0h1m0 0h1m-97 1h1m5 0h1m4 0h1m6 0h1m6 0h1m5 0h1m9 0h1m2 0h1m5 0h1m1 0h1m9 0h1m4 0h1m0 0h1m2 0h1m2 0h1m2 0h1m0 0h1m1 0h1m0 0h1m3 0h1m0 0h1m1 0h1m3 0h1m5 0h1m-109 1h1m6 0h1m8 0h1m5 0h1m3 0h1m5 0h1m3 0h1m2 0h1m0 0h1m2 0h1m8 0h1m3 0h1m1 0h1m0 0h1m1 0h1m0 0h1m0 0h1m7 0h1m0 0h1m0 0h1m1 0h1m6 0h1m0 0h1m0 0h1m0 0h1m1 0h1m2 0h1m0 0h1m1 0h1m2 0h1m-98 1h1m7 0h1m2 0h1m2 0h1m6 0h1m17 0h1m7 0h1m1 0h1m5 0h1m4 0h1m2 0h1m0 0h1m1 0h1m4 0h1m0 0h1m4 0h1m4 0h1m7 0h1m5 0h1m0 0h1m-88 1h1m9 0h1m4 0h1m2 0h1m6 0h1m12 0h1m0 0h1m0 0h1m2 0h1m2 0h1m8 0h1m0 0h1m0 0h1m0 0h1m0 0h1m0 0h1m0 0h1m2 0h1m0 0h1m1 0h1m0 0h1m1 0h1m0 0h1m0 0h1m1 0h1m0 0h1m0 0h1m0 0h1m0 0h1m0 0h1m1 0h1m0 0h1m12 0h1m1 0h1m-116 1h1m35 0h1m0 0h1m0 0h1m12 0h1m9 0h1m2 0h1m0 0h1m1 0h1m1 0h1m0 0h1m0 0h1m0 0h1m1 0h1m1 0h1m1 0h1m0 0h1m1 0h1m3 0h1m3 0h1m0 0h1m0 0h1m0 0h1m2 0h1m4 0h1m2 0h1m1 0h1m0 0h1m0 0h1m-98 1h1m10 0h1m3 0h1m3 0h1m1 0h1m3 0h1m2 0h1m4 0h1m4 0h1m5 0h1m2 0h1m0 0h1m6 0h1m1 0h1m4 0h1m0 0h1m1 0h1m1 0h1m0 0h1m4 0h1m0 0h1m1 0h1m0 0h1m1 0h1m7 0h1m4 0h1m0 0h1m7 0h1m2 0h1m3 0h1m6 0h1m-108 1h1m2 0h1m4 0h1m13 0h1m1 0h1m3 0h1m2 0h1m2 0h1m4 0h1m0 0h1m1 0h1m1 0h1m1 0h1m0 0h1m0 0h1m4 0h1m1 0h1m0 0h1m3 0h1m1 0h1m0 0h1m0 0h1m3 0h1m1 0h1m1 0h1m1 0h1m0 0h1m0 0h1m0 0h1m0 0h1m2 0h1m2 0h1m0 0h1m3 0h1m-146 1h1m40 0h1m16 0h1m18 0h1m9 0h1m2 0h1m3 0h1m3 0h1m3 0h1m0 0h1m1 0h1m1 0h1m0 0h1m0 0h1m0 0h1m1 0h1m0 0h1m0 0h1m1 0h1m1 0h1m7 0h1m0 0h1m2 0h1m0 0h1m0 0h1m1 0h1m1 0h1m2 0h1m0 0h1m2 0h1m9 0h1m-103 1h1m8 0h1m3 0h1m2 0h1m4 0h1m12 0h1m3 0h1m2 0h1m0 0h1m1 0h1m0 0h1m2 0h1m1 0h1m0 0h1m0 0h1m0 0h1m0 0h1m2 0h1m0 0h1m0 0h1m0 0h1m0 0h1m1 0h1m1 0h1m0 0h1m0 0h1m1 0h1m0 0h1m1 0h1m0 0h1m2 0h1m3 0h1m2 0h1m4 0h1m19 0h1m-93 1h1m2 0h1m8 0h1m2 0h1m0 0h1m6 0h1m0 0h1m0 0h1m2 0h1m0 0h1m1 0h1m0 0h1m1 0h1m0 0h1m2 0h1m0 0h1m1 0h1m0 0h1m2 0h1m0 0h1m0 0h1m1 0h1m0 0h1m1 0h1m12 0h1m4 0h1m-87 1h1m0 0h1m2 0h1m6 0h1m1 0h1m10 0h1m2 0h1m6 0h1m0 0h1m2 0h1m0 0h1m1 0h1m4 0h1m0 0h1m0 0h1m0 0h1m1 0h1m0 0h1m5 0h1m0 0h1m0 0h1m0 0h1m0 0h1m1 0h1m0 0h1m0 0h1m0 0h1m0 0h1m3 0h1m1 0h1m1 0h1m2 0h1m0 0h1m3 0h1m0 0h1m5 0h1m0 0h1m5 0h1m-115 1h1m18 0h1m6 0h1m3 0h1m5 0h1m1 0h1m0 0h1m0 0h1m0 0h1m1 0h1m9 0h1m1 0h1m1 0h1m0 0h1m2 0h1m0 0h1m0 0h1m1 0h1m1 0h1m1 0h1m0 0h1m0 0h1m2 0h1m1 0h1m0 0h1m3 0h1m0 0h1m0 0h1m1 0h1m0 0h1m0 0h1m1 0h1m2 0h1m0 0h1m1 0h1m2 0h1m0 0h1m1 0h1m0 0h1m17 0h1m13 0h1m-110 1h1m4 0h1m6 0h1m0 0h1m11 0h1m0 0h1m3 0h1m2 0h1m1 0h1m0 0h1m2 0h1m0 0h1m0 0h1m2 0h1m6 0h1m1 0h1m0 0h1m1 0h1m0 0h1m0 0h1m0 0h1m0 0h1m1 0h1m0 0h1m1 0h1m1 0h1m1 0h1m0 0h1m4 0h1m-79 1h1m11 0h1m4 0h1m6 0h1m3 0h1m7 0h1m3 0h1m1 0h1m1 0h1m0 0h1m0 0h1m1 0h1m2 0h1m0 0h1m0 0h1m1 0h1m1 0h1m0 0h1m0 0h1m2 0h1m3 0h1m4 0h1m0 0h1m0 0h1m5 0h1m3 0h1m-104 1h1m17 0h1m5 0h1m1 0h1m10 0h1m6 0h1m3 0h1m0 0h1m1 0h1m0 0h1m6 0h1m0 0h1m0 0h1m4 0h1m0 0h1m0 0h1m0 0h1m0 0h1m0 0h1m0 0h1m0 0h1m0 0h1m0 0h1m0 0h1m2 0h1m1 0h1m3 0h1m0 0h1m0 0h1m0 0h1m2 0h1m0 0h1m2 0h1m3 0h1m0 0h1m2 0h1m0 0h1m-87 1h1m1 0h1m0 0h1m4 0h1m4 0h1m1 0h1m3 0h1m0 0h1m0 0h1m1 0h1m6 0h1m2 0h1m1 0h1m0 0h1m3 0h1m1 0h1m0 0h1m0 0h1m0 0h1m0 0h1m2 0h1m1 0h1m0 0h1m0 0h1m0 0h1m0 0h1m1 0h1m0 0h1m0 0h1m0 0h1m0 0h1m0 0h1m0 0h1m0 0h1m1 0h1m0 0h1m0 0h1m0 0h1m0 0h1m1 0h1m1 0h1m0 0h1m7 0h1m2 0h1m0 0h1m-86 1h1m8 0h1m0 0h1m0 0h1m11 0h1m3 0h1m1 0h1m4 0h1m1 0h1m1 0h1m0 0h1m0 0h1m0 0h1m0 0h1m0 0h1m2 0h1m0 0h1m0 0h1m0 0h1m1 0h1m0 0h1m2 0h1m1 0h1m3 0h1m3 0h1m3 0h1m1 0h1m0 0h1m2 0h1m0 0h1m0 0h1m6 0h1m-87 1h1m0 0h1m6 0h1m4 0h1m6 0h1m1 0h1m3 0h1m6 0h1m0 0h1m3 0h1m1 0h1m0 0h1m3 0h1m0 0h1m0 0h1m0 0h1m3 0h1m0 0h1m0 0h1m0 0h1m0 0h1m0 0h1m1 0h1m2 0h1m0 0h1m0 0h1m0 0h1m0 0h1m0 0h1m0 0h1m0 0h1m0 0h1m1 0h1m0 0h1m2 0h1m2 0h1m-77 1h1m9 0h1m3 0h1m5 0h1m5 0h1m1 0h1m0 0h1m2 0h1m0 0h1m1 0h1m0 0h1m0 0h1m2 0h1m0 0h1m0 0h1m1 0h1m0 0h1m0 0h1m2 0h1m0 0h1m0 0h1m0 0h1m0 0h1m0 0h1m0 0h1m4 0h1m0 0h1m0 0h1m0 0h1m1 0h1m0 0h1m5 0h1m0 0h1m3 0h1m1 0h1m5 0h1m10 0h1m-104 1h1m10 0h1m6 0h1m0 0h1m1 0h1m4 0h1m0 0h1m1 0h1m4 0h1m0 0h1m2 0h1m0 0h1m2 0h1m2 0h1m1 0h1m0 0h1m0 0h1m1 0h1m0 0h1m0 0h1m1 0h1m0 0h1m5 0h1m3 0h1m1 0h1m2 0h1m0 0h1m2 0h1m0 0h1m2 0h1m-93 1h1m9 0h1m3 0h1m17 0h1m1 0h1m5 0h1m1 0h1m5 0h1m1 0h1m2 0h1m0 0h1m2 0h1m2 0h1m2 0h1m1 0h1m0 0h1m0 0h1m0 0h1m0 0h1m0 0h1m0 0h1m3 0h1m0 0h1m2 0h1m0 0h1m0 0h1m0 0h1m1 0h1m2 0h1m1 0h1m0 0h1m0 0h1m0 0h1m0 0h1m5 0h1m2 0h1m1 0h1m0 0h1m-77 1h1m0 0h1m6 0h1m2 0h1m1 0h1m2 0h1m5 0h1m1 0h1m4 0h1m0 0h1m2 0h1m2 0h1m0 0h1m9 0h1m1 0h1m0 0h1m1 0h1m0 0h1m0 0h1m0 0h1m3 0h1m0 0h1m0 0h1m2 0h1m11 0h1m-82 1h1m1 0h1m2 0h1m5 0h1m4 0h1m0 0h1m9 0h1m0 0h1m3 0h1m1 0h1m3 0h1m0 0h1m0 0h1m0 0h1m11 0h1m0 0h1m0 0h1m1 0h1m1 0h1m0 0h1m0 0h1m2 0h1m0 0h1m0 0h1m1 0h1m1 0h1m1 0h1m0 0h1m4 0h1m-95 1h1m10 0h1m6 0h1m2 0h1m1 0h1m5 0h1m0 0h1m5 0h1m1 0h1m3 0h1m1 0h1m1 0h1m1 0h1m2 0h1m1 0h1m1 0h1m0 0h1m0 0h1m13 0h1m0 0h1m0 0h1m0 0h1m1 0h1m3 0h1m0 0h1m3 0h1m0 0h1m1 0h1m1 0h1m4 0h1m-81 1h1m8 0h1m6 0h1m0 0h1m9 0h1m0 0h1m6 0h1m0 0h1m1 0h1m19 0h1m0 0h1m1 0h1m2 0h1m16 0h1m-109 1h1m10 0h1m8 0h1m1 0h1m3 0h1m1 0h1m6 0h1m8 0h1m12 0h1m0 0h1m0 0h1m0 0h1m2 0h1m0 0h1m0 0h1m1 0h1m18 0h1m1 0h1m1 0h1m0 0h1m0 0h1m0 0h1m0 0h1m12 0h1m1 0h1m6 0h1m-93 1h1m10 0h1m0 0h1m0 0h1m0 0h1m2 0h1m3 0h1m2 0h1m4 0h1m3 0h1m3 0h1m2 0h1m0 0h1m0 0h1m20 0h1m1 0h1m0 0h1m0 0h1m0 0h1m0 0h1m0 0h1m0 0h1m1 0h1m0 0h1m0 0h1m2 0h1m2 0h1m1 0h1m10 0h1m-139 1h1m42 0h1m0 0h1m4 0h1m0 0h1m2 0h1m2 0h1m4 0h1m3 0h1m4 0h1m3 0h1m2 0h1m6 0h1m22 0h1m1 0h1m0 0h1m1 0h1m0 0h1m1 0h1m1 0h1m1 0h1m3 0h1m0 0h1m1 0h1m0 0h1m1 0h1m2 0h1m-120 1h1m23 0h1m2 0h1m3 0h1m1 0h1m2 0h1m2 0h1m7 0h1m8 0h1m5 0h1m2 0h1m0 0h1m1 0h1m1 0h1m0 0h1m0 0h1m23 0h1m0 0h1m3 0h1m0 0h1m0 0h1m0 0h1m0 0h1m0 0h1m0 0h1m2 0h1m0 0h1m4 0h1m-87 1h1m2 0h1m8 0h1m2 0h1m3 0h1m0 0h1m4 0h1m2 0h1m5 0h1m0 0h1m0 0h1m3 0h1m0 0h1m25 0h1m0 0h1m1 0h1m0 0h1m2 0h1m11 0h1m-98 1h1m6 0h1m11 0h1m3 0h1m1 0h1m1 0h1m1 0h1m2 0h1m0 0h1m14 0h1m1 0h1m1 0h1m27 0h1m2 0h1m2 0h1m0 0h1m0 0h1m0 0h1m2 0h1m1 0h1m-110 1h1m14 0h1m2 0h1m1 0h1m10 0h1m1 0h1m5 0h1m1 0h1m3 0h1m6 0h1m3 0h1m2 0h1m2 0h1m1 0h1m0 0h1m28 0h1m0 0h1m0 0h1m0 0h1m0 0h1m1 0h1m0 0h1m0 0h1m0 0h1m2 0h1m0 0h1m0 0h1m3 0h1m3 0h1m-123 1h1m1 0h1m17 0h1m10 0h1m1 0h1m7 0h1m0 0h1m0 0h1m5 0h1m3 0h1m7 0h1m5 0h1m1 0h1m30 0h1m1 0h1m0 0h1m1 0h1m1 0h1m4 0h1m0 0h1m2 0h1m3 0h1m-104 1h1m1 0h1m4 0h1m4 0h1m19 0h1m0 0h1m8 0h1m2 0h1m2 0h1m3 0h1m1 0h1m30 0h1m1 0h1m5 0h1m2 0h1m3 0h1m-140 1h1m29 0h1m18 0h1m11 0h1m0 0h1m1 0h1m3 0h1m7 0h1m6 0h1m2 0h1m1 0h1m2 0h1m0 0h1m31 0h1m0 0h1m0 0h1m1 0h1m0 0h1m0 0h1m0 0h1m2 0h1m-95 1h1m2 0h1m1 0h1m4 0h1m4 0h1m2 0h1m1 0h1m1 0h1m6 0h1m1 0h1m2 0h1m2 0h1m1 0h1m3 0h1m7 0h1m32 0h1m0 0h1m1 0h1m1 0h1m5 0h1m0 0h1m9 0h1m-116 1h1m9 0h1m2 0h1m4 0h1m7 0h1m3 0h1m11 0h1m6 0h1m1 0h1m4 0h1m1 0h1m0 0h1m0 0h1m32 0h1m0 0h1m0 0h1m0 0h1m0 0h1m0 0h1m0 0h1m4 0h1m3 0h1m0 0h1m1 0h1m0 0h1m2 0h1m-126 1h1m10 0h1m3 0h1m0 0h1m6 0h1m3 0h1m5 0h1m4 0h1m1 0h1m0 0h1m1 0h1m3 0h1m1 0h1m8 0h1m1 0h1m0 0h1m1 0h1m0 0h1m0 0h1m38 0h1m0 0h1m1 0h1m1 0h1m2 0h1m1 0h1m0 0h1m7 0h1m1 0h1m-139 1h1m5 0h1m6 0h1m10 0h1m1 0h1m2 0h1m1 0h1m1 0h1m0 0h1m3 0h1m0 0h1m2 0h1m6 0h1m1 0h1m1 0h1m0 0h1m1 0h1m1 0h1m1 0h1m0 0h1m2 0h1m1 0h1m0 0h1m0 0h1m0 0h1m5 0h1m2 0h1m39 0h1m5 0h1m0 0h1m1 0h1m7 0h1m2 0h1m-126 1h1m2 0h1m1 0h1m1 0h1m1 0h1m1 0h1m3 0h1m4 0h1m3 0h1m6 0h1m10 0h1m63 0h1m1 0h1m0 0h1m2 0h1m1 0h1m2 0h1m1 0h1m3 0h1m-117 1h1m0 0h1m6 0h1m2 0h1m0 0h1m4 0h1m81 0h1m1 0h1m0 0h1m0 0h1m1 0h1m0 0h1m13 0h1m-130 1h1m2 0h1m1 0h1m0 0h1m0 0h1m4 0h1m0 0h1m1 0h1m1 0h1m0 0h1m0 0h1m0 0h1m0 0h1m92 0h1m0 0h1m1 0h1m2 0h1m-126 1h1m12 0h1m2 0h1m0 0h1m4 0h1m1 0h1m89 0h1m0 0h1m2 0h1m-117 1h1m3 0h1m9 0h1m1 0h1m0 0h1m0 0h1m0 0h1m92 0h1m0 0h1m2 0h1m0 0h1m2 0h1m1 0h1m0 0h1m1 0h1m-141 1h1m21 0h1m1 0h1m1 0h1m4 0h1m95 0h1m0 0h1m2 0h1m0 0h1m2 0h1m0 0h1m1 0h1m3 0h1m-135 1h1m8 0h1m3 0h1m3 0h1m2 0h1m0 0h1m97 0h1m0 0h1m0 0h1m4 0h1m6 0h1m7 0h1m-144 1h1m4 0h1m4 0h1m1 0h1m0 0h1m6 0h1m2 0h1m98 0h1m0 0h1m0 0h1m6 0h1m1 0h1m-121 1h1m5 0h1m1 0h1m0 0h1m99 0h1m1 0h1m0 0h1m0 0h1m1 0h1m3 0h1m2 0h1m3 0h1m1 0h1m0 0h1m-145 1h1m21 0h1m102 0h1m0 0h1m0 0h1m1 0h1m1 0h1m1 0h1m2 0h1m2 0h1m12 0h1m-138 1h1m0 0h1m2 0h1m0 0h1m103 0h1m0 0h1m1 0h1m0 0h1m0 0h1m0 0h1m5 0h1m4 0h1m-129 1h1m2 0h1m1 0h1m105 0h1m2 0h1m5 0h1m14 0h1m-149 1h1m2 0h1m0 0h1m6 0h1m2 0h1m109 0h1m2 0h1m3 0h1m0 0h1m4 0h1m-141 1h1m16 0h1m0 0h1m0 0h1m0 0h1m0 0h1m106 0h1m0 0h1m0 0h1m0 0h1m0 0h1m2 0h1m0 0h1m1 0h1m0 0h1m1 0h1m7 0h1m-138 1h1m2 0h1m1 0h1m108 0h1m5 0h1m0 0h1m2 0h1m1 0h1m0 0h1m0 0h1m-138 1h1m4 0h1m0 0h1m1 0h1m0 0h1m2 0h1m0 0h1m1 0h1m0 0h1m0 0h1m107 0h1m1 0h1m1 0h1m0 0h1m2 0h1m3 0h1m1 0h1m2 0h1m4 0h1m-157 1h1m16 0h1m1 0h1m3 0h1m0 0h1m0 0h1m107 0h1m1 0h1m1 0h1m3 0h1m6 0h1m-137 1h1m8 0h1m0 0h1m1 0h1m108 0h1m0 0h1m2 0h1m1 0h1m0 0h1m3 0h1m1 0h1m1 0h1m6 0h1m-136 1h1m0 0h1m2 0h1m106 0h1m1 0h1m0 0h1m1 0h1m0 0h1m0 0h1m-137 1h1m14 0h1m112 0h1m0 0h1m0 0h1m0 0h1m1 0h1m0 0h1m1 0h1m1 0h1m4 0h1m12 0h1m-154 1h1m12 0h1m3 0h1m1 0h1m107 0h1m1 0h1m0 0h1m1 0h1m0 0h1m0 0h1m9 0h1m-139 1h1m0 0h1m116 0h1m1 0h1m0 0h1m0 0h1m1 0h1m0 0h1m1 0h1m1 0h1m0 0h1m1 0h1m0 0h1m0 0h1m0 0h1m2 0h1m-132 1h1m1 0h1m0 0h1m0 0h1m106 0h1m2 0h1m0 0h1m0 0h1m0 0h1m0 0h1m2 0h1m0 0h1m0 0h1m2 0h1m5 0h1m-137 1h1m4 0h1m2 0h1m104 0h1m2 0h1m1 0h1m0 0h1m1 0h1m4 0h1m-130 1h1m0 0h1m3 0h1m2 0h1m104 0h1m1 0h1m2 0h1m2 0h1m2 0h1m2 0h1m9 0h1m-140 1h1m1 0h1m10 0h1m0 0h1m97 0h1m3 0h1m2 0h1m4 0h1m3 0h1m10 0h1m0 0h1m-149 1h1m10 0h1m0 0h1m3 0h1m94 0h1m1 0h1m1 0h1m0 0h1m0 0h1m0 0h1m0 0h1m3 0h1m1 0h1m1 0h1m0 0h1m1 0h1m0 0h1m0 0h1m0 0h1m3 0h1m6 0h1m6 0h1m-143 1h1m3 0h1m1 0h1m3 0h1m3 0h1m81 0h1m2 0h1m0 0h1m0 0h1m0 0h1m0 0h1m5 0h1m0 0h1m0 0h1m0 0h1m0 0h1m0 0h1m2 0h1m1 0h1m0 0h1m1 0h1m1 0h1m1 0h1m2 0h1m6 0h1m-128 1h1m0 0h1m0 0h1m0 0h1m1 0h1m79 0h1m1 0h1m0 0h1m3 0h1m1 0h1m3 0h1m1 0h1m3 0h1m0 0h1m0 0h1m0 0h1m0 0h1m0 0h1m1 0h1m0 0h1m0 0h1m3 0h1m1 0h1m3 0h1m14 0h1m-147 1h1m13 0h1m82 0h1m2 0h1m0 0h1m5 0h1m2 0h1m3 0h1m1 0h1m0 0h1m0 0h1m3 0h1m-111 1h1m1 0h1m75 0h1m3 0h1m5 0h1m0 0h1m7 0h1m0 0h1m0 0h1m3 0h1m1 0h1m0 0h1m1 0h1m1 0h1m2 0h1m1 0h1m-125 1h1m11 0h1m71 0h1m2 0h1m1 0h1m1 0h1m3 0h1m2 0h1m0 0h1m0 0h1m0 0h1m1 0h1m0 0h1m0 0h1m0 0h1m4 0h1m3 0h1m2 0h1m1 0h1m0 0h1m10 0h1m-128 1h1m0 0h1m3 0h1m0 0h1m67 0h1m3 0h1m6 0h1m3 0h1m8 0h1m7 0h1m0 0h1m0 0h1m1 0h1m14 0h1m-138 1h1m13 0h1m1 0h1m4 0h1m0 0h1m61 0h1m1 0h1m0 0h1m1 0h1m1 0h1m1 0h1m1 0h1m1 0h1m3 0h1m2 0h1m0 0h1m1 0h1m14 0h1m4 0h1m4 0h1m1 0h1m1 0h1m2 0h1m-128 1h1m7 0h1m0 0h1m65 0h1m0 0h1m8 0h1m9 0h1m7 0h1m0 0h1m1 0h1m2 0h1m2 0h1m3 0h1m2 0h1m9 0h1m-127 1h1m4 0h1m0 0h1m56 0h1m0 0h1m5 0h1m34 0h1m2 0h1m2 0h1m0 0h1m5 0h1m5 0h1m0 0h1m-132 1h1m12 0h1m1 0h1m51 0h1m2 0h1m6 0h1m6 0h1m19 0h1m1 0h1m6 0h1m0 0h1m2 0h1m0 0h1m13 0h1m-131 1h1m3 0h1m11 0h1m42 0h1m2 0h1m9 0h1m2 0h1m36 0h1m4 0h1m3 0h1m0 0h1m6 0h1m-124 1h1m4 0h1m1 0h1m0 0h1m0 0h1m40 0h1m0 0h1m4 0h1m4 0h1m2 0h1m0 0h1m0 0h1m1 0h1m28 0h1m0 0h1m3 0h1m3 0h1m6 0h1m1 0h1m-112 1h1m3 0h1m1 0h1m2 0h1m34 0h1m0 0h1m2 0h1m0 0h1m3 0h1m6 0h1m1 0h1m22 0h1m4 0h1m4 0h1m3 0h1m7 0h1m4 0h1m-120 1h1m0 0h1m3 0h1m10 0h1m0 0h1m1 0h1m28 0h1m0 0h1m1 0h1m6 0h1m48 0h1m6 0h1m6 0h1m2 0h1m-129 1h1m18 0h1m4 0h1m28 0h1m0 0h1m4 0h1m2 0h1m0 0h1m1 0h1m8 0h1m35 0h1m0 0h1m0 0h1m0 0h1m5 0h1m-100 1h1m1 0h1m4 0h1m1 0h1m2 0h1m8 0h1m2 0h1m4 0h1m0 0h1m0 0h1m3 0h1m14 0h1m29 0h1m7 0h1m0 0h1m0 0h1m4 0h1m-107 1h1m14 0h1m17 0h1m3 0h1m0 0h1m0 0h1m8 0h1m52 0h1m3 0h1m4 0h1m2 0h1m-121 1h1m3 0h1m9 0h1m19 0h1m1 0h1m0 0h1m3 0h1m1 0h1m1 0h1m17 0h1m2 0h1m47 0h1m5 0h1m2 0h1m-117 1h1m2 0h1m10 0h1m9 0h1m1 0h1m3 0h1m22 0h1m41 0h1m12 0h1m4 0h1m-102 1h1m3 0h1m6 0h1m17 0h1m5 0h1m50 0h1m9 0h1m15 0h1m-118 1h1m10 0h1m10 0h1m77 0h1m-125 1h1m59 0h1m46 0h1m13 0h1m16 0h1m-92 1h1m-15 1h1m97 0h1m20 0h1m-147 1h1m9 0h1m93 0h1m-81 1h1m27 0h1m67 0h1m5 0h1m-117 1h1m110 0h1m-6 1h1m16 0h1m-31 2h1m8 0h1m2 1h1m13 0h1m-9 1h1m4 2h1" fill="none" stroke="#000" stroke-width="1.5"/>
<path d="M1147 373l4-1 4 1 3 2 2 4 0.5 5 0 5-1.5 7-2.5 7-4 8-3.5 6-5 6-5 5.5-5 4-5 2.5-4 1-4-0.5-2-1.5-2-2.5-1.5-6.5 0.5-9 3.5-11 6-11 6.5-9 8-8 7-4zM1099 457l3-1 3 0.5 3 1 3 2 7 7.5 5.5 9 2 6 0 6-2.5 6-4.5 4-4.5 1.5-15 2.5-21 7.5-10 3-13 3.5-8 1-8-0.5-8-2-7.5-4.5-3-3-2-3-1.5-3-0.5-3 0-3 1-3 4.5-6 6-5 8-3.5 9-2 12-1 22 0 7-1 2.5-1.5 2-2 4.5-9 2-2.5 2-1.5zM1148.5 377l2.5 0 3 1.5 2 2.5 1 4 0 5-0.5 5-4 11-6.5 11-4.5 5-4.5 4.5-4 2.5-4 1.5-3 0.5-3-0.5-1.5-1.5-1.5-2-1-3 0-4 1.5-9 3-9 5.5-9 6.5-8 6.5-5.5 3-1.5 3.5-1zM1100.5 462l2.5-1 2 0 5 2.5 6 5.5 4.5 7 1.5 6 0 5-2.5 5-3.5 3-4 1.5-13 2.5-26 9.5-19 5.5-7 1.5-8-0.5-8-2.5-6-4.5-4-5-1-3 0-3 0-3 1.5-3 4.5-5.5 6-4 7-2.5 8-1.5 12-0.5 21 0 7.5-1 2.5-1 3-2 5-8.5 2.5-2.5zM1145 383l3 0 2 0.5 1.5 1.5 1.5 3-0.5 7-2.5 9-5 9-6 7-4 3-3 1.5-3 1-2-0.5-1.5-1-1.5-1.5-1-4.5 0.5-7 2.5-7 4-7.5 5-6.5 5-4.5 5-2.5zM1104 468l3 0 4 2 3.5 4 2.5 5 1 4-0.5 4-2 3-3.5 2-14 3.5-24 10-20 6.5-7 1.5-7 0-7-2-6-4.5-3.5-5-1-5 0.5-3 1.5-3 4-5 6.5-4 6-1.5 7-1 35 0.5 7-0.5 3-1 2-1.5 6-7 3-2zM1142.5 391l2.5 0 1 1 1 2 0 5-2 6-3 5-4 4.5-4 2.5-3 0-2-2-0.5-3 0.5-4 2-5 2.5-4 3-4 3.5-3 2.5-1zM1104.5 480l2.5-1 1.5 1 1 2-0.5 2-3 1.5-3-0.5-0.5-2 2-3zM1044.5 482l9.5 0 27 2.5 9 2 2 1 0.5 1.5-2 3-3.5 3-11.5 6-23.5 9.5-6 1.5-6-0.5-6-2-5-3.5-3-5-0.5-5 2-5 4.5-5 6-2.5 6.5-1.5zM1040 485l5-0.5 5 0 17 3.5 5.5 2 1.5 1 0.5 2-1.5 2-2 2-18 11-7 2-7-0.5-4-1.5-3.5-3-2.5-4-0.5-4 1-4 2.5-3.5 4-3 4-1.5zM1043 487l6 0.5 5 1.5 4.5 3 1.5 3-1 4-3.5 4-5.5 3.5-5 1.5-5-0.5-4-2-3.5-3.5-1-4 0.5-4 2-3 4-2.5 5-1.5zM1040 491l3-1 3 0 5 2 2 2 0.5 2-0.5 3-1 2-3 2.5-4 1.5-4-0.5-3.5-1.5-2-3-0.5-3 1-3 4-3zM1042.5 496l2.5 0 1 1 0 1-1 1-1 0.5-2-0.5-0.5-2 1-1z" fill="none" stroke="#777" stroke-width="0.75" stroke-linejoin="round"/>
<rect x="992" y="353" width="197.5" height="195" fill="none" stroke="#333" stroke-width="1.3"/>
<line x1="1084.5" y1="353" x2="1084.5" y2="548" stroke="#111" stroke-width="1.5"/>
<line x1="992" y1="449" x2="1189.5" y2="449" stroke="#111" stroke-width="1.5"/>
<rect x="988" y="496.75" width="4" height="5" fill="#000"/>
<rect x="1034.42" y="548" width="6" height="4" fill="#000"/>
<path d="M987 534.35H992M987 460.25H992M987 399.8H992M1005.83 548V553M1069.03 548V553M1122.35 548V553M1171.72 548V553" fill="none" stroke="#000" stroke-width="1.2"/>
<path d="M989.5 512.04H992M989.5 499H992M989.5 489.74H992M989.5 482.56H992M989.5 476.69H992M989.5 471.73H992M989.5 467.43H992M989.5 463.64H992M989.5 442.05H992M989.5 431.41H992M989.5 423.86H992M989.5 418H992M989.5 413.21H992M989.5 409.16H992M989.5 405.66H992M989.5 402.57H992M989.5 381.6H992M989.5 370.96H992M989.5 363.41H992M989.5 357.55H992M1024.85 548V550.5M1035.98 548V550.5M1043.88 548V550.5M1050 548V550.5M1055 548V550.5M1059.24 548V550.5M1062.9 548V550.5M1066.13 548V550.5M1085.08 548V550.5M1094.47 548V550.5M1101.13 548V550.5M1106.3 548V550.5M1110.52 548V550.5M1114.09 548V550.5M1117.18 548V550.5M1119.91 548V550.5M1137.21 548V550.5M1145.91 548V550.5M1152.08 548V550.5M1156.86 548V550.5M1160.77 548V550.5M1164.08 548V550.5M1166.94 548V550.5M1169.47 548V550.5M1186.59 548V550.5" fill="none" stroke="#000" stroke-width="1"/>
<text transform="translate(978.5,340) scale(1.054,1)" font-size="28.5">+ PBS-pre-pDC</text>
<text transform="translate(969.19,477.41) rotate(-90) scale(0.908,1)" font-size="30.99">GFP</text>
<text transform="translate(1101.77,380.5) scale(1.043,1)" font-size="28.5">10.6%</text>
<text transform="translate(1097.66,536) scale(1.044,1)" font-size="28.5">8.72%</text>
<text transform="translate(1028.63,579) scale(1.041,1)" font-size="28.5">PDCA-1</text>
<line x1="1162.5" y1="396" x2="1224" y2="396" stroke="#000" stroke-width="3.5"/>
<polygon points="1222,385.5 1246.5,396 1222,406.5" fill="#000"/>
<path d="M1393 427l17.5 1 9 1.5 8 2 7 3 6 3.5 5 4 4.5 5 3 5 2 5 1 6-0.5 6-1.5 6-3 6-4 6-4.5 5-6 5.5-7 5-15 8-10 4-9 2.5-10 2.5-9 1-18 0.5-9-1-8-1.5-8-2.5-7-3-6-4-5-4-4.5-5-3-6-1.5-6-0.5-6 1-6 3-7 4.5-7 5-6 6-5.5 8-5.5 9-5.5 9-4 10-3.5 11-2.5 11-2 9.5-0.5zM1382.5 430l9-0.5 9-0.5 8 1 9 1.5 7 2 7 3 6 3 5.5 4.5 3.5 4 3 5 2 5 1 6-0.5 6-2 6-3 6-3.5 5-5 5-6 5.5-7 4.5-7 4-9 4.5-8 2.5-9 2.5-9 2-9 1-9 0.5-9-0.5-8-1-8-2-7-2.5-7-3.5-5-3.5-5.5-5-3-5-2.5-5-1-6 0.5-6 1.5-6 3-6 4-6 6-6 6-5 7-5 8-4 10-4.5 9-3 9-2 9-1.5zM1384 432l16.5-0.5 8 0.5 8 1.5 7 2.5 7 3 5 3 5 4 3.5 4 3 5 1.5 5 0.5 5-1 6-1.5 5-2.5 5-4.5 6-4.5 5-5.5 4.5-7 5-7 3.5-16 6.5-17 4-17 1-8-0.5-8-1-8-2-7-2.5-6-3-5-3.5-4-4-3.5-5-2-5-1-6 0.5-6 1.5-5 3-6 4.5-6 5-5.5 6-5 7-4.5 8-4 8-3.5 9-3 9-2 9.5-1.5zM1386 434l15.5 0 8 1 7 1.5 6 2 6 2.5 5 3 4.5 4 3 4 2.5 5 1.5 5 0 5-0.5 5-2 5-2.5 5-4 5-4.5 4.5-5.5 4.5-12.5 7.5-15 6-17 4-9 1-8 0-15-2-7-1.5-6-2.5-6-3.5-4.5-3-3.5-4-3.5-5-1.5-5-1-5 0.5-5 2-6 3-6 4-5 5-5 6.5-5 7-4.5 8-4 8-3 9-3 16.5-2.5zM1388.5 436l15 0.5 7 1 7 2 6 2 5 3 4 3 3.5 3.5 3 4 2 5 0.5 4 0 5-1 5-2.5 5-3 5-3.5 4-10 8.5-13 7-14 5-15 3-15 0.5-14-1.5-12-4-5-3-5-3.5-3.5-4-3-5-1.5-5 0-5 0.5-5 2.5-6 3-5 4-5 5-4.5 6-4.5 6-3.5 8-4 8-3 8-2 9-1.5 8-1zM1380 439l14.5-1 14 1.5 12 4 5 2.5 4 3 3 3 3 4 1.5 4 1 5 0 4-1 5-2 4-3 5-3.5 4-5 5-11 7-13 5.5-15 4-15 1.5-14-1-12-3.5-5.5-2.5-4.5-3-3.5-3-3-4-2-4-1-5 0-4 1-5 2-5 3-5 4.5-5 4.5-4 11.5-7.5 14-6 15.5-3.5zM1381.5 441l13-0.5 13 1.5 11 3.5 5 2.5 4 3.5 3.5 3.5 2 4 1.5 4 0 4-0.5 4-1 4-2 4-3.5 5-8.5 8-10.5 6.5-12 5-14 3-13 1-13-1-11-3-5-2.5-4.5-3-3-3-3-4-2-4-0.5-5 0.5-5 1-4 2-4 3.5-5 8.5-8 11.5-7 13-5 14-3zM1383 443l12.5-0.5 12 2 10 3.5 7 5 3 3 2 4 1.5 4 0 4-0.5 4-1.5 4-2 4-3 4-8.5 7.5-10 6-11 4.5-13 2.5-12 1-12-1-11-3.5-8-5-3-3-2.5-4-1.5-4-0.5-4 0-4 2-5 2-4 3-4 8.5-7.5 10-6 13-5 13.5-2.5zM1384.5 445l11 0 11 1.5 9 3.5 4 2.5 3 3 2.5 3.5 1.5 3 1 3 0 4-0.5 4-2 4-4.5 7-8 7-9 5-11 4-12 2.5-12 0.5-11-1-9-3-7.5-5-3-3-2-4-1-3-0.5-4 0.5-4 1.5-4 2-4 3-4 8.5-7 10.5-6 12-4 12-2zM1388 447l10.5 0.5 9 2 7 3.5 6 5 3 6 0.5 3 0 4-3 7-4.5 6-7 6-9 5-10 3.5-11 2-11 0.5-10-1.5-8-3-7-4.5-2.5-3-2-3-0.5-3-0.5-4 0.5-4 1.5-4 5.5-7 8.5-7 10.5-5 11-3.5 12.5-1.5zM1379.5 450l10-1 9 1 8 2 7 4 5 5 1 3 1 3-0.5 6-3.5 7-6 6-7 5-9 4-10 2.5-10 1.5-9-0.5-9-2-7-3.5-5-5-2-3-1-3 0-3 0.5-4 3.5-7 6-6 8-5.5 10-4 10-2.5zM1380.5 452l9-0.5 9 1 7 2 6 3.5 4 5 1.5 5-1 6-3 6-5.5 5.5-7 4.5-8 3.5-9 2-9 1-9-0.5-8-2-6-3.5-4.5-4.5-1.5-3-0.5-3 1-6 3-6 6.5-6 7-4.5 9-3.5 9-2zM1382 454l7.5-0.5 8 1 6 2 5.5 3.5 3 4 1.5 5-1 6-3.5 5-5 5-6.5 4-8 3-8 2-8 0.5-8-1-7-2-5-3.5-3.5-4-1.5-5 1-6 3.5-5 5-5 6.5-4 8-3 9.5-2zM1383.5 456l7 0 7 1 6 3 3.5 3 2.5 4 0.5 4-1.5 5-3 4-5 4.5-6 3.5-7 2.5-7 1.5-7 0-7-0.5-6-2.5-5-3-2.5-4-1-5 1.5-5 3-4 5-4.5 6.5-3.5 7.5-2.5 8-1.5zM1378 459l6.5-1 7 0.5 6 1.5 4 2 3 3 1.5 4 0 4-2.5 5-4 4-4.5 3-5.5 2.5-6 1.5-7 1-6-0.5-6-1.5-4-2-3-3-1.5-4 0-4 1.5-4 3.5-4 4.5-3 6-3 6.5-2zM1378.5 461l6-0.5 5 0 5 1 4 2 2.5 2.5 1.5 3 0 3-1 4-3 3.5-4 3-4.5 2.5-5.5 1.5-6 1-5 0-5-1-4-1.5-3.5-3-1.5-3 0-3 1-4 3.5-4 4-3 5.5-2.5 5-1.5zM1379.5 463l9 0 4 0.5 3 1.5 2 2 1.5 3 0 3-1 3-2.5 3-3 2-4 2-5 2-9 0.5-4-1-3.5-1.5-2.5-2-1.5-3 0-3 1-3 2.5-3 4-3 5-2 4-1zM1380.5 465l7 0 3.5 1 2.5 1.5 1.5 1.5 0.5 2 0 2.5-1 2.5-2 2-3 2-7 3-8 0-5.5-2-2-2-0.5-2 0-2.5 1-2.5 2-2 3-2 4-2 4-1zM1382.5 467l5 0.5 4 2.5 0.5 3-1.5 3.5-4 2.5-6 2-5-0.5-4-1.5-1.5-3 0-2 1.5-2.5 5-3 6-1.5zM1378 470l4.5-1 4 1 2 2 0 2-1.5 2-3.5 2-4 1-4-1-2-2 0-2 1.5-2 3-2z" fill="none" stroke="#222" stroke-width="0.8" stroke-linejoin="round"/>
<rect x="1270.5" y="355" width="197.5" height="193" fill="none" stroke="#333" stroke-width="1.3"/>
<line x1="1344.5" y1="355" x2="1344.5" y2="548" stroke="#111" stroke-width="1.5"/>
<line x1="1270.5" y1="489" x2="1468" y2="489" stroke="#111" stroke-width="1.5"/>
<rect x="1266.5" y="497.25" width="4" height="5" fill="#000"/>
<rect x="1312.92" y="548" width="6" height="4" fill="#000"/>
<path d="M1265.5 534.49H1270.5M1265.5 461.15H1270.5M1265.5 401.32H1270.5M1284.33 548V553M1347.53 548V553M1400.85 548V553M1450.22 548V553" fill="none" stroke="#000" stroke-width="1.2"/>
<path d="M1268 512.41H1270.5M1268 499.5H1270.5M1268 490.33H1270.5M1268 483.23H1270.5M1268 477.42H1270.5M1268 472.51H1270.5M1268 468.26H1270.5M1268 464.51H1270.5M1268 443.14H1270.5M1268 432.6H1270.5M1268 425.13H1270.5M1268 419.33H1270.5M1268 414.59H1270.5M1268 410.59H1270.5M1268 407.12H1270.5M1268 404.06H1270.5M1268 383.31H1270.5M1268 372.77H1270.5M1268 365.3H1270.5M1268 359.5H1270.5M1303.35 548V550.5M1314.48 548V550.5M1322.38 548V550.5M1328.5 548V550.5M1333.5 548V550.5M1337.74 548V550.5M1341.4 548V550.5M1344.63 548V550.5M1363.58 548V550.5M1372.97 548V550.5M1379.63 548V550.5M1384.8 548V550.5M1389.02 548V550.5M1392.59 548V550.5M1395.68 548V550.5M1398.41 548V550.5M1415.71 548V550.5M1424.41 548V550.5M1430.58 548V550.5M1435.36 548V550.5M1439.27 548V550.5M1442.58 548V550.5M1445.44 548V550.5M1447.97 548V550.5M1465.09 548V550.5" fill="none" stroke="#000" stroke-width="1"/>
<text transform="translate(1249.71,473.08) rotate(-90) scale(0.941,1)" font-size="28.57">c-kit</text>
<text transform="translate(1372.49,384.5) scale(1.059,1)" font-size="28.5">68.5%</text>
<text transform="translate(1323.19,579) scale(1.023,1)" font-size="28.5">Sca-1</text>
<path d="M1617.5 405l8.5-0.5 8 1 7 2 6 3.5 4 4 2.5 4 1.5 4 2 7 1.5 3 2.5 2 8 4 3 2 2 3 0 2-0.5 2-2.5 3-4 2.5-5 2-12 2.5-4 1-4 2.5-15 9.5-7 3.5-6 2-9 2-9 0.5-8-1.5-7-2.5-5-3-3.5-4-2.5-4-2-5-0.5-5 0.5-6 1.5-6 2-5 3.5-6 4-5 5-5 6-4.5 6-4 8-4 7-2 6.5-1.5zM1616 412l7-0.5 7 1 6 3 5 4 3 4.5 1.5 5 0.5 13-0.5 4-4 4-12.5 10-6 3.5-7 3.5-7 1.5-8 1-7-0.5-6-2.5-4-2.5-3-3-2-3-1.5-4-0.5-4 0.5-5 1-4 2-5 5.5-8 4-4 5-3.5 5-3.5 6-2.5 10-2.5zM1612.5 416l6.5-0.5 6 0.5 6 2 4 3 3.5 5 1.5 5-0.5 6-2 6-3 5-5.5 5.5-6 4.5-7 3.5-7 2-6 0.5-6-0.5-5-1.5-3-1.5-3-2.5-2-3-1.5-3-0.5-7 2-7 4-7 7-7 8-5 9.5-3zM1615 418l5 0 5 0.5 5 2.5 3 3 2.5 4 0.5 5-0.5 5-2 5-3.5 5-4 4-5 3.5-6 3-6 1.5-6 1-5-0.5-5-2-3-2-2-2-2.5-5.5 0-6 2.5-7 5-7 6-5 8-4 8-2zM1614 420l5 0 4 0.5 4 1.5 3.5 3 2 4 1 4-1 5-1.5 4-2.5 4-4 4-4.5 3.5-5 2.5-5 1.5-6 1-5-0.5-4-1.5-4-3-2.5-4.5-1-6 2-6 4-6 6.5-5.5 7-4 7-1.5zM1611.5 422l4.5-0.5 5 0.5 4 1.5 3 2 2 3 1 3.5 0 4-1.5 4-2 4-3.5 4-4 3-4 2.5-5 2-5 0.5-5 0-4-1-4.5-3-2-4-1-5 1.5-5 3-5 5-5 6-4 6.5-2zM1613.5 423l3.5 0 4 0.5 3.5 1.5 2.5 2.5 1.5 2.5 1 4-1 4-1 3-2.5 3.5-3 3-4 3-4 2-5 1.5-4 0.5-4-0.5-4-1-3.5-3-2-4 0-5 2-5 4-5 4.5-3.5 6-3 5.5-1.5zM1609.5 425l4.5-1 4 0.5 3 0.5 3.5 2 1.5 2 1.5 3 0 3-1 4-2 4-2.5 3-3 2.5-4 2-4 1.5-4 1-4 0-3-0.5-4-2.5-2-3-1-4 1-4 2.5-5 3.5-4 5-3 4.5-2zM1610.5 426l6.5-0.5 3 0.5 3 2 1.5 2 1.5 3 0 3-1 3-1.5 3-2.5 3-3 2.5-4 2.5-7 1.5-4 0-3-1-3-2-2-2.5-0.5-4 1-4 2.5-4 3-3 4-3 5.5-2zM1611 427l6 0 3 0.5 2 1.5 2.5 4 0 3-1 3-3.5 5.5-6 4-7 2-3 0-3-1-3-2-1.5-2.5-0.5-3 1-4 2.5-4 3-3 4.5-2.5 4-1.5zM1611.5 428l5.5 0 2.5 1 2 2 1.5 4-1.5 5-4 5-5.5 3-6 1-5-1-2-2-1.5-3 0-3 1-3 2.5-3 3-3 4-2 3.5-1zM1612 429l5 0.5 2 1 1.5 1.5 1 4-1 4-3.5 4-5 3-5 1-5-1-2-2-1-2 0-3 1-3 2.5-3 2.5-2.5 3.5-1.5 3.5-1zM1608.5 431l4.5-1 4 1 2.5 2 0.5 2 0 2-2 4-4 3.5-5 2-4 0-2-1-2-1.5-0.5-2 0-3 1.5-3 2-2 4.5-3zM1609.5 432l3.5-0.5 3 0.5 1 1 1.5 2-0.5 3-1.5 3-3.5 3-4 1-3.5 0-3-2-0.5-2 0-2 2.5-4 5-3zM1610.5 433l3 0 2 1 1 2-0.5 3-1.5 2-2.5 2-3 1-3-0.5-2-1.5-0.5-1 0.5-3 2.5-3 4-2zM1609.5 435l3.5 0 1 1 0.5 2-2.5 3-2 1-2 0-1.5-1-0.5-2 1-2 2.5-2z" fill="none" stroke="#444" stroke-width="0.8" stroke-linejoin="round"/>
<rect x="1526" y="356" width="196.5" height="191.5" fill="none" stroke="#333" stroke-width="1.3"/>
<line x1="1600" y1="356" x2="1600" y2="547.5" stroke="#111" stroke-width="1.5"/>
<line x1="1526" y1="484.6" x2="1722.5" y2="484.6" stroke="#111" stroke-width="1.5"/>
<rect x="1522" y="497.12" width="4" height="5" fill="#000"/>
<rect x="1568.19" y="547.5" width="6" height="4" fill="#000"/>
<path d="M1521 534.1H1526M1521 461.32H1526M1521 401.96H1526M1539.76 547.5V552.5M1602.63 547.5V552.5M1655.69 547.5V552.5M1704.82 547.5V552.5" fill="none" stroke="#000" stroke-width="1.2"/>
<path d="M1523.5 512.19H1526M1523.5 499.37H1526M1523.5 490.28H1526M1523.5 483.23H1526M1523.5 477.47H1526M1523.5 472.6H1526M1523.5 468.38H1526M1523.5 464.65H1526M1523.5 443.45H1526M1523.5 433H1526M1523.5 425.58H1526M1523.5 419.83H1526M1523.5 415.13H1526M1523.5 411.16H1526M1523.5 407.71H1526M1523.5 404.68H1526M1523.5 384.09H1526M1523.5 373.64H1526M1523.5 366.22H1526M1523.5 360.47H1526M1558.68 547.5V550M1569.76 547.5V550M1577.61 547.5V550M1583.71 547.5V550M1588.69 547.5V550M1592.89 547.5V550M1596.54 547.5V550M1599.76 547.5V550M1618.61 547.5V550M1627.95 547.5V550M1634.58 547.5V550M1639.72 547.5V550M1643.92 547.5V550M1647.47 547.5V550M1650.55 547.5V550M1653.26 547.5V550M1670.48 547.5V550M1679.13 547.5V550M1685.27 547.5V550M1690.03 547.5V550M1693.92 547.5V550M1697.21 547.5V550M1700.05 547.5V550M1702.57 547.5V550M1719.6 547.5V550" fill="none" stroke="#000" stroke-width="1"/>
<text transform="translate(1507.83,502.26) rotate(-90) scale(1.136,1)" font-size="24.6">Siglec-H</text>
<text transform="translate(1627.64,385) scale(1.057,1)" font-size="28.5">83.9%</text>
<text transform="translate(1567.45,579) scale(1.085,1)" font-size="28.5">CD11c</text>
<path d="M1876 412l2 0 1 1 4.5 12 5 5 2 3 2 5 2 9 1.5 3 3 3 12 4.5 7 5.5 4 4 3.5 5 2.5 5 2 5 1.5 6-0.5 5-1 5-2.5 5-3.5 5-4 3.5-6 4-6 2-7 1.5-7 0.5-7-1-7-2.5-6-3.5-5-5-4-5.5-2.5-6-1-7 0.5-7 4-16.5 3.5-16.5 3.5-13 0.5-5 0-13 1-4 1.5-2zM1878 432l1-1 2 0.5 4 2.5 2 2 2.5 5 2.5 11 2 3.5 3 2 11 4 6 4 7 7 5 8.5 1.5 5 0.5 5-0.5 4-2 5-2.5 4-4 4-4 3-5 2.5-6 2-7 0.5-6-0.5-6-1.5-6-2.5-5-3.5-4-5-3-5-1.5-7 0.5-8 3.5-15 3-20 5.5-16zM1879.5 439l1.5-0.5 2 0 3 2.5 1.5 4 2 10 2 4 3.5 2 10 2.5 7 4 7 7 4.5 7.5 1.5 4 0.5 5-0.5 4-1.5 4-2.5 4-3 3-4 3-5 2.5-6 2-6 0.5-6-0.5-6-1.5-5-2.5-4.5-3.5-3.5-4-2.5-5-1.5-6 0.5-7 4-15 2.5-20 2-6 2.5-4zM1882 444l1.5 1 1 2 2 11 1.5 3 3 2 12 2.5 7 3.5 7 6 3 4 2 4 1 4 0.5 4-0.5 4-1.5 4-2.5 3.5-3 3-4 3-4 2-5 1-6 1-6-1-5-1-5-2.5-4-3-3-4-2.5-4-1-5 0-6 1-5 4-13 1.5-16 2-6 1-1 2-1zM1881 465l1-1 1 0 5 1.5 10 1 5 1.5 7 3.5 6 5 2.5 3.5 2 4 1.5 7-0.5 4-1.5 3-2 3.5-3 3-4 3-5 2-5 1-6 0.5-5-1-5-1.5-5-3-3.5-3.5-2-3-2-4-0.5-4 0-4 2.5-9 6.5-13zM1885 469l9-0.5 8 1 7 3 6.5 5.5 2 3 2 4 1 4 0 3-2 6-2 3-2.5 3-4 2.5-5 2-5 1-5 0-5-0.5-5-2-4-2.5-3.5-3.5-2.5-4-1.5-4 0-4 0.5-5 2-5 3-5.5 3-3 3-1.5zM1894.5 470l4.5 0.5 4 1 7 3.5 3.5 3 2.5 3 1.5 3 1.5 4 0 4-0.5 3-1 3-2.5 3-3 3-3 2-7 2-4 0.5-5 0-4-1-4-2-4-2.5-3-3-1.5-3-1.5-4-0.5-4 1-5 1.5-4 3-4.5 3-2.5 3-1.5 8.5-1.5zM1890 472l7-0.5 7 1.5 6 3.5 5.5 5.5 2 6 0 6-1 3-2 3-4.5 4-4 2-5 1.5-5 0-4-0.5-4-1-4-2-3.5-3-2.5-3-1.5-4-0.5-4 0.5-4 1-4 2.5-4 3-3 3-1.5 4-1.5zM1892 473l7 0 7 2 6 4.5 3.5 5.5 1.5 6-1 5-3.5 5-5.5 3.5-4 1.5-4 1-5-0.5-4-1-4-1.5-3-2-3-3-1.5-3-1-3-0.5-4 1-4 1.5-4 2.5-3 3-2.5 3-1.5 4-1zM1893.5 474l6.5 0 6 2.5 6 4.5 3 5 1 3 0 3-1.5 5-3.5 4-6 3.5-4 1-4 0.5-4-0.5-4-1-6-4-2.5-2.5-1.5-3-0.5-3 0-4 1-4 1.5-3 5-4.5 4-2 3.5-0.5zM1894.5 475l6.5 0.5 6 2.5 4.5 4 3 5 0.5 5-2 5.5-4 4-6 3-7 0.5-7-1.5-3-1.5-3-2.5-2-2.5-1-3-0.5-3 0-4 1-3 2-3 2.5-2.5 3-2 6.5-1.5zM1895 476l6 0.5 6 2.5 4 4 2.5 5 0.5 5-2 4.5-3.5 3.5-5.5 2.5-7 1-7-2-5-3.5-3-5-1-3 0.5-3 1-3 1.5-3 5-4 3-1.5 4-0.5zM1894.5 477l5.5 0 5 2 4 3 3.5 5 0.5 5-1 4-3.5 4-4.5 2.5-6 1-7-1-3-1-3-2.5-3-5-1-3 0.5-3 2-5 4.5-4 3-1.5 3.5-0.5zM1894 478l5 0 5 1.5 4 2.5 3 4 1 5-0.5 4-2.5 3.5-4 2.5-6 2-7-1-5-2.5-2-1.5-2-3-0.5-3-0.5-3 2-5 4-4 6-2zM1893.5 479l4.5-0.5 5 1.5 4 2.5 3 3.5 1 4-0.5 4-2.5 4-3 2.5-6 1.5-6-0.5-5.5-2.5-3.5-4-1-5 1.5-5 3.5-3.5 5.5-2.5zM1893 480l5-0.5 4 1 4 2 3 3.5 1 3 0 4-1 3-3 3-5 2-6 0.5-5-2-4-3.5-1.5-2-0.5-3 1-5 3-3.5 5-2.5zM1892.5 481l4.5-0.5 4 0.5 3 1.5 3 2.5 2 3 0.5 4-1 3-2.5 3-5 2.5-5 0-5-1-4-3.5-2-4 0-3 0.5-2 3.5-4 3.5-2zM1892.5 482l3.5-1 4 0.5 3 1 3 2.5 2 3 0.5 3-0.5 3-2.5 3-3.5 2-5 1-5-1-4-3-2-4 0.5-4 2.5-4 3.5-2zM1892.5 483l3.5-1 3 0 3 1 3 2 2 3 0.5 3-0.5 3-1.5 2-3.5 2.5-5 1-4-1-4-2.5-2-3 0-4 2-3.5 3.5-2.5zM1896 483l3 0 3 1 2.5 2 2 3 0 3-0.5 2-2 2-3 2-4 0.5-4-1-3-2-2-2.5 0-3 1-3 3-3 4-1zM1895.5 484l3.5 0 2.5 1 2.5 2 1.5 2 0 3-1 2-1.5 2-2 1-3 0.5-4-0.5-3-1.5-1.5-2.5-0.5-3 1-2.5 2.5-2.5 3-1zM1895.5 485l2.5 0 3 1 1.5 1 1.5 2 0.5 2-0.5 2-1 1.5-2 1.5-3 0.5-3 0-3-1.5-1.5-2-0.5-3 1-2 2-2 2.5-1zM1896.5 486l2.5 0 2 1 2 2.5 0 1.5-0.5 2-2.5 2-2 0.5-3 0-2.5-1.5-1-2 0-2 1-2 1.5-1.5 2.5-0.5zM1894.5 488l2.5-0.5 3 0.5 1.5 2 0 2-0.5 1-3 1.5-2 0-2-1-1-2.5 0.5-2 1-1z" fill="none" stroke="#333" stroke-width="0.9" stroke-linejoin="round"/>
<rect x="1775" y="353" width="197" height="194" fill="none" stroke="#333" stroke-width="1.3"/>
<line x1="1861" y1="353" x2="1861" y2="547" stroke="#111" stroke-width="1.5"/>
<line x1="1775" y1="484.6" x2="1972" y2="484.6" stroke="#111" stroke-width="1.5"/>
<rect x="1771" y="496" width="4" height="5" fill="#000"/>
<rect x="1817.31" y="547" width="6" height="4" fill="#000"/>
<path d="M1770 533.42H1775M1770 459.7H1775M1770 399.56H1775M1788.79 547V552M1851.83 547V552M1905.02 547V552M1954.27 547V552" fill="none" stroke="#000" stroke-width="1.2"/>
<path d="M1772.5 511.23H1775M1772.5 498.25H1775M1772.5 489.04H1775M1772.5 481.89H1775M1772.5 476.05H1775M1772.5 471.12H1775M1772.5 466.84H1775M1772.5 463.07H1775M1772.5 441.6H1775M1772.5 431.01H1775M1772.5 423.49H1775M1772.5 417.66H1775M1772.5 412.9H1775M1772.5 408.88H1775M1772.5 405.39H1775M1772.5 402.31H1775M1772.5 381.46H1775M1772.5 370.87H1775M1772.5 363.35H1775M1772.5 357.52H1775M1807.77 547V549.5M1818.87 547V549.5M1826.74 547V549.5M1832.85 547V549.5M1837.84 547V549.5M1842.06 547V549.5M1845.72 547V549.5M1848.95 547V549.5M1867.84 547V549.5M1877.21 547V549.5M1883.85 547V549.5M1889.01 547V549.5M1893.22 547V549.5M1896.78 547V549.5M1899.87 547V549.5M1902.59 547V549.5M1919.85 547V549.5M1928.52 547V549.5M1934.67 547V549.5M1939.44 547V549.5M1943.34 547V549.5M1946.64 547V549.5M1949.5 547V549.5M1952.02 547V549.5M1969.1 547V549.5" fill="none" stroke="#000" stroke-width="1"/>
<text transform="translate(1763.68,480.22) rotate(-90) scale(0.855,1)" font-size="32.39">B220</text>
<text transform="translate(1879.3,384.6) scale(1.049,1)" font-size="28.5">51.4%</text>
<text transform="translate(1811.33,579) scale(1.039,1)" font-size="28.5">PDCA-1</text>
<text transform="translate(107.52,675.5) scale(1.076,1)" font-size="34.5" font-weight="bold">c</text>
<path d="M172.5,936 C172.5,911.67 172.25,816 172.5,790 C172.75,764 173.42,770 174,780 C174.58,790 175.17,829.17 176,850 C176.83,870.83 177.92,891.67 179,905 C180.08,918.33 180.67,925 182.5,930 C184.33,935 187.5,934.17 190,935 C192.5,935.83 194.67,935.67 197.5,935 C200.33,934.33 203.67,932.17 207,931 C210.33,929.83 212.83,928.5 217.5,928 C222.17,927.5 229.17,927.75 235,928 C240.83,928.25 247.92,930 252.5,929.5 C257.08,929 258.33,927.75 262.5,925 C266.67,922.25 272.08,917.17 277.5,913 C282.92,908.83 290,906.54 295,900 C300,893.46 304.17,882.08 307.5,873.75 C310.83,865.42 312.92,858.12 315,850 C317.08,841.88 318.33,833.33 320,825 C321.67,816.67 323.75,809.58 325,800 C326.25,790.42 326.5,776.67 327.5,767.5 C328.5,758.33 329.58,752.17 331,745 C332.42,737.83 334.5,727.67 336,724.5 C337.5,721.33 338.5,723.42 340,726 C341.5,728.58 343.33,735.17 345,740 C346.67,744.83 348.17,748.17 350,755 C351.83,761.83 353.92,775.17 356,781 C358.08,786.83 360.17,785.17 362.5,790 C364.83,794.83 367.75,801.25 370,810 C372.25,818.75 373.33,829.38 376,842.5 C378.67,855.62 383.33,877.17 386,888.75 C388.67,900.33 390.08,905.54 392,912 C393.92,918.46 395.33,924 397.5,927.5 C399.67,931 402.58,931.67 405,933 C407.42,934.33 410.83,935.08 412,935.5Z" fill="#b7b7b7" stroke="#333" stroke-width="1.5"/>
<path d="M340,936 C341.67,935.17 347.08,932.83 350,931 C352.92,929.17 355.33,928.17 357.5,925 C359.67,921.83 361.58,916.17 363,912 C364.42,907.83 365,905.33 366,900 C367,894.67 368.17,886.67 369,880 C369.83,873.33 370,873.33 371,860 C372,846.67 373.5,820 375,800 C376.5,780 378.5,755.83 380,740 C381.5,724.17 382.83,713.67 384,705 C385.17,696.33 385.88,692 387,688 C388.12,684 389.75,681.67 390.75,681 C391.75,680.33 392.29,682.17 393,684 C393.71,685.83 394.17,685.17 395,692 C395.83,698.83 397.17,714 398,725 C398.83,736 398.83,746 400,758 C401.17,770 403.33,782.5 405,797 C406.67,811.5 408.33,832 410,845 C411.67,858 413.33,867 415,875 C416.67,883 417.83,887 420,893 C422.17,899 425.17,906 428,911 C430.83,916 433.33,919.33 437,923 C440.67,926.67 446.17,930.83 450,933 C453.83,935.17 458.33,935.5 460,936" fill="none" stroke="#c8161e" stroke-width="2"/>
<path d="M390,936 C391.67,935.33 397.5,933.5 400,932 C402.5,930.5 403.33,930.33 405,927 C406.67,923.67 408.67,917.33 410,912 C411.33,906.67 412,905.33 413,895 C414,884.67 414.83,870.83 416,850 C417.17,829.17 418.71,793.33 420,770 C421.29,746.67 422.75,722.33 423.75,710 C424.75,697.67 425.12,697.17 426,696 C426.88,694.83 428,697.33 429,703 C430,708.67 431,718.83 432,730 C433,741.17 434.08,761.33 435,770 C435.92,778.67 436.67,772 437.5,782 C438.33,792 439,817 440,830 C441,843 442.25,850.5 443.5,860 C444.75,869.5 445.58,878.67 447.5,887 C449.42,895.33 452.5,903.92 455,910 C457.5,916.08 460,920.17 462.5,923.5 C465,926.83 467.08,928.08 470,930 C472.92,931.92 476.67,934 480,935 C483.33,936 488.33,935.83 490,936" fill="none" stroke="#f59a3c" stroke-width="2"/>
<line x1="172.5" y1="656" x2="648" y2="656" stroke="#000" stroke-width="1.6"/>
<line x1="648" y1="656" x2="648" y2="936.5" stroke="#000" stroke-width="1.6"/>
<line x1="172.5" y1="655" x2="172.5" y2="937.5" stroke="#000" stroke-width="3"/>
<line x1="171.5" y1="936.5" x2="649" y2="936.5" stroke="#000" stroke-width="2.2"/>
<path d="M157.5 669H172.5M165 682.25H172.5M165 695.5H172.5M165 708.75H172.5M157.5 722H172.5M165 735.25H172.5M165 748.5H172.5M165 761.75H172.5M157.5 775H172.5M165 788.25H172.5M165 801.5H172.5M165 814.75H172.5M157.5 828H172.5M165 841.25H172.5M165 854.5H172.5M165 867.75H172.5M157.5 881H172.5M165 894.25H172.5M165 907.5H172.5M165 920.75H172.5M157.5 934H172.5" fill="none" stroke="#000" stroke-width="3"/>
<path d="M188.75 936.5V944M253.75 936.5V944M327.5 936.5V944M400 936.5V944M471.25 936.5V944M543.75 936.5V944M616 936.5V944" fill="none" stroke="#000" stroke-width="3"/>
<path d="M208.32 936.5V940.5M219.76 936.5V940.5M227.88 936.5V940.5M234.18 936.5V940.5M239.33 936.5V940.5M243.68 936.5V940.5M247.45 936.5V940.5M250.78 936.5V940.5M275.95 936.5V940.5M288.94 936.5V940.5M298.15 936.5V940.5M305.3 936.5V940.5M311.14 936.5V940.5M316.08 936.5V940.5M320.35 936.5V940.5M324.13 936.5V940.5M349.32 936.5V940.5M362.09 936.5V940.5M371.15 936.5V940.5M378.18 936.5V940.5M383.92 936.5V940.5M388.77 936.5V940.5M392.97 936.5V940.5M396.68 936.5V940.5M421.45 936.5V940.5M433.99 936.5V940.5M442.9 936.5V940.5M449.8 936.5V940.5M455.44 936.5V940.5M460.21 936.5V940.5M464.35 936.5V940.5M467.99 936.5V940.5M493.07 936.5V940.5M505.84 936.5V940.5M514.9 936.5V940.5M521.93 936.5V940.5M527.67 936.5V940.5M532.52 936.5V940.5M536.72 936.5V940.5M540.43 936.5V940.5M565.5 936.5V940.5M578.22 936.5V940.5M587.25 936.5V940.5M594.25 936.5V940.5M599.97 936.5V940.5M604.81 936.5V940.5M609 936.5V940.5M612.69 936.5V940.5M176 936.5V940.5M181 936.5V940.5" fill="none" stroke="#000" stroke-width="1.5"/>
<text transform="translate(362.28,976.25) scale(1.080,1)" font-size="28">IRF7</text>
<line x1="202" y1="1027.5" x2="253" y2="1027.5" stroke="#d0232b" stroke-width="3.2"/>
<line x1="204.25" y1="1058" x2="255" y2="1058" stroke="#f5a04e" stroke-width="3.2"/>
<rect x="204.25" y="1093.75" width="51.25" height="10" fill="#c6c6c6"/>
<text transform="translate(268.15,1039.5) scale(1.075,1)" font-size="28">Spleen mature pDC</text>
<text transform="translate(268.01,1072.5) scale(1.068,1)" font-size="28">CpG-pre-pDC</text>
<text transform="translate(267.25,1106.25) scale(1.092,1)" font-size="28">Isotype</text>
<text transform="translate(667.96,680) scale(1.119,1)" font-size="34.5" font-weight="bold">d</text>
<path d="M727.32,927.33 C733.48,927.33 751.16,927.87 764.29,927.33 C777.41,926.8 795.36,925.56 806.08,924.12 C816.79,922.67 822.15,920.53 828.58,918.65 C835,916.78 839.83,915.17 844.65,912.87 C849.47,910.56 853.22,908.05 857.51,904.83 C861.79,901.62 866.88,897.6 870.36,893.58 C873.85,889.56 875.72,886.08 878.4,880.72 C881.08,875.37 883.76,867.87 886.44,861.44 C889.11,855.01 891.79,849.11 894.47,842.15 C897.15,835.19 899.83,827.69 902.51,819.65 C905.19,811.61 907.86,803.04 910.54,793.93 C913.22,784.83 916.17,774.65 918.58,765 C920.99,755.36 923.13,745.72 925.01,736.08 C926.88,726.43 927.95,715.45 929.83,707.15 C931.7,698.84 933.85,691.07 936.26,686.25 C938.67,681.43 941.88,680.09 944.29,678.22 C946.71,676.34 948.85,675 950.72,675 C952.6,675 953.94,675.81 955.54,678.22 C957.15,680.63 958.49,684.11 960.37,689.47 C962.24,694.82 964.65,702.59 966.8,710.36 C968.94,718.13 971.08,725.9 973.22,736.08 C975.37,746.25 977.78,761.25 979.65,771.43 C981.53,781.61 982.87,788.58 984.47,797.15 C986.08,805.72 987.42,813.76 989.3,822.86 C991.17,831.97 993.58,843.22 995.72,851.79 C997.87,860.37 999.74,866.79 1002.15,874.29 C1004.56,881.79 1007.51,890.9 1010.19,896.8 C1012.87,902.69 1015.28,905.9 1018.23,909.65 C1021.17,913.4 1024.65,916.89 1027.87,919.3 C1031.08,921.71 1033.23,922.62 1037.51,924.12 C1041.8,925.62 1046.62,927.44 1053.58,928.3 C1060.55,929.15 1075.01,929.1 1079.3,929.26" fill="none" stroke="#000" stroke-width="3.3" stroke-dasharray="3.5,2.6"/>
<path d="M780.36,929.26 C784.65,928.94 798.04,929.53 806.08,927.33 C814.11,925.14 823.22,919.56 828.58,916.08 C833.93,912.6 835.27,909.12 838.22,906.44 C841.17,903.76 843.58,901.62 846.26,900.01 C848.93,898.4 851.88,898.67 854.29,896.8 C856.7,894.92 858.04,890.9 860.72,888.76 C863.4,886.62 867.15,885.54 870.36,883.94 C873.58,882.33 876.79,880.62 880.01,879.12 C883.22,877.62 886.97,874.94 889.65,874.94 C892.33,874.94 893.94,876.28 896.08,879.12 C898.22,881.96 900.1,889.19 902.51,891.97 C904.92,894.76 908.13,895.83 910.54,895.83 C912.95,895.83 915.1,893.42 916.97,891.97 C918.85,890.53 919.92,888.92 921.79,887.15 C923.67,885.38 926.19,883.24 928.22,881.37 C930.26,879.49 932.29,878.69 934.01,875.9 C935.72,873.12 937.22,870.28 938.51,864.65 C939.79,859.03 940.65,850.72 941.72,842.15 C942.79,833.58 943.71,824.47 944.94,813.22 C946.17,801.97 947.62,782.68 949.12,774.65 C950.62,766.61 951.96,767.95 953.94,765 C955.92,762.06 958.87,759.65 961.01,756.97 C963.15,754.29 965.03,750.81 966.8,748.93 C968.56,747.06 970.28,748.4 971.62,745.72 C972.96,743.04 973.92,735.54 974.83,732.86 C975.74,730.18 976.28,728.57 977.08,729.65 C977.88,730.72 978.69,733.93 979.65,739.29 C980.62,744.65 981.8,754.83 982.87,761.79 C983.94,768.75 984.74,776.79 986.08,781.08 C987.42,785.36 989.3,784.83 990.9,787.51 C992.51,790.18 994.12,792.33 995.72,797.15 C997.33,801.97 998.94,810.01 1000.55,816.44 C1002.15,822.86 1003.49,828.22 1005.37,835.72 C1007.24,843.22 1009.65,852.87 1011.8,861.44 C1013.94,870.01 1015.55,879.65 1018.23,887.15 C1020.9,894.65 1024.65,901.35 1027.87,906.44 C1031.08,911.53 1034.3,914.74 1037.51,917.69 C1040.73,920.64 1043.41,922.35 1047.16,924.12 C1050.91,925.89 1054.66,927.44 1060.01,928.3 C1065.37,929.15 1076.08,929.1 1079.3,929.26" fill="none" stroke="#000" stroke-width="2.6"/>
<path d="M796.43,929.26 C800.72,928.67 815.18,927.12 822.15,925.72 C829.11,924.33 833.4,922.51 838.22,920.9 C843.04,919.3 846.79,916.89 851.08,916.08 C855.36,915.28 860.18,916.62 863.93,916.08 C867.68,915.55 870.9,914.47 873.58,912.87 C876.26,911.26 878.29,908.05 880.01,906.44 C881.72,904.83 882.52,903.33 883.86,903.22 C885.2,903.12 886.01,904.72 888.04,905.8 C890.08,906.87 893.13,909.81 896.08,909.65 C899.02,909.49 902.51,906.71 905.72,904.83 C908.94,902.96 912.15,901.88 915.36,898.4 C918.58,894.92 922.33,889.03 925.01,883.94 C927.69,878.85 929.29,874.83 931.44,867.87 C933.58,860.9 935.99,849.65 937.87,842.15 C939.74,834.65 941.08,831.44 942.69,822.86 C944.29,814.29 946.06,800.36 947.51,790.72 C948.96,781.08 950.03,774.65 951.37,765 C952.71,755.36 954.31,741.97 955.54,732.86 C956.78,723.75 957.42,713.31 958.76,710.36 C960.1,707.41 961.71,714.11 963.58,715.18 C965.46,716.25 968.13,715.45 970.01,716.79 C971.88,718.13 973.49,718.93 974.83,723.22 C976.17,727.5 976.97,735.54 978.05,742.5 C979.12,749.47 980.19,759 981.26,765 C982.33,771.01 983.14,775.93 984.47,778.51 C985.81,781.08 987.69,779.47 989.3,780.43 C990.9,781.4 992.51,781.51 994.12,784.29 C995.72,787.08 997.06,791.79 998.94,797.15 C1000.81,802.51 1003.49,809.47 1005.37,816.44 C1007.24,823.4 1008.58,830.9 1010.19,838.94 C1011.8,846.97 1013.4,856.62 1015.01,864.65 C1016.62,872.69 1017.96,880.46 1019.83,887.15 C1021.71,893.85 1023.85,899.74 1026.26,904.83 C1028.67,909.92 1030.82,914.31 1034.3,917.69 C1037.78,921.06 1042.87,923.31 1047.16,925.08 C1051.44,926.85 1054.66,927.6 1060.01,928.3 C1065.37,928.99 1076.08,929.1 1079.3,929.26" fill="none" stroke="#1f4da0" stroke-width="2.6"/>
<path d="M790,929.26 C792.68,928.94 799.65,929.53 806.08,927.33 C812.5,925.14 822.68,919.56 828.58,916.08 C834.47,912.6 837.68,909.65 841.43,906.44 C845.18,903.22 847.86,901.62 851.08,896.8 C854.29,891.97 857.51,883.94 860.72,877.51 C863.93,871.08 867.42,863.04 870.36,858.22 C873.31,853.4 875.72,852.87 878.4,848.58 C881.08,844.29 884.02,837.86 886.44,832.51 C888.85,827.15 890.72,822.33 892.86,816.44 C895.01,810.54 897.58,803.58 899.29,797.15 C901.01,790.72 901.81,782.68 903.15,777.86 C904.49,773.04 905.94,772.51 907.33,768.22 C908.72,763.93 910.44,756.7 911.51,752.15 C912.58,747.59 913.01,742.77 913.76,740.9 C914.51,739.02 914.94,739.02 916.01,740.9 C917.08,742.77 918.95,750.54 920.19,752.15 C921.42,753.75 922.06,751.61 923.4,750.54 C924.74,749.47 926.35,747.33 928.22,745.72 C930.1,744.11 932.78,741.16 934.65,740.9 C936.53,740.63 937.87,743.84 939.47,744.11 C941.08,744.38 942.96,741.16 944.29,742.5 C945.63,743.84 946.44,747.86 947.51,752.15 C948.58,756.43 949.65,761.25 950.72,768.22 C951.79,775.18 952.87,785.9 953.94,793.93 C955.01,801.97 955.97,810.81 957.15,816.44 C958.33,822.06 959.67,823.94 961.01,827.69 C962.35,831.44 963.8,832.78 965.19,838.94 C966.58,845.1 968.03,856.62 969.37,864.65 C970.71,872.69 971.78,880.46 973.22,887.15 C974.67,893.85 976.44,900.55 978.05,904.83 C979.65,909.12 980.72,910.19 982.87,912.87 C985.01,915.55 988.22,918.87 990.9,920.9 C993.58,922.94 995.46,923.96 998.94,925.08 C1002.42,926.21 1006.98,926.96 1011.8,927.65 C1016.62,928.35 1025.19,928.99 1027.87,929.26" fill="none" stroke="#e31e25" stroke-width="2.6"/>
<line x1="727.3" y1="657.3" x2="1214.3" y2="657.3" stroke="#000" stroke-width="1.6"/>
<line x1="1214.3" y1="657.3" x2="1214.3" y2="929.6" stroke="#000" stroke-width="1.6"/>
<line x1="727.3" y1="656.3" x2="727.3" y2="930.6" stroke="#000" stroke-width="2.4"/>
<line x1="726.3" y1="929.6" x2="1215.3" y2="929.6" stroke="#000" stroke-width="2.2"/>
<path d="M719.5 669.2H727.3M723.5 682.3H727.3M723.5 695.4H727.3M723.5 708.5H727.3M719.5 721.6H727.3M723.5 734.55H727.3M723.5 747.5H727.3M723.5 760.45H727.3M719.5 773.4H727.3M723.5 786.4H727.3M723.5 799.4H727.3M723.5 812.4H727.3M719.5 825.4H727.3M723.5 838.27H727.3M723.5 851.15H727.3M723.5 864.02H727.3M719.5 876.9H727.3M723.5 889.92H727.3M723.5 902.95H727.3M723.5 915.98H727.3M719.5 929H727.3" fill="none" stroke="#000" stroke-width="2"/>
<path d="M757.2 929.6V937M916 929.6V937M1051 929.6V937M1166 929.6V937M805 929.6V933.5M832.97 929.6V933.5M852.81 929.6V933.5M868.2 929.6V933.5M880.77 929.6V933.5M891.4 929.6V933.5M900.61 929.6V933.5M908.73 929.6V933.5M956.64 929.6V933.5M980.41 929.6V933.5M997.28 929.6V933.5M1010.36 929.6V933.5M1021.05 929.6V933.5M1030.09 929.6V933.5M1037.92 929.6V933.5M1044.82 929.6V933.5M1085.62 929.6V933.5M1105.87 929.6V933.5M1120.24 929.6V933.5M1131.38 929.6V933.5M1140.49 929.6V933.5M1148.19 929.6V933.5M1154.86 929.6V933.5M1160.74 929.6V933.5M1200.62 929.6V933.5" fill="none" stroke="#000" stroke-width="1.6"/>
<rect x="827" y="929.6" width="19" height="6" fill="#000"/>
<text transform="translate(933.24,973.3) scale(1.093,1)" font-size="28">IRF7</text>
<line x1="643.6" y1="1012" x2="696.3" y2="1012" stroke="#000" stroke-width="3" stroke-dasharray="6,3.5"/>
<line x1="643.6" y1="1045" x2="692.9" y2="1045" stroke="#000" stroke-width="3"/>
<line x1="643.6" y1="1075" x2="692.9" y2="1075" stroke="#2b4fa0" stroke-width="3"/>
<line x1="639.3" y1="1108.6" x2="689.4" y2="1108.6" stroke="#e31e25" stroke-width="3"/>
<text transform="translate(700.78,1022.9) scale(1.083,1)" font-size="28">CD45.2 PDCA-1</text>
<text transform="translate(922.93,1011.9) scale(1.339,1)" font-size="15">+</text>
<text transform="translate(941.12,1022.9) scale(1.083,1)" font-size="28">cells from spleen</text>
<text transform="translate(700.78,1056.3) scale(1.086,1)" font-size="28">CD45.2 PDCA-1</text>
<text transform="translate(923.56,1045.3) scale(1.343,1)" font-size="15">+</text>
<text transform="translate(941.81,1056.3) scale(1.086,1)" font-size="28">cells from control</text>
<text transform="translate(700.79,1089.3) scale(1.079,1)" font-size="28">CD45.2 PDCA-1</text>
<text transform="translate(922.19,1078.3) scale(1.335,1)" font-size="15">+</text>
<text transform="translate(940.33,1089.3) scale(1.079,1)" font-size="28">cells from recipient</text>
<text transform="translate(700.8,1122.7) scale(1.073,1)" font-size="28">CD45.1 PDCA-1</text>
<text transform="translate(920.94,1111.7) scale(1.327,1)" font-size="15">+</text>
<text transform="translate(938.97,1122.7) scale(1.073,1)" font-size="28">cells from recipient</text>
<path d="M1195 1035.7H1207.2V1121.4H1195" fill="none" stroke="#000" stroke-width="2.5"/>
<text transform="translate(1225.32,1057) scale(1.106,1)" font-size="28">EAE</text>
<text transform="translate(1226.89,1090.6) scale(1.078,1)" font-size="28">spinal</text>
<text transform="translate(1226.6,1122.7) scale(1.071,1)" font-size="28">cord</text>
<text transform="translate(1292.31,679.5) scale(1.042,1)" font-size="34.5" font-weight="bold">e</text>
<line x1="1535.5" y1="672" x2="1535.5" y2="996" stroke="#000" stroke-width="2.3"/>
<line x1="1526" y1="995.3" x2="1692" y2="995.3" stroke="#000" stroke-width="3.5"/>
<line x1="1526" y1="995.3" x2="1535.5" y2="995.3" stroke="#000" stroke-width="3.5"/>
<text transform="translate(1501.96,1005.3) scale(1.060,1)" font-size="28.2">0</text>
<line x1="1526" y1="914.85" x2="1535.5" y2="914.85" stroke="#000" stroke-width="3.5"/>
<text transform="translate(1452.04,924.85) scale(1.060,1)" font-size="28.2">1000</text>
<line x1="1526" y1="834.4" x2="1535.5" y2="834.4" stroke="#000" stroke-width="3.5"/>
<text transform="translate(1452.04,844.4) scale(1.060,1)" font-size="28.2">2000</text>
<line x1="1526" y1="753.95" x2="1535.5" y2="753.95" stroke="#000" stroke-width="3.5"/>
<text transform="translate(1452.04,763.95) scale(1.060,1)" font-size="28.2">3000</text>
<line x1="1526" y1="673.5" x2="1535.5" y2="673.5" stroke="#000" stroke-width="3.5"/>
<text transform="translate(1452.04,683.5) scale(1.060,1)" font-size="28.2">4000</text>
<text transform="translate(1430,893.26) rotate(-90) scale(0.876,1)" font-size="31.88">IRF7 MFI</text>
<rect x="1561" y="851.5" width="40.5" height="144" fill="#858585" stroke="#000" stroke-width="3.2"/>
<rect x="1631.2" y="745.5" width="42.3" height="250" fill="#fff" stroke="#000" stroke-width="3.2"/>
<circle cx="1568" cy="848.5" r="4.5" fill="#000"/>
<circle cx="1582" cy="845" r="4.5" fill="#000"/>
<circle cx="1597" cy="848.5" r="4.5" fill="#000"/>
<line x1="1651.75" y1="733" x2="1651.75" y2="753" stroke="#000" stroke-width="2.2"/>
<line x1="1640" y1="733" x2="1663" y2="733" stroke="#000" stroke-width="2.2"/>
<line x1="1640" y1="753" x2="1663" y2="753" stroke="#000" stroke-width="2.2"/>
<circle cx="1651.5" cy="720.5" r="4.6" fill="#000"/>
<circle cx="1644" cy="740" r="4.6" fill="#000"/>
<circle cx="1660" cy="748" r="4.6" fill="#000"/>
<circle cx="1651.5" cy="766" r="4.6" fill="#000"/>
<line x1="1568" y1="693.75" x2="1653" y2="693.75" stroke="#000" stroke-width="4"/>
<text transform="translate(1588.22,682) scale(1.253,1)" font-size="28">***</text>
<line x1="1582" y1="995" x2="1582" y2="1010" stroke="#000" stroke-width="2.2"/>
<line x1="1652" y1="995" x2="1652" y2="1010" stroke="#000" stroke-width="2.2"/>
<text transform="translate(1516.28,1099.11) rotate(-57) scale(0.930,1)" font-size="28.5">CD45.1</text>
<text transform="translate(1548.85,1122.78) rotate(-57) scale(0.930,1)" font-size="28.5">PDCA-1</text>
<text transform="translate(1585.6,1021.9) rotate(-57)" font-size="22" text-anchor="middle" dy="7.5">+</text>
<text transform="translate(1596.78,1102.11) rotate(-57) scale(0.930,1)" font-size="28.5">CD45.2</text>
<text transform="translate(1629.35,1125.78) rotate(-57) scale(0.930,1)" font-size="28.5">PDCA-1</text>
<text transform="translate(1666,1026) rotate(-57)" font-size="22" text-anchor="middle" dy="7.5">+</text>
<text transform="translate(30.34,1229.5) scale(1.268,1)" font-size="34.5" font-weight="bold">f</text>
<path d="M73.5 1414.5l2.5 0 3 1 2 2 0.5 3-0.5 3-1.5 3-2.5 2-3 1-3-0.5-2.5-1.5-1.5-2-0.5-3 0.5-3 1.5-2 2.5-2 2.5-1z" fill="#aaa"/>
<path d="M72 1418.5l3-0.5 2 1 1 1.5 0 2-0.5 2-2.5 2-3 0-2.5-2 0-3 2.5-3z" fill="#888"/>
<path d="M174 1302h1m-8 2h1m-14 5h1m-4 1h1m6 0h1m7 0h1m-13 1h1m4 0h1m1 0h1m-22 1h1m16 0h1m2 0h1m-8 1h1m6 0h1m2 0h1m5 0h1m0 0h1m1 0h1m0 0h1m19 0h1m-40 1h1m2 0h1m1 0h1m4 0h1m0 0h1m-12 1h1m0 0h1m0 0h1m2 0h1m5 0h1m1 0h1m-16 1h1m5 0h1m3 0h1m-16 1h1m0 0h1m7 0h1m0 0h1m1 0h1m3 0h1m4 0h1m-23 1h1m4 0h1m10 0h1m0 0h1m4 0h1m0 0h1m0 0h1m0 0h1m-30 1h1m4 0h1m0 0h1m7 0h1m0 0h1m0 0h1m1 0h1m0 0h1m1 0h1m0 0h1m1 0h1m3 0h1m0 0h1m-33 1h1m0 0h1m6 0h1m2 0h1m1 0h1m9 0h1m0 0h1m0 0h1m0 0h1m0 0h1m2 0h1m0 0h1m0 0h1m2 0h1m-37 1h1m8 0h1m2 0h1m2 0h1m11 0h1m2 0h1m0 0h1m-28 1h1m0 0h1m4 0h1m16 0h1m4 0h1m-37 1h1m10 0h1m0 0h1m0 0h1m20 0h1m2 0h1m1 0h1m0 0h1m-37 1h1m2 0h1m3 0h1m20 0h1m2 0h1m1 0h1m4 0h1m-43 1h1m3 0h1m1 0h1m2 0h1m2 0h1m0 0h1m17 0h1m1 0h1m1 0h1m3 0h1m-46 1h1m9 0h1m1 0h1m24 0h1m1 0h1m1 0h1m0 0h1m4 0h1m8 0h1m-49 1h1m0 0h1m0 0h1m4 0h1m21 0h1m0 0h1m1 0h1m2 0h1m-38 1h1m1 0h1m30 0h1m-28 1h1m0 0h1m24 0h1m2 0h1m-36 1h1m2 0h1m2 0h1m24 0h1m1 0h1m5 0h1m-51 1h1m12 0h1m0 0h1m2 0h1m25 0h1m1 0h1m2 0h1m7 0h1m-48 1h1m0 0h1m31 0h1m1 0h1m0 0h1m0 0h1m6 0h1m-44 1h1m2 0h1m28 0h1m1 0h1m1 0h1m-91 1h1m56 0h1m0 0h1m-4 1h1m0 0h1m0 0h1m30 0h1m-35 1h1m0 0h1m0 0h1m32 0h1m6 0h1m1 0h1m-53 1h1m9 0h1m0 0h1m29 0h1m-43 1h1m3 0h1m1 0h1m1 0h1m2 0h1m29 0h1m9 0h1m-101 1h1m4 0h1m16 0h1m23 0h1m6 0h1m2 0h1m0 0h1m31 0h1m3 0h1m2 0h1m-85 1h1m44 0h1m0 0h1m29 0h1m1 0h1m3 0h1m-86 1h1m6 0h1m39 0h1m0 0h1m30 0h1m3 0h1m-100 1h1m37 0h1m17 0h1m1 0h1m0 0h1m0 0h1m2 0h1m31 0h1m-82 1h1m46 0h1m0 0h1m0 0h1m0 0h1m36 0h1m1 0h1m3 0h1m-99 1h1m5 0h1m8 0h1m3 0h1m3 0h1m21 0h1m4 0h1m1 0h1m0 0h1m0 0h1m30 0h1m3 0h1m-82 1h1m1 0h1m2 0h1m7 0h1m18 0h1m5 0h1m5 0h1m0 0h1m30 0h1m0 0h1m2 0h1m8 0h1m-102 1h1m14 0h1m32 0h1m1 0h1m3 0h1m1 0h1m32 0h1m0 0h1m12 0h1m-96 1h1m3 0h1m34 0h1m4 0h1m0 0h1m0 0h1m1 0h1m32 0h1m4 0h1m-100 1h1m54 0h1m1 0h1m0 0h1m0 0h1m31 0h1m0 0h1m0 0h1m-77 1h1m3 0h1m26 0h1m5 0h1m39 0h1m0 0h1m-87 1h1m2 0h1m2 0h1m7 0h1m26 0h1m4 0h1m0 0h1m2 0h1m31 0h1m0 0h1m0 0h1m2 0h1m5 0h1m-87 1h1m3 0h1m2 0h1m0 0h1m5 0h1m8 0h1m11 0h1m7 0h1m30 0h1m1 0h1m-97 1h1m12 0h1m5 0h1m8 0h1m7 0h1m14 0h1m3 0h1m1 0h1m5 0h1m32 0h1m0 0h1m1 0h1m1 0h1m8 0h1m-108 1h1m15 0h1m3 0h1m0 0h1m6 0h1m2 0h1m22 0h1m1 0h1m0 0h1m31 0h1m1 0h1m0 0h1m1 0h1m0 0h1m7 0h1m-99 1h1m1 0h1m10 0h1m12 0h1m15 0h1m4 0h1m0 0h1m0 0h1m2 0h1m33 0h1m0 0h1m0 0h1m3 0h1m-95 1h1m4 0h1m4 0h1m4 0h1m3 0h1m1 0h1m1 0h1m10 0h1m1 0h1m0 0h1m0 0h1m6 0h1m7 0h1m2 0h1m28 0h1m0 0h1m0 0h1m3 0h1m0 0h1m5 0h1m-97 1h1m10 0h1m2 0h1m4 0h1m9 0h1m15 0h1m1 0h1m1 0h1m1 0h1m0 0h1m31 0h1m0 0h1m4 0h1m6 0h1m-93 1h1m1 0h1m2 0h1m4 0h1m0 0h1m4 0h1m1 0h1m0 0h1m24 0h1m2 0h1m0 0h1m29 0h1m5 0h1m15 0h1m-105 1h1m4 0h1m2 0h1m1 0h1m1 0h1m2 0h1m2 0h1m4 0h1m6 0h1m0 0h1m2 0h1m7 0h1m2 0h1m0 0h1m3 0h1m30 0h1m0 0h1m0 0h1m2 0h1m-99 1h1m6 0h1m6 0h1m2 0h1m1 0h1m1 0h1m1 0h1m4 0h1m0 0h1m1 0h1m10 0h1m1 0h1m0 0h1m10 0h1m3 0h1m2 0h1m30 0h1m0 0h1m0 0h1m0 0h1m0 0h1m2 0h1m21 0h1m-110 1h1m3 0h1m0 0h1m11 0h1m4 0h1m2 0h1m1 0h1m1 0h1m6 0h1m0 0h1m1 0h1m6 0h1m0 0h1m33 0h1m5 0h1m3 0h1m-87 1h1m0 0h1m2 0h1m2 0h1m2 0h1m7 0h1m1 0h1m4 0h1m0 0h1m0 0h1m5 0h1m6 0h1m1 0h1m0 0h1m28 0h1m1 0h1m2 0h1m0 0h1m-81 1h1m1 0h1m1 0h1m5 0h1m2 0h1m2 0h1m1 0h1m1 0h1m6 0h1m4 0h1m0 0h1m4 0h1m2 0h1m1 0h1m1 0h1m28 0h1m4 0h1m-87 1h1m1 0h1m4 0h1m0 0h1m1 0h1m0 0h1m2 0h1m1 0h1m0 0h1m0 0h1m6 0h1m4 0h1m6 0h1m2 0h1m1 0h1m0 0h1m1 0h1m0 0h1m3 0h1m0 0h1m0 0h1m27 0h1m0 0h1m3 0h1m0 0h1m-86 1h1m2 0h1m3 0h1m5 0h1m1 0h1m15 0h1m0 0h1m5 0h1m4 0h1m2 0h1m0 0h1m0 0h1m0 0h1m0 0h1m27 0h1m0 0h1m7 0h1m7 0h1m-97 1h1m3 0h1m6 0h1m5 0h1m2 0h1m4 0h1m0 0h1m5 0h1m0 0h1m1 0h1m2 0h1m7 0h1m0 0h1m3 0h1m26 0h1m0 0h1m3 0h1m-79 1h1m1 0h1m1 0h1m0 0h1m0 0h1m0 0h1m4 0h1m1 0h1m4 0h1m0 0h1m1 0h1m0 0h1m5 0h1m2 0h1m1 0h1m2 0h1m2 0h1m2 0h1m0 0h1m0 0h1m0 0h1m45 0h1m-102 1h1m1 0h1m4 0h1m4 0h1m3 0h1m4 0h1m0 0h1m4 0h1m0 0h1m1 0h1m0 0h1m0 0h1m4 0h1m4 0h1m3 0h1m1 0h1m4 0h1m26 0h1m0 0h1m5 0h1m4 0h1m-92 1h1m1 0h1m6 0h1m2 0h1m1 0h1m2 0h1m0 0h1m0 0h1m0 0h1m1 0h1m0 0h1m4 0h1m0 0h1m3 0h1m3 0h1m0 0h1m2 0h1m2 0h1m3 0h1m2 0h1m1 0h1m24 0h1m0 0h1m1 0h1m1 0h1m0 0h1m1 0h1m4 0h1m-86 1h1m0 0h1m3 0h1m0 0h1m0 0h1m3 0h1m5 0h1m0 0h1m3 0h1m2 0h1m2 0h1m2 0h1m0 0h1m0 0h1m0 0h1m2 0h1m2 0h1m1 0h1m0 0h1m0 0h1m0 0h1m0 0h1m0 0h1m24 0h1m0 0h1m0 0h1m2 0h1m3 0h1m-86 1h1m8 0h1m1 0h1m1 0h1m0 0h1m0 0h1m0 0h1m1 0h1m0 0h1m12 0h1m1 0h1m1 0h1m2 0h1m0 0h1m2 0h1m0 0h1m1 0h1m1 0h1m0 0h1m0 0h1m0 0h1m0 0h1m23 0h1m0 0h1m5 0h1m6 0h1m-92 1h1m4 0h1m4 0h1m0 0h1m0 0h1m16 0h1m2 0h1m4 0h1m0 0h1m0 0h1m0 0h1m0 0h1m0 0h1m0 0h1m0 0h1m0 0h1m4 0h1m0 0h1m0 0h1m22 0h1m3 0h1m1 0h1m-76 1h1m0 0h1m0 0h1m0 0h1m4 0h1m1 0h1m3 0h1m1 0h1m1 0h1m10 0h1m1 0h1m0 0h1m0 0h1m0 0h1m1 0h1m0 0h1m4 0h1m0 0h1m0 0h1m0 0h1m0 0h1m21 0h1m1 0h1m11 0h1m-88 1h1m4 0h1m2 0h1m0 0h1m0 0h1m5 0h1m0 0h1m4 0h1m3 0h1m3 0h1m0 0h1m1 0h1m0 0h1m1 0h1m0 0h1m0 0h1m0 0h1m0 0h1m0 0h1m3 0h1m0 0h1m0 0h1m0 0h1m0 0h1m0 0h1m0 0h1m19 0h1m0 0h1m2 0h1m5 0h1m0 0h1m5 0h1m-90 1h1m0 0h1m1 0h1m8 0h1m0 0h1m0 0h1m0 0h1m4 0h1m0 0h1m0 0h1m2 0h1m0 0h1m0 0h1m2 0h1m2 0h1m1 0h1m0 0h1m0 0h1m0 0h1m1 0h1m1 0h1m0 0h1m4 0h1m2 0h1m0 0h1m18 0h1m0 0h1m3 0h1m1 0h1m3 0h1m10 0h1m-87 1h1m3 0h1m2 0h1m0 0h1m1 0h1m0 0h1m1 0h1m1 0h1m2 0h1m0 0h1m0 0h1m5 0h1m0 0h1m1 0h1m0 0h1m1 0h1m2 0h1m0 0h1m1 0h1m1 0h1m0 0h1m0 0h1m0 0h1m0 0h1m1 0h1m16 0h1m1 0h1m0 0h1m1 0h1m-75 1h1m14 0h1m3 0h1m4 0h1m3 0h1m6 0h1m2 0h1m1 0h1m0 0h1m0 0h1m0 0h1m0 0h1m0 0h1m0 0h1m0 0h1m0 0h1m0 0h1m0 0h1m1 0h1m14 0h1m1 0h1m0 0h1m0 0h1m2 0h1m1 0h1m-69 1h1m2 0h1m2 0h1m5 0h1m2 0h1m0 0h1m1 0h1m1 0h1m5 0h1m2 0h1m0 0h1m1 0h1m0 0h1m1 0h1m0 0h1m1 0h1m0 0h1m1 0h1m1 0h1m1 0h1m12 0h1m0 0h1m2 0h1m-69 1h1m0 0h1m4 0h1m1 0h1m6 0h1m5 0h1m5 0h1m1 0h1m0 0h1m0 0h1m1 0h1m4 0h1m0 0h1m0 0h1m0 0h1m4 0h1m0 0h1m1 0h1m0 0h1m0 0h1m11 0h1m1 0h1m3 0h1m1 0h1m3 0h1m0 0h1m-73 1h1m6 0h1m0 0h1m1 0h1m3 0h1m1 0h1m1 0h1m0 0h1m4 0h1m2 0h1m0 0h1m1 0h1m1 0h1m0 0h1m0 0h1m5 0h1m0 0h1m0 0h1m0 0h1m0 0h1m0 0h1m1 0h1m1 0h1m6 0h1m0 0h1m7 0h1m1 0h1m4 0h1m-72 1h1m0 0h1m0 0h1m1 0h1m1 0h1m0 0h1m0 0h1m1 0h1m1 0h1m0 0h1m2 0h1m0 0h1m0 0h1m2 0h1m1 0h1m0 0h1m0 0h1m1 0h1m0 0h1m0 0h1m0 0h1m1 0h1m1 0h1m0 0h1m0 0h1m0 0h1m0 0h1m0 0h1m1 0h1m2 0h1m0 0h1m3 0h1m0 0h1m0 0h1m0 0h1m0 0h1m3 0h1m4 0h1m4 0h1m1 0h1m0 0h1m-68 1h1m1 0h1m0 0h1m8 0h1m2 0h1m0 0h1m1 0h1m0 0h1m0 0h1m2 0h1m0 0h1m1 0h1m0 0h1m2 0h1m0 0h1m0 0h1m0 0h1m0 0h1m0 0h1m1 0h1m6 0h1m0 0h1m0 0h1m0 0h1m2 0h1m0 0h1m0 0h1m3 0h1m1 0h1m6 0h1m3 0h1m-79 1h1m7 0h1m5 0h1m1 0h1m2 0h1m0 0h1m2 0h1m0 0h1m1 0h1m0 0h1m0 0h1m0 0h1m2 0h1m1 0h1m0 0h1m0 0h1m2 0h1m0 0h1m0 0h1m0 0h1m0 0h1m4 0h1m0 0h1m1 0h1m0 0h1m2 0h1m0 0h1m1 0h1m0 0h1m1 0h1m0 0h1m0 0h1m0 0h1m4 0h1m4 0h1m-79 1h1m8 0h1m0 0h1m4 0h1m1 0h1m0 0h1m3 0h1m3 0h1m1 0h1m0 0h1m2 0h1m3 0h1m3 0h1m0 0h1m0 0h1m1 0h1m0 0h1m1 0h1m0 0h1m0 0h1m2 0h1m1 0h1m0 0h1m1 0h1m1 0h1m1 0h1m1 0h1m0 0h1m1 0h1m6 0h1m0 0h1m0 0h1m5 0h1m-72 1h1m6 0h1m0 0h1m1 0h1m2 0h1m1 0h1m2 0h1m3 0h1m1 0h1m0 0h1m0 0h1m0 0h1m0 0h1m0 0h1m1 0h1m0 0h1m0 0h1m0 0h1m0 0h1m1 0h1m1 0h1m2 0h1m0 0h1m0 0h1m0 0h1m0 0h1m0 0h1m0 0h1m1 0h1m0 0h1m0 0h1m1 0h1m3 0h1m4 0h1m2 0h1m-75 1h1m13 0h1m1 0h1m2 0h1m0 0h1m1 0h1m0 0h1m0 0h1m1 0h1m1 0h1m6 0h1m1 0h1m0 0h1m1 0h1m1 0h1m0 0h1m1 0h1m4 0h1m1 0h1m0 0h1m4 0h1m1 0h1m1 0h1m11 0h1m-64 1h1m3 0h1m1 0h1m0 0h1m1 0h1m0 0h1m0 0h1m1 0h1m2 0h1m1 0h1m4 0h1m0 0h1m0 0h1m0 0h1m0 0h1m1 0h1m1 0h1m1 0h1m0 0h1m2 0h1m0 0h1m3 0h1m4 0h1m1 0h1m1 0h1m0 0h1m0 0h1m0 0h1m1 0h1m1 0h1m0 0h1m-55 1h1m0 0h1m2 0h1m0 0h1m1 0h1m2 0h1m0 0h1m0 0h1m1 0h1m0 0h1m0 0h1m1 0h1m1 0h1m2 0h1m0 0h1m2 0h1m0 0h1m0 0h1m0 0h1m1 0h1m0 0h1m0 0h1m0 0h1m2 0h1m1 0h1m3 0h1m25 0h1m-86 1h1m8 0h1m6 0h1m2 0h1m3 0h1m0 0h1m0 0h1m0 0h1m2 0h1m0 0h1m0 0h1m1 0h1m0 0h1m0 0h1m0 0h1m0 0h1m1 0h1m0 0h1m0 0h1m0 0h1m3 0h1m0 0h1m0 0h1m0 0h1m0 0h1m0 0h1m0 0h1m0 0h1m1 0h1m2 0h1m0 0h1m1 0h1m1 0h1m0 0h1m3 0h1m-67 1h1m5 0h1m1 0h1m1 0h1m4 0h1m1 0h1m0 0h1m0 0h1m1 0h1m0 0h1m0 0h1m1 0h1m0 0h1m1 0h1m0 0h1m0 0h1m0 0h1m0 0h1m0 0h1m0 0h1m0 0h1m0 0h1m0 0h1m1 0h1m0 0h1m0 0h1m0 0h1m0 0h1m0 0h1m1 0h1m0 0h1m0 0h1m1 0h1m1 0h1m1 0h1m0 0h1m0 0h1m0 0h1m2 0h1m0 0h1m4 0h1m8 0h1m29 0h1m-108 1h1m1 0h1m0 0h1m5 0h1m3 0h1m0 0h1m0 0h1m6 0h1m0 0h1m0 0h1m6 0h1m0 0h1m1 0h1m0 0h1m2 0h1m0 0h1m1 0h1m2 0h1m3 0h1m0 0h1m1 0h1m2 0h1m2 0h1m0 0h1m2 0h1m0 0h1m1 0h1m0 0h1m0 0h1m4 0h1m-76 1h1m7 0h1m2 0h1m0 0h1m1 0h1m0 0h1m2 0h1m2 0h1m2 0h1m2 0h1m15 0h1m0 0h1m0 0h1m0 0h1m0 0h1m0 0h1m0 0h1m0 0h1m1 0h1m1 0h1m0 0h1m0 0h1m1 0h1m2 0h1m1 0h1m1 0h1m13 0h1m11 0h1m-88 1h1m8 0h1m2 0h1m2 0h1m2 0h1m2 0h1m28 0h1m1 0h1m3 0h1m1 0h1m2 0h1m0 0h1m2 0h1m0 0h1m4 0h1m2 0h1m5 0h1m1 0h1m-80 1h1m6 0h1m0 0h1m4 0h1m33 0h1m14 0h1m0 0h1m0 0h1m5 0h1m0 0h1m7 0h1m10 0h1m9 0h1m-115 1h1m14 0h1m3 0h1m0 0h1m0 0h1m40 0h1m0 0h1m0 0h1m3 0h1m4 0h1m0 0h1m9 0h1m4 0h1m-84 1h1m1 0h1m8 0h1m0 0h1m0 0h1m0 0h1m1 0h1m41 0h1m0 0h1m2 0h1m3 0h1m1 0h1m0 0h1m8 0h1m7 0h1m10 0h1m0 0h1m-87 1h1m0 0h1m44 0h1m5 0h1m1 0h1m8 0h1m1 0h1m3 0h1m0 0h1m5 0h1m5 0h1m12 0h1m-112 1h1m63 0h1m4 0h1m8 0h1m7 0h1m1 0h1m3 0h1m1 0h1m-88 1h1m4 0h1m53 0h1m0 0h1m3 0h1m0 0h1m0 0h1m0 0h1m0 0h1m0 0h1m13 0h1m1 0h1m0 0h1m1 0h1m5 0h1m5 0h1m-105 1h1m1 0h1m2 0h1m1 0h1m52 0h1m0 0h1m2 0h1m8 0h1m3 0h1m5 0h1m2 0h1m5 0h1m0 0h1m-32 1h1m2 0h1m0 0h1m0 0h1m1 0h1m10 0h1m0 0h1m4 0h1m5 0h1m6 0h1m39 0h1m-142 1h1m1 0h1m62 0h1m0 0h1m10 0h1m1 0h1m0 0h1m2 0h1m2 0h1m1 0h1m5 0h1m5 0h1m-37 1h1m0 0h1m0 0h1m13 0h1m3 0h1m7 0h1m4 0h1m-32 1h1m1 0h1m0 0h1m7 0h1m2 0h1m0 0h1m0 0h1m4 0h1m1 0h1m1 0h1m0 0h1m1 0h1m1 0h1m2 0h1m1 0h1m2 0h1m1 0h1m-43 1h1m0 0h1m0 0h1m0 0h1m1 0h1m0 0h1m0 0h1m3 0h1m1 0h1m3 0h1m2 0h1m1 0h1m0 0h1m5 0h1m3 0h1m2 0h1m-103 1h1m1 0h1m63 0h1m1 0h1m2 0h1m0 0h1m1 0h1m7 0h1m0 0h1m2 0h1m2 0h1m0 0h1m4 0h1m2 0h1m4 0h1m0 0h1m4 0h1m-111 1h1m66 0h1m1 0h1m5 0h1m3 0h1m1 0h1m0 0h1m0 0h1m3 0h1m0 0h1m0 0h1m2 0h1m0 0h1m4 0h1m6 0h1m-35 1h1m0 0h1m4 0h1m3 0h1m0 0h1m3 0h1m1 0h1m4 0h1m0 0h1m0 0h1m5 0h1m1 0h1m0 0h1m6 0h1m-113 1h1m67 0h1m0 0h1m5 0h1m1 0h1m2 0h1m2 0h1m4 0h1m1 0h1m2 0h1m0 0h1m1 0h1m0 0h1m8 0h1m1 0h1m1 0h1m21 0h1m-59 1h1m0 0h1m0 0h1m0 0h1m0 0h1m2 0h1m0 0h1m4 0h1m0 0h1m0 0h1m1 0h1m2 0h1m1 0h1m10 0h1m-111 1h1m70 0h1m1 0h1m0 0h1m0 0h1m2 0h1m0 0h1m0 0h1m2 0h1m1 0h1m4 0h1m0 0h1m2 0h1m1 0h1m0 0h1m0 0h1m0 0h1m0 0h1m14 0h1m-47 1h1m3 0h1m1 0h1m0 0h1m0 0h1m1 0h1m5 0h1m0 0h1m0 0h1m2 0h1m1 0h1m5 0h1m3 0h1m-34 1h1m1 0h1m0 0h1m0 0h1m2 0h1m0 0h1m3 0h1m0 0h1m0 0h1m0 0h1m3 0h1m1 0h1m1 0h1m3 0h1m0 0h1m2 0h1m6 0h1m3 0h1m11 0h1m-74 1h1m0 0h1m0 0h1m16 0h1m0 0h1m0 0h1m0 0h1m1 0h1m6 0h1m3 0h1m2 0h1m4 0h1m6 0h1m7 0h1m0 0h1m-111 1h1m51 0h1m16 0h1m0 0h1m2 0h1m1 0h1m1 0h1m1 0h1m3 0h1m3 0h1m0 0h1m1 0h1m1 0h1m5 0h1m12 0h1m-113 1h1m3 0h1m45 0h1m2 0h1m2 0h1m0 0h1m0 0h1m0 0h1m8 0h1m2 0h1m0 0h1m1 0h1m0 0h1m1 0h1m6 0h1m1 0h1m1 0h1m3 0h1m1 0h1m1 0h1m0 0h1m7 0h1m-55 1h1m0 0h1m2 0h1m0 0h1m0 0h1m0 0h1m2 0h1m2 0h1m1 0h1m2 0h1m3 0h1m8 0h1m9 0h1m5 0h1m0 0h1m1 0h1m4 0h1m0 0h1m0 0h1m-105 1h1m53 0h1m1 0h1m3 0h1m1 0h1m0 0h1m2 0h1m1 0h1m0 0h1m1 0h1m0 0h1m0 0h1m0 0h1m0 0h1m0 0h1m2 0h1m4 0h1m2 0h1m1 0h1m1 0h1m0 0h1m0 0h1m5 0h1m12 0h1m-68 1h1m2 0h1m2 0h1m1 0h1m1 0h1m2 0h1m5 0h1m1 0h1m2 0h1m0 0h1m1 0h1m4 0h1m5 0h1m3 0h1m2 0h1m1 0h1m5 0h1m4 0h1m-61 1h1m2 0h1m0 0h1m11 0h1m1 0h1m3 0h1m3 0h1m0 0h1m0 0h1m0 0h1m1 0h1m0 0h1m6 0h1m0 0h1m3 0h1m3 0h1m0 0h1m0 0h1m4 0h1m-56 1h1m10 0h1m0 0h1m2 0h1m2 0h1m3 0h1m1 0h1m2 0h1m5 0h1m0 0h1m0 0h1m5 0h1m-42 1h1m2 0h1m8 0h1m3 0h1m2 0h1m2 0h1m1 0h1m0 0h1m4 0h1m4 0h1m0 0h1m2 0h1m11 0h1m10 0h1m0 0h1m-66 1h1m5 0h1m11 0h1m0 0h1m0 0h1m0 0h1m0 0h1m3 0h1m6 0h1m9 0h1m1 0h1m8 0h1m-100 1h1m47 0h1m1 0h1m5 0h1m5 0h1m0 0h1m0 0h1m0 0h1m19 0h1m3 0h1m2 0h1m15 0h1m6 0h1m-70 1h1m4 0h1m10 0h1m1 0h1m11 0h1m0 0h1m2 0h1m3 0h1m3 0h1m-42 1h1m3 0h1m0 0h1m5 0h1m6 0h1m2 0h1m0 0h1m0 0h1m3 0h1m0 0h1m0 0h1m5 0h1m0 0h1m3 0h1m0 0h1m2 0h1m2 0h1m11 0h1m0 0h1m4 0h1m-68 1h1m4 0h1m5 0h1m7 0h1m23 0h1m2 0h1m2 0h1m10 0h1m-64 1h1m10 0h1m7 0h1m22 0h1m3 0h1m0 0h1m10 0h1m24 0h1m-82 1h1m0 0h1m17 0h1m22 0h1m1 0h1m-45 1h1m2 0h1m2 0h1m22 0h1m-8 1h1m1 0h1m31 0h1m-8 1h1m-54 1h1m0 0h1m0 0h1m2 0h1m60 0h1m-68 1h1m41 0h1m-23 1h1m-24 1h1m6 0h1m0 0h1m4 0h1m10 0h1m27 0h1m2 0h1m-28 1h1m-53 1h1m-3 1h1m20 0h1m4 0h1m15 0h1m-44 1h1m2 0h1m3 0h1m0 0h1m1 0h1m9 0h1m2 0h1m1 0h1m1 0h1m0 0h1m4 0h1m23 0h1m-57 1h1m2 0h1m1 0h1m5 0h1m2 0h1m5 0h1m3 0h1m7 0h1m-22 1h1m8 0h1m0 0h1m3 0h1m2 0h1m-16 1h1m6 0h1m-5 1h1m11 0h1m1 1h1m-8 1h1m0 0h1m1 0h1m16 0h1m-28 1h1m5 1h1m2 1h1m-5 3h1" fill="none" stroke="#000" stroke-width="1.5"/>
<path d="M156.5 1319.5l3.5 0 2 1 2 3 0.5 4 0 5-1.5 6-5.5 13-8 12-4.5 5-5 5-5 3.5-4 2-3 0.5-3-0.5-1.5-1.5-1-3-0.5-7 2.5-9 5-11 6-10 7.5-9 7-6 3-1.5 3.5-1.5zM95.5 1390.5l5.5-0.5 14 1.5 3 0.5 2 1 3.5 4.5 2 5 0 5-2 5-2.5 2.5-4 1.5-3-1-6-3-3 0-3 3-6.5 11-3.5 5-5 4-5 2.5-5 1-5 0-4-1-4-2-3-2.5-2-3-1.5-3-1-4 0-5 1-4 3-7 4.5-4.5 6-4 19-7 5.5-1.5zM153.5 1324.5l3.5-0.5 2 1 2 2.5 0.5 3-0.5 4-1 5-4.5 11-7 11-7.5 8-7 4.5-3 0.5-3-0.5-1.5-1.5-0.5-2-0.5-6 2-8 3.5-8 5.5-9 5.5-6.5 6-5.5 5.5-3zM92 1394.5l4-0.5 4 0.5 8 3 6-1.5 4 1 3 2.5 1.5 3 0 4-1.5 4-2.5 2-3 0-2.5-1-5-4.5-2-0.5-2 1.5-3 3.5-8.5 16-3.5 4-3 2.5-6 3-5 1-5-0.5-5-2.5-4.5-4.5-2-4-0.5-3 0.5-7 3-7 4.5-5 6-3.5 20-6.5zM150.5 1330.5l2.5-0.5 2 0.5 1 1 1 2.5-0.5 6.5-3 8-5.5 9-6 6.5-6 4-2 0.5-2 0-2-3-0.5-4 1.5-6 2.5-6 4-7 4.5-5.5 4-3.5 4.5-3zM86 1399.5l5-1 4 0.5 3 1.5 1 2 0 3-0.5 3-6 15-5 7-6.5 4.5-3 1-4 0.5-4-0.5-3-1.5-4.5-4-2.5-5-0.5-6 2-6 3.5-5 5-4 6-2.5 10-2.5zM146.5 1339.5l2.5-0.5 1 0 0.5 1.5 0 3-1.5 5-3 5-3 3.5-3 2-2 1-1-0.5-1-2 0-2 2-6 4-6 4.5-4zM83 1403.5l4 0 3 0.5 2 1.5 1 2 0 3-0.5 4-2.5 8-3.5 6-5.5 4.5-6 2-3-0.5-3-0.5-4-2.5-3-5-1-5 1.5-6 3.5-5 5-3.5 5-2.5 7-1zM74.5 1408.5l5.5-1 5 1 2.5 3 1 5-2 7-3 5-4.5 3.5-3 1-3 0-4-1-3.5-2.5-2-4-0.5-4 1-4 2.5-4 3.5-3 4.5-2zM72.5 1412.5l3.5-1 4 1 3 2 1 3 0 5-2 4-3 3-4 1.5-3 0-3.5-1.5-2.5-3-1-3 0.5-4 1.5-3 2-2 3.5-2zM74 1415.5l3 0.5 2 1 1.5 2.5 0 2-0.5 3-2 2.5-2 1.5-3 0-2-0.5-2-1-1.5-2.5 0-2 0-2 1.5-2.5 2-1.5 3-1zM72.5 1421.5l1.5-0.5 1 0.5 0 2-1 0.5-1.5-0.5-0.5-1 0.5-1z" fill="none" stroke="#888" stroke-width="0.75" stroke-linejoin="round"/>
<rect x="31" y="1290.5" width="191.5" height="180" fill="none" stroke="#333" stroke-width="1.3"/>
<line x1="104.5" y1="1290.5" x2="104.5" y2="1470.5" stroke="#111" stroke-width="1.5"/>
<line x1="31" y1="1379" x2="222.5" y2="1379" stroke="#111" stroke-width="1.5"/>
<rect x="27" y="1423" width="4" height="5" fill="#000"/>
<rect x="72.05" y="1470.5" width="6" height="4" fill="#000"/>
<path d="M26 1457.9H31M26 1389.5H31M26 1333.7H31M44.41 1470.5V1475.5M105.69 1470.5V1475.5M157.39 1470.5V1475.5M205.27 1470.5V1475.5" fill="none" stroke="#000" stroke-width="1.2"/>
<path d="M28.5 1437.31H31M28.5 1425.26H31M28.5 1416.72H31M28.5 1410.09H31M28.5 1404.67H31M28.5 1400.1H31M28.5 1396.13H31M28.5 1392.63H31M28.5 1372.7H31M28.5 1362.88H31M28.5 1355.91H31M28.5 1350.5H31M28.5 1346.08H31M28.5 1342.34H31M28.5 1339.11H31M28.5 1336.25H31M28.5 1316.9H31M28.5 1307.08H31M28.5 1300.11H31M28.5 1294.7H31M62.85 1470.5V1473M73.64 1470.5V1473M81.3 1470.5V1473M87.24 1470.5V1473M92.09 1470.5V1473M96.19 1470.5V1473M99.75 1470.5V1473M102.88 1470.5V1473M121.25 1470.5V1473M130.35 1470.5V1473M136.81 1470.5V1473M141.83 1470.5V1473M145.92 1470.5V1473M149.38 1470.5V1473M152.38 1470.5V1473M155.02 1470.5V1473M171.8 1470.5V1473M180.23 1470.5V1473M186.21 1470.5V1473M190.85 1470.5V1473M194.64 1470.5V1473M197.85 1470.5V1473M200.63 1470.5V1473M203.07 1470.5V1473M219.68 1470.5V1473" fill="none" stroke="#000" stroke-width="1"/>
<text transform="translate(4.5,1275) scale(1.051,1)" font-size="28.5">+ CpG-pre-pDC</text>
<text transform="translate(25.7,1408.87) rotate(-90) scale(0.904,1)" font-size="30.28">GFP</text>
<text transform="translate(127.71,1318) scale(1.072,1)" font-size="28.5">11.4%</text>
<text transform="translate(121.3,1465) scale(1.049,1)" font-size="28.5">5.94%</text>
<text transform="translate(80.13,1510) scale(1.041,1)" font-size="28.5">PDCA-1</text>
<line x1="200" y1="1328" x2="241" y2="1328" stroke="#000" stroke-width="3.5"/>
<polygon points="240,1317.5 261.5,1328 240,1338.5" fill="#000"/>
<path d="M400 1373.5l4.5-0.5 5 0 4 1.5 4 2.5 3 3.5 2 4 1 5 0 5-1 5-1.5 6-2.5 4-3 4-4 3-4 2.5-5 1.5-5 0-4-0.5-4-1.5-4-2.5-3-2.5-4.5-7-1-4-0.5-5 0.5-4 2-5 4.5-7 7-5 9.5-3z" fill="#8f8f8f"/>
<path d="M397 1368.5l6.5-0.5 6 0 6 2 4 2.5 3.5 3 3 5 2 5 1 6-0.5 7-1 6-2.5 5-3.5 5-4 4-5 3.5-6 2.5-6 1-6-0.5-5-1-4-2-5-3.5-3.5-4-3-5-1.5-5-1-5 0.5-6 1-5 2-4 3-5 4-4 4.5-3 5-2.5 5.5-1.5zM401.5 1370.5l6 0 5 1 4 1.5 4 3.5 2.5 3 2 5 1 6 0 6-1 6-2 5-3 5-3.5 3.5-5 4-5 2-5 1-5 0-5-1-5-2-4-3-3-3-3-4.5-1.5-4-1-5 0-5 1-5 1.5-4 2.5-4 3.5-4 4-3 5-2.5 10-2.5zM399 1373.5l4.5-1 5 0.5 4 0.5 4 2.5 3 2.5 2.5 4 1.5 5 0 5-0.5 6-1 5-2.5 5-3 4-4 4-4 2-5 2-5 0.5-4-0.5-4-1.5-4-2-3.5-2.5-2.5-3-2-4-1.5-4-0.5-5 0.5-5 1-4 2-4 2.5-3 3-3 4-2.5 4-2 5.5-1.5z" fill="none" stroke="#8c8c8c" stroke-width="1" stroke-linejoin="round"/>
<path d="M401.5 1375.5l4-0.5 4 0 4 1.5 3 2 2 3 2 4 0.5 5 0 5-1 5-1.5 5-2.5 4-2.5 3-4 3-4 2-4 1-5 0-7-2.5-3-2-3-2.5-2.5-4-1-3-1-4 0-4 2-7 1.5-3 3-3.5 3-2.5 4-2 9-3zM404.5 1377.5l4 0 3 1 3 1.5 2 2.5 1.5 3 0.5 4 0 6-1 5-3 7-2.5 3-3.5 2.5-3 1.5-4 1.5-7-0.5-6-2.5-2.5-2.5-2.5-3-1-3-1-4 0.5-7 3-6 4.5-4.5 6-3 9-2.5zM401.5 1380.5l4-0.5 3 0 3 1 2 2 1.5 2.5 1 3-0.5 8-2 7-1.5 3-2.5 3-3 2-3 1.5-4 0.5-3 0-5.5-2-4.5-4-2.5-5 0-6 1.5-5.5 3.5-4.5 5.5-3.5 7-2.5zM400 1383.5l6.5-1 4 1.5 1.5 1.5 1 3 0.5 6-1.5 7-3.5 5.5-5 3.5-3 0.5-3 0.5-5-2-3.5-3-2.5-4-0.5-5 1.5-5 3-4 4-3 5.5-2zM399 1386.5l5.5-1 3.5 1 2.5 3 0.5 5-1.5 6-2 4-4 3.5-5 1-4-1-3-2-2.5-3.5-0.5-4 1-4 2-3.5 3-2.5 4.5-2zM398 1389.5l4.5-1 3 1 2 2 0.5 3-0.5 4-1.5 4-2.5 2.5-4 1.5-3-0.5-3-1.5-1.5-2-1-3 0-3 1.5-3 2-2 3.5-2zM397.5 1392.5l3-1 2 0.5 1 0.5 1.5 2 0.5 3-1 3-1.5 2-2.5 1.5-2 0-2-0.5-2-1.5-1-2 0-2.5 0.5-2 3.5-3zM399.5 1394.5l1 0 1.5 1 0.5 3-1 2-3 1-2-1-0.5-2 0.5-2 3-2z" fill="none" stroke="#ececec" stroke-width="0.75" stroke-linejoin="round"/>
<rect x="285.5" y="1288.5" width="192.8" height="180.5" fill="none" stroke="#111" stroke-width="1.6"/>
<line x1="368.4" y1="1288.5" x2="368.4" y2="1469" stroke="#111" stroke-width="1.5"/>
<line x1="285.5" y1="1401.7" x2="478.3" y2="1401.7" stroke="#111" stroke-width="1.5"/>
<rect x="274.5" y="1423.99" width="11" height="7" fill="#000"/>
<rect x="323.42" y="1469" width="9" height="11" fill="#000"/>
<path d="M274.5 1456.37H285.5M274.5 1396.8H285.5M274.5 1349.87H285.5M274.5 1304.74H285.5M286.46 1469V1480M372.26 1469V1480M430.1 1469V1480" fill="none" stroke="#000" stroke-width="2.4"/>
<path d="M279.5 1438.43H285.5M279.5 1427.95H285.5M279.5 1420.5H285.5M279.5 1414.73H285.5M279.5 1410.01H285.5M279.5 1406.03H285.5M279.5 1402.57H285.5M279.5 1399.53H285.5M279.5 1382.67H285.5M279.5 1374.41H285.5M279.5 1368.55H285.5M279.5 1364H285.5M279.5 1360.28H285.5M279.5 1357.14H285.5M279.5 1354.42H285.5M279.5 1352.02H285.5M279.5 1336.29H285.5M279.5 1328.34H285.5M279.5 1322.7H285.5M279.5 1318.33H285.5M279.5 1314.76H285.5M279.5 1311.73H285.5M279.5 1309.12H285.5M279.5 1306.81H285.5M279.5 1291.16H285.5M279.5 1462.37H285.5M312.29 1469V1475M327.4 1469V1475M338.12 1469V1475M346.43 1469V1475M353.23 1469V1475M358.97 1469V1475M363.95 1469V1475M368.33 1469V1475M389.67 1469V1475M399.86 1469V1475M407.08 1469V1475M412.69 1469V1475M417.27 1469V1475M421.14 1469V1475M424.49 1469V1475M427.45 1469V1475M459.12 1469V1475M476.09 1469V1475M292.96 1469V1475M299.46 1469V1475M305.96 1469V1475M312.46 1469V1475M318.96 1469V1475M325.46 1469V1475M331.96 1469V1475M338.46 1469V1475M344.96 1469V1475M351.46 1469V1475M357.96 1469V1475M364.46 1469V1475" fill="none" stroke="#000" stroke-width="1.5"/>
<text transform="translate(383.91,1320) scale(1.042,1)" font-size="28.5">70.6%</text>
<text transform="translate(261.1,1422.68) rotate(-90) scale(1.277,1)" font-size="23.33">IFN-γ</text>
<path d="M639 1362.5l8.5 0 8 1 7 3 6 4.5 3.5 4.5 1.5 6-1.5 6-3.5 5-5 3.5-5 2.5-6 1.5-7 0.5-7-0.5-6-1.5-5-2.5-4-3.5-3-4-2-5 0-5 1.5-4 2.5-4 5-3.5 5-2.5 6.5-2z" fill="#8f8f8f"/>
<path d="M636.5 1358.5l10-0.5 10 1 9 3 5 3 3.5 2.5 5 6 1 3 1 4 0 3-1 4-4 6-5.5 5-7 3.5-7 2-8 1-8 0-8-2-7-3-6-4-4-5.5-2.5-6 0-6 1.5-5 3-5 5-4 6-3.5 8-2.5zM637.5 1360.5l9-0.5 9 1 8 3 7 4.5 5 6 2 6-1 6-3.5 6-5.5 5-6 2.5-7 2-7 1-8-0.5-6-1.5-7-3-4.5-3.5-3.5-4-2.5-5-0.5-5 1.5-6 3-5 4.5-3.5 6-3.5 7-2zM638 1362.5l8.5-0.5 8 1 8 3.5 6 4 4 5 1.5 5-0.5 3-0.5 3-3.5 5-4 4-6 3-6 1.5-7 1-7-0.5-6-1.5-6-3-4-3-3.5-4.5-1.5-5 0-5 1-4 3-4 4-3.5 6-3 5.5-1.5z" fill="none" stroke="#8c8c8c" stroke-width="1" stroke-linejoin="round"/>
<path d="M638.5 1364.5l7-0.5 8 1.5 7 2.5 5 3.5 3 4 2 5-1 5-3 5-3.5 3-4.5 2.5-6 2-6 0.5-6 0-6-1.5-5-2.5-4-3-3-4-1.5-4 0-4 1-4 3-4 3.5-3 5-2.5 5-1.5zM639 1366.5l6.5-0.5 7 1.5 6 2 4 3 3 4 1.5 4-1 5-2.5 4-3 2.5-4 2.5-5 1.5-5 0.5-5 0-5-1-5-2.5-3.5-2.5-2.5-3-1.5-4-0.5-4 1-3 2.5-4 3.5-2.5 4-2 4.5-1.5zM639.5 1368.5l6 0 5 0.5 5 2 4 2.5 2.5 3 1.5 4-0.5 4-2.5 4-3 2.5-4 2-4 1-5 0.5-8-1.5-4-2-3-2.5-2-3-1-3 0-3 1-3 2-2.5 2.5-2.5 3.5-1.5 4-1.5zM640 1370.5l4.5 0 5 0.5 4.5 1.5 3.5 2.5 2.5 3.5 0.5 3-1 3-2 3-2.5 2-3.5 2-7 1-7-1.5-3-1.5-2.5-2-1.5-2-1.5-3 0-3 1-2 1-2 2.5-2 3-1.5 3.5-1.5zM640.5 1372.5l4 0 4 0.5 3 1 3 2 2 2.5 0.5 3-0.5 3-2 2-4 3-6 1-6-1.5-4-2.5-2.5-4 0.5-4 1-2 2-1.5 5-2.5zM641 1374.5l5.5 0 5 2 2 2 0.5 2 0 2-1 2-3.5 2.5-4 1-5-0.5-3.5-2-2-3 0-3 2-3 4-2zM642 1376.5l4.5 0 3 1.5 1.5 2.5-0.5 3-2 1.5-3 1-3 0-3-1.5-2-2 0-2 2-3 2.5-1zM642.5 1378.5l3 0 2 1 0.5 2-0.5 1-1 1-2 0.5-3-0.5-1-1-0.5-2 2.5-2z" fill="none" stroke="#ececec" stroke-width="0.75" stroke-linejoin="round"/>
<rect x="528.5" y="1289.7" width="189.7" height="177.7" fill="none" stroke="#111" stroke-width="1.6"/>
<line x1="608.3" y1="1289.7" x2="608.3" y2="1467.4" stroke="#111" stroke-width="1.5"/>
<line x1="528.5" y1="1387" x2="718.2" y2="1387" stroke="#111" stroke-width="1.5"/>
<rect x="517.5" y="1423.03" width="11" height="7" fill="#000"/>
<rect x="565.73" y="1467.4" width="9" height="11" fill="#000"/>
<path d="M517.5 1454.96H528.5M517.5 1396.32H528.5M517.5 1350.12H528.5M517.5 1305.69H528.5M529.45 1467.4V1478.4M613.87 1467.4V1478.4M670.78 1467.4V1478.4" fill="none" stroke="#000" stroke-width="2.4"/>
<path d="M522.5 1437.31H528.5M522.5 1426.98H528.5M522.5 1419.66H528.5M522.5 1413.97H528.5M522.5 1409.33H528.5M522.5 1405.4H528.5M522.5 1402H528.5M522.5 1399H528.5M522.5 1382.41H528.5M522.5 1374.28H528.5M522.5 1368.5H528.5M522.5 1364.03H528.5M522.5 1360.37H528.5M522.5 1357.27H528.5M522.5 1354.6H528.5M522.5 1352.23H528.5M522.5 1336.74H528.5M522.5 1328.92H528.5M522.5 1323.37H528.5M522.5 1319.07H528.5M522.5 1315.55H528.5M522.5 1312.57H528.5M522.5 1310H528.5M522.5 1307.73H528.5M522.5 1292.32H528.5M522.5 1460.96H528.5M554.86 1467.4V1473.4M569.73 1467.4V1473.4M580.27 1467.4V1473.4M588.45 1467.4V1473.4M595.14 1467.4V1473.4M600.79 1467.4V1473.4M605.68 1467.4V1473.4M610 1467.4V1473.4M631 1467.4V1473.4M641.02 1467.4V1473.4M648.13 1467.4V1473.4M653.64 1467.4V1473.4M658.15 1467.4V1473.4M661.96 1467.4V1473.4M665.26 1467.4V1473.4M668.17 1467.4V1473.4M699.33 1467.4V1473.4M716.03 1467.4V1473.4M535.95 1467.4V1473.4M542.45 1467.4V1473.4M548.95 1467.4V1473.4M555.45 1467.4V1473.4M561.95 1467.4V1473.4M568.45 1467.4V1473.4M574.95 1467.4V1473.4M581.45 1467.4V1473.4M587.95 1467.4V1473.4M594.45 1467.4V1473.4M600.95 1467.4V1473.4M607.45 1467.4V1473.4" fill="none" stroke="#000" stroke-width="1.5"/>
<text transform="translate(615.49,1320) scale(1.062,1)" font-size="28.5">67.7%</text>
<text transform="translate(515.69,1436.27) rotate(-90) scale(0.874,1)" font-size="31.27">GM-CSF</text>
<path d="M876.5 1395.5l5-0.5 5 0 4 1 4 2 4 3.5 2 3 2 4 1 4 0 4-0.5 5-1.5 4-2.5 4-3.5 3.5-4 3-4 2-5 1.5-8-0.5-4-1.5-4-2-5.5-6-1.5-4-1-4 0-8 1.5-4 2-4 6.5-6 4-2.5 4-1.5z" fill="#8f8f8f"/>
<path d="M877.5 1389.5l6-0.5 6 0.5 5 1.5 5 3 4 3.5 3.5 5 2 5 1 5 0 5-1.5 6-2.5 5-3.5 5-5 4.5-5 3-5 2-6 1.5-5-0.5-5-1-5-2-4-3-3.5-3.5-2.5-4-2-5-1-5 0-6 1-5 2.5-5 2.5-4 4-4 4-3 5-2.5 5-1.5zM876.5 1392.5l5-0.5 5 0 5 1 5 2.5 4 3.5 3.5 4.5 2 4 1 5 0 5-1 5-2.5 5-3 4-3.5 4-4.5 3-5 2-5 1.5-5 0-5-1-4-1.5-4-2.5-3-3-2.5-3.5-2-4-1-5-0.5-5 1-5 1.5-4 2.5-4 3-3.5 4-3.5 5-2.5 4-1.5zM875.5 1395.5l5-1 5 0 5 1.5 4 2 4 3 2.5 3.5 2 4 1 4 0 5-1 4-1.5 4-2.5 4-3.5 4-4 3-4 2-5 1-4 0.5-5-1-3-1-4-2.5-3-2.5-2.5-3.5-2-4-1-4 0-4 0.5-4 1.5-4 2-4 3.5-4 3-2.5 7-3.5z" fill="none" stroke="#8c8c8c" stroke-width="1" stroke-linejoin="round"/>
<path d="M879 1397.5l4.5 0 4 0.5 4 1.5 3 2 3 3 1.5 3 1.5 4 0.5 4 0 4-1.5 4-2 4-3 3.5-3 2.5-4 2.5-4 1-4 0.5-4-0.5-4-1-3-1.5-3-3-2.5-3-1.5-3-1.5-7 0.5-4 1.5-4 4-6 5.5-4.5 4-1.5 3.5-1zM877.5 1400.5l3-0.5 4 0 4 1.5 3 1.5 4.5 4.5 1.5 3 0.5 4 0 4-0.5 3-2 4-2 3-5 4.5-3 1-4 1-4 0-3-0.5-6-3-4-5-2-6 0-4 1-3 3-6 5-4.5 6-2.5zM876 1403.5l6.5-1 6 2 4.5 4 2 5 0.5 6-2.5 6-4.5 4.5-6 2.5-6 0.5-5-2-4.5-4.5-2-5 0-6 2-5 3.5-4 5.5-3zM878 1405.5l5.5 0 4.5 2 3.5 3.5 1.5 4.5-0.5 5-2.5 5-4.5 3.5-5 1.5-5-0.5-4-2-3-3.5-1.5-5 1-5 2-4 3.5-3 4.5-2zM876.5 1408.5l4-1 4 1 3 2 2.5 4 0 4-1 4-2.5 3-4 2.5-4 0.5-4-1-3-3-2-3 0-4 1-4 2.5-3 3.5-2zM878 1410.5l3.5 0 3 1 2 2 1 3 0 3-1.5 3-2.5 2.5-3 1-3 0-3-1.5-2-2-1-3 0.5-3 1.5-3 2-2 2.5-1zM877 1413.5l2.5-1 2 0.5 2 1 1 1.5 1 2-1 3-1 1.5-2 1.5-2 0.5-2-0.5-2-1-1-2-0.5-2 0.5-2 2.5-3zM878 1415.5l2.5-0.5 2 1.5 0 3-2 2-2 0-2-2 0-2 1.5-2z" fill="none" stroke="#ececec" stroke-width="0.75" stroke-linejoin="round"/>
<rect x="770.4" y="1288.5" width="188.8" height="180.5" fill="none" stroke="#111" stroke-width="1.6"/>
<line x1="850" y1="1288.5" x2="850" y2="1469" stroke="#111" stroke-width="1.5"/>
<line x1="770.4" y1="1387" x2="959.2" y2="1387" stroke="#111" stroke-width="1.5"/>
<rect x="759.4" y="1423.99" width="11" height="7" fill="#000"/>
<rect x="807.44" y="1469" width="9" height="11" fill="#000"/>
<path d="M759.4 1456.37H770.4M759.4 1396.8H770.4M759.4 1349.87H770.4M759.4 1304.74H770.4M771.34 1469V1480M855.36 1469V1480M912 1469V1480" fill="none" stroke="#000" stroke-width="2.4"/>
<path d="M764.4 1438.43H770.4M764.4 1427.95H770.4M764.4 1420.5H770.4M764.4 1414.73H770.4M764.4 1410.01H770.4M764.4 1406.03H770.4M764.4 1402.57H770.4M764.4 1399.53H770.4M764.4 1382.67H770.4M764.4 1374.41H770.4M764.4 1368.55H770.4M764.4 1364H770.4M764.4 1360.28H770.4M764.4 1357.14H770.4M764.4 1354.42H770.4M764.4 1352.02H770.4M764.4 1336.29H770.4M764.4 1328.34H770.4M764.4 1322.7H770.4M764.4 1318.33H770.4M764.4 1314.76H770.4M764.4 1311.73H770.4M764.4 1309.12H770.4M764.4 1306.81H770.4M764.4 1291.16H770.4M764.4 1462.37H770.4M796.64 1469V1475M811.43 1469V1475M821.93 1469V1475M830.07 1469V1475M836.72 1469V1475M842.35 1469V1475M847.22 1469V1475M851.52 1469V1475M872.41 1469V1475M882.38 1469V1475M889.46 1469V1475M894.95 1469V1475M899.43 1469V1475M903.23 1469V1475M906.51 1469V1475M909.41 1469V1475M940.42 1469V1475M957.04 1469V1475M777.84 1469V1475M784.34 1469V1475M790.84 1469V1475M797.34 1469V1475M803.84 1469V1475M810.34 1469V1475M816.84 1469V1475M823.34 1469V1475M829.84 1469V1475M836.34 1469V1475M842.84 1469V1475M849.34 1469V1475" fill="none" stroke="#000" stroke-width="1.5"/>
<text transform="translate(864.31,1320) scale(1.042,1)" font-size="28.5">3.76%</text>
<text transform="translate(746.82,1421.55) rotate(-90) scale(1.147,1)" font-size="24.17">TGF-β</text>
<path d="M1124 1389.5l6 1.5 14.5 8.5 5 5 3 5 0.5 7-2 6-5 5-8 4-10 2-6-0.5-5-1-5-2-4-2.5-3-3-2.5-4-0.5-4 1-5 10.5-16 4.5-4.5 3-1 3-0.5z" fill="#8f8f8f"/>
<path d="M1119.5 1385.5l4.5-0.5 5 0.5 14 6.5 8 5 3 3 2.5 3.5 1.5 4 1 4 0 4-0.5 4-2 4-2 3-3.5 3.5-4 2.5-7 3-6 1.5-7 0.5-7-1-7-1.5-6-3-5-3.5-3-4-1.5-3-1-4 0.5-4 1.5-4 13.5-19 4-3.5 3.5-1.5zM1120.5 1387.5l5.5-0.5 7 2.5 14 8 3.5 3 3 4 2 4 0.5 4 0.5 3-1 4-2 4-2.5 3-6 4.5-6 3-6 1-6 0.5-7-0.5-6-2-5-2-4.5-3.5-3.5-4-1.5-3-0.5-4 0.5-3 1.5-4 12-17 3-3 4.5-2zM1121.5 1389.5l5.5 0 5 2 14 9 3 2.5 2.5 3.5 1 3 1 4-1 6-1.5 3-2 3-6 4.5-5 2-5 1-6 0.5-6-0.5-5-1-6-3-4-3-2.5-3.5-1.5-3 0-3 0-3 1.5-3 11.5-17 3-2.5 3.5-1.5z" fill="none" stroke="#8c8c8c" stroke-width="1" stroke-linejoin="round"/>
<path d="M1120.5 1392.5l4.5-1 5 2 13 8 3 3 2.5 3 2 5 0 3-0.5 3-3 5-5 4.5-4 2-5 1-6 0.5-5 0-5-1.5-5-2-3-2.5-3-3-1.5-5 0-3 1-3 10.5-15.5 2-2 2.5-1.5zM1121 1395.5l4-1 4 1.5 12 7.5 4.5 5 2 4 0 5-2.5 5-4 3.5-4 2-4 1-5 1-5-0.5-5-1-4-2-3-2-2.5-3-1.5-5 1.5-5 9.5-13.5 3-2.5zM1123.5 1398.5l2.5 0 2 0.5 9 5 4 3 2.5 3.5 1 5-1 4-2.5 3.5-4 2.5-7 2-8 0-7-3-3-2-1-2-1.5-4 1.5-5 9-11 3.5-2zM1122 1403.5l3-1 4 0.5 6 3 4.5 3.5 2 3 0.5 4-1.5 3-2.5 3-5 2.5-7 1-7-1.5-4.5-3-2-4 0.5-4 3-4.5 6-5.5zM1123.5 1406.5l2.5-0.5 4 0.5 4 1.5 3 2.5 1.5 3 0.5 3-1 2.5-2 2-4 2.5-6 0.5-5-1-4.5-2.5-1.5-3 0.5-4 3.5-4.5 4.5-2.5zM1123 1409.5l2-1 3 0 5 2 2 2 1 2 0 2-0.5 2-3.5 2.5-4 1.5-4-0.5-4-1.5-2-3 0-3 2-3 3-2zM1124 1411.5l4-0.5 3.5 1.5 2 3-1.5 3-2 1.5-3 0.5-3-0.5-2-1-1.5-1.5 0-2 1-2 2.5-2zM1125 1413.5l3-0.5 2 1 0.5 1.5-0.5 2-3 1-3-1-1-1 0-1 2-2z" fill="none" stroke="#ececec" stroke-width="0.75" stroke-linejoin="round"/>
<rect x="1011" y="1289.4" width="188.7" height="179.6" fill="none" stroke="#111" stroke-width="1.6"/>
<line x1="1092" y1="1289.4" x2="1092" y2="1469" stroke="#111" stroke-width="1.5"/>
<line x1="1011" y1="1402.4" x2="1199.7" y2="1402.4" stroke="#111" stroke-width="1.5"/>
<rect x="1000" y="1424.19" width="11" height="7" fill="#000"/>
<rect x="1048.01" y="1469" width="9" height="11" fill="#000"/>
<path d="M1000 1456.43H1011M1000 1397.16H1011M1000 1350.46H1011M1000 1305.56H1011M1011.94 1469V1480M1095.91 1469V1480M1152.53 1469V1480" fill="none" stroke="#000" stroke-width="2.4"/>
<path d="M1005 1438.59H1011M1005 1428.15H1011M1005 1420.75H1011M1005 1415H1011M1005 1410.31H1011M1005 1406.34H1011M1005 1402.9H1011M1005 1399.87H1011M1005 1383.1H1011M1005 1374.88H1011M1005 1369.05H1011M1005 1364.52H1011M1005 1360.82H1011M1005 1357.7H1011M1005 1354.99H1011M1005 1352.6H1011M1005 1336.95H1011M1005 1329.04H1011M1005 1323.43H1011M1005 1319.08H1011M1005 1315.53H1011M1005 1312.52H1011M1005 1309.92H1011M1005 1307.62H1011M1005 1292.05H1011M1005 1462.43H1011M1037.22 1469V1475M1052.01 1469V1475M1062.5 1469V1475M1070.64 1469V1475M1077.29 1469V1475M1082.91 1469V1475M1087.78 1469V1475M1092.07 1469V1475M1112.96 1469V1475M1122.92 1469V1475M1130 1469V1475M1135.48 1469V1475M1139.97 1469V1475M1143.76 1469V1475M1147.04 1469V1475M1149.93 1469V1475M1180.93 1469V1475M1197.54 1469V1475M1018.44 1469V1475M1024.94 1469V1475M1031.44 1469V1475M1037.94 1469V1475M1044.44 1469V1475M1050.94 1469V1475M1057.44 1469V1475M1063.94 1469V1475M1070.44 1469V1475M1076.94 1469V1475M1083.44 1469V1475M1089.94 1469V1475" fill="none" stroke="#000" stroke-width="1.5"/>
<text transform="translate(1107.09,1320) scale(1.080,1)" font-size="28.5">11.3%</text>
<text transform="translate(994.48,1412.46) rotate(-90) scale(0.853,1)" font-size="32.11">IL-10</text>
<path d="M1390.5 1355l1.5-0.5 2 0 1 1.5 0.5 3-1.5 6.5-7.5 13.5-1.5 4 0 4 3.5 9 1.5 6-0.5 6-1.5 6-2 5-3 4-6 5.5-7 2-4 0-3-1-4-2-3-3-2.5-3.5-2.5-5-1-5 0-5 0.5-5 1.5-5 4-7 5.5-7 10.5-10 11-8 7.5-9z" fill="#8f8f8f"/>
<path d="M1393.5 1347l2.5 0 2.5 2 1.5 3 0.5 5-1.5 9-6.5 14-1 4 0 3 3 9 0.5 5 0 6-1.5 7-2.5 5-3.5 6-3.5 4-4 3.5-4 2-5 1-5 0-4-1-5-2.5-4-4-3.5-5-2-5-1.5-6-0.5-6 0.5-6 2-6 4.5-9 8.5-10 9-8 11-8 8-9.5 4.5-2.5zM1392.5 1350l2.5 0 2 1.5 1 2.5 0.5 4-0.5 4-1.5 5-7 13-1 4 0 3 3 9 1 6 0 6-2 7-2.5 5-2.5 4-3.5 4-3 2-4 2-4 1.5-4 0-4-1-4-2-4-3.5-3-4-2.5-5-1.5-5-0.5-6 0.5-6 1.5-5 4.5-9 8.5-10 8.5-8 11-8 7-8.5 3.5-2.5zM1391.5 1354l2.5 0 1 1 1 2.5-0.5 3.5-2 6-7 13-1 4 0.5 4 3 8 1 5 0 6-1.5 7-4.5 8-3 4-3 2-3 1.5-4 1.5-4 0-4-1-4-2.5-3-2.5-3-4-2-5-1-5-0.5-5 1-5 1.5-5 4.5-8 9.5-10.5 7-7 10-6.5 6-8 2.5-2z" fill="none" stroke="#8c8c8c" stroke-width="1" stroke-linejoin="round"/>
<path d="M1381.5 1370l3.5-0.5 0.5 1.5-3.5 10-0.5 3 0.5 3 4 8 1.5 5 0 6-1 6-3 7-2.5 3.5-3 3-6 2.5-4 0.5-3-0.5-3-1-3-2.5-2.5-2.5-2.5-4-1.5-4-0.5-5 0-5 1-4 3-7 5-6.5 13-12 4-3 3.5-1.5zM1370 1384l3-1 2 0.5 6 8 3.5 7.5 1 7-2 8-3.5 6.5-3 2.5-3 2-3 1-3 0-3-0.5-3-1.5-4.5-4-1.5-3-1.5-4-0.5-7 1.5-7 3-6 5.5-5 6-4zM1369 1389l3 0 2 0.5 5 4 3 6.5 1 6-1 6-3 6-5 4.5-5 1-5-1-4.5-3.5-3-6-0.5-6 1-6 3-5.5 4-4 3-1.5 2-1zM1367 1393l5-0.5 4 2 3 4.5 1.5 5-0.5 6-2 5-3.5 4-4.5 2-4-0.5-4-2.5-3-4-1-5 0.5-5 2-5 3-4 3.5-2zM1367.5 1396l3.5-0.5 4 2 2.5 3.5 1 4-0.5 5-1.5 4-3 3-3.5 1.5-4-0.5-3-2-2-3-1-4 0-4 1.5-4 2.5-3 3.5-2zM1367 1399l3-0.5 3 1 2 2.5 1 3 0 4-1 3-2 2.5-3 1.5-3 0-2-1.5-2-2.5-1-3 0-3 1-3 2-2.5 2-1.5zM1367 1402l2-1 2 0.5 2 1.5 1 2 0 3-0.5 2-1.5 2.5-2 1-3-0.5-2.5-3-0.5-2 0.5-3 2.5-3zM1368.5 1404l2.5 0.5 1 2.5-1 3-2 1-2-1-1-2 1-2.5 1.5-1.5z" fill="none" stroke="#ececec" stroke-width="0.75" stroke-linejoin="round"/>
<rect x="1251.75" y="1288" width="188.25" height="180" fill="none" stroke="#111" stroke-width="1.6"/>
<line x1="1330.75" y1="1288" x2="1330.75" y2="1468" stroke="#111" stroke-width="1.5"/>
<line x1="1251.75" y1="1386.25" x2="1440" y2="1386.25" stroke="#111" stroke-width="1.5"/>
<rect x="1240.75" y="1423.1" width="11" height="7" fill="#000"/>
<rect x="1288.66" y="1468" width="9" height="11" fill="#000"/>
<path d="M1240.75 1455.4H1251.75M1240.75 1396H1251.75M1240.75 1349.2H1251.75M1240.75 1304.2H1251.75M1252.69 1468V1479M1336.46 1468V1479M1392.94 1468V1479" fill="none" stroke="#000" stroke-width="2.4"/>
<path d="M1245.75 1437.52H1251.75M1245.75 1427.06H1251.75M1245.75 1419.64H1251.75M1245.75 1413.88H1251.75M1245.75 1409.18H1251.75M1245.75 1405.2H1251.75M1245.75 1401.76H1251.75M1245.75 1398.72H1251.75M1245.75 1381.91H1251.75M1245.75 1373.67H1251.75M1245.75 1367.82H1251.75M1245.75 1363.29H1251.75M1245.75 1359.58H1251.75M1245.75 1356.45H1251.75M1245.75 1353.74H1251.75M1245.75 1351.34H1251.75M1245.75 1335.65H1251.75M1245.75 1327.73H1251.75M1245.75 1322.11H1251.75M1245.75 1317.75H1251.75M1245.75 1314.18H1251.75M1245.75 1311.17H1251.75M1245.75 1308.56H1251.75M1245.75 1306.26H1251.75M1245.75 1290.65H1251.75M1245.75 1461.4H1251.75M1277.91 1468V1474M1292.66 1468V1474M1303.13 1468V1474M1311.24 1468V1474M1317.88 1468V1474M1323.49 1468V1474M1328.34 1468V1474M1332.63 1468V1474M1353.46 1468V1474M1363.41 1468V1474M1370.46 1468V1474M1375.94 1468V1474M1380.41 1468V1474M1384.19 1468V1474M1387.46 1468V1474M1390.35 1468V1474M1421.27 1468V1474M1437.85 1468V1474M1259.19 1468V1474M1265.69 1468V1474M1272.19 1468V1474M1278.69 1468V1474M1285.19 1468V1474M1291.69 1468V1474M1298.19 1468V1474M1304.69 1468V1474M1311.19 1468V1474M1317.69 1468V1474M1324.19 1468V1474M1330.69 1468V1474" fill="none" stroke="#000" stroke-width="1.5"/>
<text transform="translate(1349.48,1318) scale(1.065,1)" font-size="28.5">25.2%</text>
<text transform="translate(1235.5,1413.59) rotate(-90) scale(0.925,1)" font-size="31.07">IL-27</text>
<line x1="261" y1="1500.8" x2="1440" y2="1500.8" stroke="#000" stroke-width="3.2"/>
<text transform="translate(794.42,1535.5) scale(1.043,1)" font-size="28.5">PDCA-1</text>
<path d="M83 1698l3-0.5 4 0.5 3.5 2 2 2 0.5 2-0.5 2.5-1.5 3.5-2.5 2-4.5 1.5-4 0-4-2-2.5-2.5-1-4 1-3 2.5-2.5 4-1.5z" fill="#aaa"/>
<path d="M84.5 1701l3.5 0 2 1.5 1 1.5 0 2-0.5 2-3.5 2-3 0.5-2-0.5-1.5-1-1-2 0-2 1-2 4-2z" fill="#888"/>
<path d="M196 1570h1m-27 2h1m12 0h1m16 0h1m-13 1h1m7 0h1m1 0h1m2 0h1m1 0h1m3 0h1m-17 1h1m-13 1h1m11 0h1m9 0h1m-23 2h1m3 0h1m11 0h1m0 0h1m2 0h1m10 0h1m1 0h1m11 0h1m-47 1h1m8 0h1m2 0h1m3 0h1m0 0h1m5 0h1m6 0h1m3 0h1m-59 1h1m26 0h1m3 0h1m0 0h1m3 0h1m-3 1h1m6 0h1m9 0h1m-34 1h1m4 0h1m0 0h1m1 0h1m0 0h1m10 0h1m0 0h1m0 0h1m0 0h1m12 0h1m-50 1h1m21 0h1m1 0h1m0 0h1m1 0h1m7 0h1m-21 1h1m7 0h1m5 0h1m1 0h1m2 0h1m14 0h1m1 0h1m-42 1h1m7 0h1m0 0h1m1 0h1m8 0h1m0 0h1m3 0h1m4 0h1m6 0h1m-27 1h1m4 0h1m5 0h1m2 0h1m0 0h1m0 0h1m7 0h1m-25 1h1m1 0h1m0 0h1m0 0h1m11 0h1m5 0h1m0 0h1m0 0h1m0 0h1m3 0h1m-42 1h1m4 0h1m1 0h1m0 0h1m11 0h1m5 0h1m0 0h1m0 0h1m0 0h1m7 0h1m-49 1h1m1 0h1m21 0h1m1 0h1m11 0h1m2 0h1m4 0h1m3 0h1m-48 1h1m19 0h1m0 0h1m14 0h1m5 0h1m1 0h1m0 0h1m-40 1h1m7 0h1m0 0h1m0 0h1m19 0h1m0 0h1m2 0h1m2 0h1m0 0h1m-39 1h1m9 0h1m1 0h1m-18 1h1m7 0h1m7 0h1m19 0h1m0 0h1m0 0h1m4 0h1m-36 1h1m4 0h1m0 0h1m23 0h1m0 0h1m0 0h1m0 0h1m-43 1h1m6 0h1m0 0h1m4 0h1m0 0h1m-9 1h1m0 0h1m0 0h1m3 0h1m0 0h1m27 0h1m-89 1h1m49 0h1m8 0h1m26 0h1m0 0h1m0 0h1m1 0h1m1 0h1m1 0h1m-45 1h1m3 0h1m1 0h1m32 0h1m2 0h1m2 0h1m5 0h1m-63 1h1m9 0h1m1 0h1m0 0h1m2 0h1m29 0h1m0 0h1m-36 1h1m33 0h1m3 0h1m1 0h1m1 0h1m-85 1h1m43 0h1m1 0h1m30 0h1m1 0h1m2 0h1m5 0h1m0 0h1m-76 1h1m29 0h1m0 0h1m0 0h1m-12 1h1m2 0h1m0 0h1m2 0h1m0 0h1m0 0h1m32 0h1m3 0h1m0 0h1m5 0h1m-107 1h1m61 0h1m0 0h1m31 0h1m4 0h1m0 0h1m0 0h1m-47 1h1m3 0h1m1 0h1m-11 1h1m0 0h1m1 0h1m3 0h1m0 0h1m1 0h1m34 0h1m0 0h1m2 0h1m3 0h1m-47 1h1m36 0h1m3 0h1m-87 1h1m33 0h1m5 0h1m0 0h1m0 0h1m3 0h1m32 0h1m0 0h1m2 0h1m0 0h1m-96 1h1m42 0h1m6 0h1m2 0h1m0 0h1m1 0h1m0 0h1m32 0h1m-45 1h1m6 0h1m-62 1h1m44 0h1m13 0h1m1 0h1m37 0h1m1 0h1m-94 1h1m1 0h1m4 0h1m5 0h1m38 0h1m0 0h1m35 0h1m0 0h1m-62 1h1m7 0h1m7 0h1m3 0h1m3 0h1m0 0h1m34 0h1m1 0h1m0 0h1m-106 1h1m8 0h1m4 0h1m40 0h1m5 0h1m3 0h1m39 0h1m0 0h1m-102 1h1m98 0h1m5 0h1m2 0h1m-102 1h1m20 0h1m8 0h1m1 0h1m8 0h1m46 0h1m0 0h1m4 0h1m11 0h1m-117 1h1m3 0h1m57 0h1m35 0h1m0 0h1m3 0h1m-120 1h1m24 0h1m10 0h1m0 0h1m13 0h1m17 0h1m6 0h1m0 0h1m0 0h1m0 0h1m34 0h1m0 0h1m0 0h1m6 0h1m-49 1h1m1 0h1m0 0h1m34 0h1m0 0h1m6 0h1m0 0h1m-85 1h1m24 0h1m1 0h1m5 0h1m6 0h1m36 0h1m2 0h1m-115 1h1m60 0h1m6 0h1m2 0h1m0 0h1m0 0h1m34 0h1m1 0h1m1 0h1m1 0h1m7 0h1m-114 1h1m57 0h1m0 0h1m4 0h1m34 0h1m1 0h1m4 0h1m-96 1h1m6 0h1m21 0h1m14 0h1m2 0h1m1 0h1m0 0h1m38 0h1m0 0h1m6 0h1m-122 1h1m30 0h1m12 0h1m24 0h1m6 0h1m35 0h1m0 0h1m8 0h1m-100 1h1m6 0h1m14 0h1m9 0h1m12 0h1m5 0h1m0 0h1m1 0h1m39 0h1m-108 1h1m5 0h1m6 0h1m4 0h1m9 0h1m1 0h1m28 0h1m2 0h1m1 0h1m0 0h1m35 0h1m0 0h1m2 0h1m-107 1h1m11 0h1m6 0h1m13 0h1m2 0h1m18 0h1m6 0h1m0 0h1m3 0h1m34 0h1m0 0h1m-105 1h1m15 0h1m3 0h1m2 0h1m8 0h1m25 0h1m2 0h1m2 0h1m1 0h1m34 0h1m2 0h1m1 0h1m-94 1h1m5 0h1m1 0h1m2 0h1m5 0h1m3 0h1m1 0h1m19 0h1m3 0h1m4 0h1m37 0h1m1 0h1m4 0h1m-110 1h1m8 0h1m1 0h1m2 0h1m2 0h1m36 0h1m43 0h1m2 0h1m3 0h1m-101 1h1m1 0h1m3 0h1m0 0h1m12 0h1m2 0h1m9 0h1m0 0h1m0 0h1m20 0h1m4 0h1m34 0h1m5 0h1m0 0h1m3 0h1m-125 1h1m13 0h1m3 0h1m3 0h1m5 0h1m1 0h1m3 0h1m2 0h1m20 0h1m3 0h1m3 0h1m6 0h1m1 0h1m34 0h1m5 0h1m-96 1h1m4 0h1m0 0h1m5 0h1m2 0h1m20 0h1m4 0h1m8 0h1m2 0h1m0 0h1m1 0h1m33 0h1m-96 1h1m20 0h1m25 0h1m12 0h1m0 0h1m29 0h1m2 0h1m8 0h1m-121 1h1m8 0h1m0 0h1m1 0h1m15 0h1m13 0h1m0 0h1m9 0h1m4 0h1m14 0h1m2 0h1m0 0h1m0 0h1m29 0h1m0 0h1m3 0h1m-96 1h1m12 0h1m12 0h1m3 0h1m0 0h1m2 0h1m1 0h1m16 0h1m36 0h1m6 0h1m4 0h1m-118 1h1m2 0h1m8 0h1m1 0h1m6 0h1m9 0h1m1 0h1m2 0h1m2 0h1m1 0h1m18 0h1m2 0h1m6 0h1m3 0h1m28 0h1m4 0h1m4 0h1m2 0h1m-90 1h1m9 0h1m5 0h1m1 0h1m5 0h1m23 0h1m28 0h1m2 0h1m6 0h1m-116 1h1m3 0h1m8 0h1m1 0h1m5 0h1m10 0h1m3 0h1m8 0h1m8 0h1m2 0h1m9 0h1m3 0h1m1 0h1m0 0h1m1 0h1m28 0h1m1 0h1m-109 1h1m12 0h1m1 0h1m0 0h1m7 0h1m5 0h1m4 0h1m5 0h1m14 0h1m7 0h1m1 0h1m2 0h1m0 0h1m2 0h1m30 0h1m1 0h1m-88 1h1m4 0h1m26 0h1m11 0h1m2 0h1m4 0h1m1 0h1m2 0h1m0 0h1m23 0h1m7 0h1m-109 1h1m11 0h1m28 0h1m21 0h1m8 0h1m1 0h1m25 0h1m0 0h1m0 0h1m1 0h1m-83 1h1m1 0h1m1 0h1m6 0h1m0 0h1m4 0h1m3 0h1m3 0h1m5 0h1m2 0h1m5 0h1m9 0h1m2 0h1m0 0h1m1 0h1m20 0h1m2 0h1m-85 1h1m6 0h1m1 0h1m2 0h1m1 0h1m1 0h1m26 0h1m0 0h1m0 0h1m7 0h1m24 0h1m0 0h1m0 0h1m1 0h1m1 0h1m11 0h1m12 0h1m-121 1h1m16 0h1m6 0h1m10 0h1m4 0h1m2 0h1m3 0h1m2 0h1m3 0h1m8 0h1m6 0h1m0 0h1m16 0h1m2 0h1m1 0h1m0 0h1m4 0h1m-90 1h1m8 0h1m1 0h1m29 0h1m11 0h1m5 0h1m1 0h1m17 0h1m0 0h1m0 0h1m-83 1h1m1 0h1m4 0h1m7 0h1m4 0h1m1 0h1m0 0h1m0 0h1m2 0h1m1 0h1m6 0h1m4 0h1m0 0h1m2 0h1m1 0h1m0 0h1m7 0h1m0 0h1m0 0h1m2 0h1m0 0h1m0 0h1m13 0h1m0 0h1m1 0h1m0 0h1m5 0h1m2 0h1m-95 1h1m0 0h1m4 0h1m3 0h1m20 0h1m2 0h1m7 0h1m2 0h1m0 0h1m1 0h1m6 0h1m1 0h1m1 0h1m2 0h1m2 0h1m1 0h1m0 0h1m1 0h1m8 0h1m0 0h1m0 0h1m1 0h1m4 0h1m-89 1h1m7 0h1m8 0h1m3 0h1m0 0h1m16 0h1m1 0h1m0 0h1m8 0h1m1 0h1m0 0h1m2 0h1m0 0h1m1 0h1m0 0h1m2 0h1m2 0h1m2 0h1m2 0h1m4 0h1m0 0h1m0 0h1m5 0h1m1 0h1m0 0h1m-109 1h1m20 0h1m8 0h1m3 0h1m1 0h1m5 0h1m5 0h1m2 0h1m2 0h1m8 0h1m0 0h1m0 0h1m1 0h1m0 0h1m3 0h1m8 0h1m0 0h1m2 0h1m0 0h1m1 0h1m0 0h1m0 0h1m5 0h1m0 0h1m6 0h1m-89 1h1m10 0h1m11 0h1m4 0h1m1 0h1m7 0h1m6 0h1m0 0h1m4 0h1m2 0h1m1 0h1m0 0h1m2 0h1m1 0h1m0 0h1m0 0h1m1 0h1m2 0h1m1 0h1m0 0h1m0 0h1m0 0h1m1 0h1m1 0h1m2 0h1m5 0h1m2 0h1m7 0h1m-88 1h1m7 0h1m5 0h1m6 0h1m5 0h1m1 0h1m2 0h1m0 0h1m0 0h1m1 0h1m0 0h1m2 0h1m2 0h1m1 0h1m0 0h1m6 0h1m3 0h1m0 0h1m0 0h1m0 0h1m0 0h1m2 0h1m2 0h1m5 0h1m2 0h1m-107 1h1m16 0h1m3 0h1m10 0h1m3 0h1m1 0h1m4 0h1m6 0h1m2 0h1m4 0h1m7 0h1m1 0h1m0 0h1m1 0h1m2 0h1m0 0h1m0 0h1m0 0h1m1 0h1m2 0h1m0 0h1m10 0h1m0 0h1m6 0h1m11 0h1m1 0h1m-93 1h1m6 0h1m0 0h1m4 0h1m2 0h1m1 0h1m8 0h1m3 0h1m0 0h1m2 0h1m2 0h1m0 0h1m1 0h1m0 0h1m0 0h1m5 0h1m2 0h1m0 0h1m6 0h1m1 0h1m0 0h1m0 0h1m2 0h1m0 0h1m0 0h1m3 0h1m1 0h1m4 0h1m0 0h1m4 0h1m-94 1h1m10 0h1m4 0h1m0 0h1m1 0h1m8 0h1m2 0h1m0 0h1m4 0h1m1 0h1m0 0h1m1 0h1m2 0h1m0 0h1m4 0h1m6 0h1m3 0h1m0 0h1m2 0h1m0 0h1m0 0h1m1 0h1m2 0h1m3 0h1m7 0h1m1 0h1m0 0h1m16 0h1m-119 1h1m11 0h1m4 0h1m15 0h1m8 0h1m1 0h1m0 0h1m9 0h1m0 0h1m1 0h1m1 0h1m3 0h1m0 0h1m0 0h1m0 0h1m1 0h1m0 0h1m1 0h1m2 0h1m3 0h1m0 0h1m1 0h1m0 0h1m1 0h1m0 0h1m2 0h1m0 0h1m0 0h1m5 0h1m5 0h1m3 0h1m-94 1h1m10 0h1m23 0h1m2 0h1m4 0h1m1 0h1m1 0h1m0 0h1m0 0h1m1 0h1m0 0h1m1 0h1m0 0h1m0 0h1m0 0h1m0 0h1m1 0h1m1 0h1m0 0h1m3 0h1m5 0h1m0 0h1m1 0h1m2 0h1m3 0h1m3 0h1m4 0h1m-93 1h1m1 0h1m1 0h1m3 0h1m0 0h1m20 0h1m0 0h1m6 0h1m0 0h1m1 0h1m1 0h1m1 0h1m0 0h1m0 0h1m0 0h1m0 0h1m0 0h1m0 0h1m0 0h1m0 0h1m0 0h1m2 0h1m0 0h1m0 0h1m2 0h1m0 0h1m0 0h1m6 0h1m2 0h1m2 0h1m-65 1h1m4 0h1m2 0h1m1 0h1m0 0h1m2 0h1m6 0h1m3 0h1m1 0h1m0 0h1m1 0h1m8 0h1m0 0h1m0 0h1m0 0h1m0 0h1m1 0h1m0 0h1m0 0h1m1 0h1m2 0h1m2 0h1m0 0h1m2 0h1m0 0h1m4 0h1m2 0h1m0 0h1m0 0h1m4 0h1m2 0h1m0 0h1m2 0h1m-88 1h1m22 0h1m2 0h1m1 0h1m8 0h1m0 0h1m1 0h1m0 0h1m0 0h1m0 0h1m0 0h1m0 0h1m1 0h1m0 0h1m1 0h1m1 0h1m1 0h1m1 0h1m0 0h1m0 0h1m0 0h1m2 0h1m0 0h1m1 0h1m0 0h1m3 0h1m0 0h1m0 0h1m18 0h1m-90 1h1m1 0h1m0 0h1m3 0h1m5 0h1m5 0h1m3 0h1m4 0h1m0 0h1m0 0h1m0 0h1m0 0h1m2 0h1m0 0h1m0 0h1m0 0h1m0 0h1m0 0h1m0 0h1m0 0h1m3 0h1m1 0h1m1 0h1m0 0h1m1 0h1m0 0h1m0 0h1m1 0h1m0 0h1m0 0h1m0 0h1m0 0h1m0 0h1m6 0h1m5 0h1m0 0h1m-80 1h1m4 0h1m2 0h1m9 0h1m1 0h1m6 0h1m0 0h1m0 0h1m1 0h1m2 0h1m1 0h1m0 0h1m0 0h1m0 0h1m0 0h1m0 0h1m0 0h1m0 0h1m0 0h1m1 0h1m0 0h1m2 0h1m0 0h1m1 0h1m0 0h1m0 0h1m1 0h1m0 0h1m1 0h1m1 0h1m0 0h1m1 0h1m0 0h1m10 0h1m6 0h1m2 0h1m-100 1h1m14 0h1m7 0h1m4 0h1m0 0h1m5 0h1m7 0h1m2 0h1m0 0h1m1 0h1m0 0h1m0 0h1m0 0h1m0 0h1m2 0h1m1 0h1m0 0h1m0 0h1m1 0h1m0 0h1m1 0h1m2 0h1m0 0h1m1 0h1m0 0h1m0 0h1m0 0h1m2 0h1m2 0h1m3 0h1m1 0h1m-80 1h1m3 0h1m4 0h1m8 0h1m5 0h1m12 0h1m3 0h1m1 0h1m0 0h1m3 0h1m1 0h1m0 0h1m0 0h1m0 0h1m2 0h1m1 0h1m1 0h1m0 0h1m2 0h1m0 0h1m0 0h1m0 0h1m0 0h1m1 0h1m0 0h1m1 0h1m3 0h1m0 0h1m3 0h1m3 0h1m-104 1h1m18 0h1m0 0h1m12 0h1m1 0h1m13 0h1m1 0h1m1 0h1m0 0h1m1 0h1m0 0h1m1 0h1m0 0h1m1 0h1m0 0h1m0 0h1m1 0h1m0 0h1m0 0h1m0 0h1m0 0h1m0 0h1m0 0h1m0 0h1m2 0h1m0 0h1m0 0h1m4 0h1m0 0h1m0 0h1m1 0h1m4 0h1m0 0h1m0 0h1m1 0h1m3 0h1m5 0h1m-89 1h1m4 0h1m0 0h1m4 0h1m3 0h1m6 0h1m1 0h1m0 0h1m0 0h1m3 0h1m1 0h1m0 0h1m0 0h1m5 0h1m0 0h1m0 0h1m0 0h1m0 0h1m4 0h1m0 0h1m0 0h1m0 0h1m1 0h1m0 0h1m1 0h1m0 0h1m0 0h1m1 0h1m0 0h1m0 0h1m0 0h1m3 0h1m1 0h1m2 0h1m4 0h1m11 0h1m-102 1h1m14 0h1m1 0h1m4 0h1m1 0h1m7 0h1m6 0h1m5 0h1m0 0h1m4 0h1m1 0h1m0 0h1m0 0h1m0 0h1m0 0h1m0 0h1m0 0h1m0 0h1m0 0h1m0 0h1m0 0h1m1 0h1m0 0h1m2 0h1m0 0h1m0 0h1m0 0h1m0 0h1m0 0h1m2 0h1m1 0h1m3 0h1m4 0h1m4 0h1m-96 1h1m11 0h1m4 0h1m4 0h1m2 0h1m7 0h1m1 0h1m5 0h1m0 0h1m2 0h1m4 0h1m5 0h1m0 0h1m0 0h1m0 0h1m0 0h1m0 0h1m0 0h1m0 0h1m7 0h1m0 0h1m3 0h1m0 0h1m1 0h1m0 0h1m0 0h1m0 0h1m3 0h1m1 0h1m0 0h1m1 0h1m1 0h1m0 0h1m3 0h1m2 0h1m-104 1h1m2 0h1m8 0h1m4 0h1m15 0h1m3 0h1m4 0h1m2 0h1m0 0h1m0 0h1m1 0h1m3 0h1m2 0h1m0 0h1m1 0h1m0 0h1m1 0h1m11 0h1m1 0h1m0 0h1m1 0h1m1 0h1m0 0h1m1 0h1m1 0h1m0 0h1m0 0h1m1 0h1m0 0h1m1 0h1m2 0h1m3 0h1m-90 1h1m2 0h1m3 0h1m3 0h1m0 0h1m5 0h1m3 0h1m5 0h1m0 0h1m5 0h1m1 0h1m1 0h1m4 0h1m1 0h1m0 0h1m0 0h1m18 0h1m2 0h1m0 0h1m4 0h1m0 0h1m1 0h1m1 0h1m0 0h1m2 0h1m-114 1h1m38 0h1m3 0h1m18 0h1m2 0h1m2 0h1m0 0h1m2 0h1m3 0h1m19 0h1m1 0h1m2 0h1m0 0h1m0 0h1m0 0h1m1 0h1m12 0h1m-87 1h1m0 0h1m5 0h1m1 0h1m0 0h1m4 0h1m10 0h1m6 0h1m0 0h1m0 0h1m0 0h1m0 0h1m2 0h1m0 0h1m21 0h1m0 0h1m1 0h1m0 0h1m0 0h1m1 0h1m0 0h1m0 0h1m1 0h1m0 0h1m0 0h1m0 0h1m1 0h1m1 0h1m-80 1h1m0 0h1m5 0h1m3 0h1m8 0h1m3 0h1m6 0h1m0 0h1m0 0h1m1 0h1m2 0h1m1 0h1m1 0h1m18 0h1m1 0h1m2 0h1m0 0h1m0 0h1m0 0h1m3 0h1m0 0h1m8 0h1m1 0h1m4 0h1m-84 1h1m0 0h1m3 0h1m0 0h1m0 0h1m1 0h1m6 0h1m2 0h1m1 0h1m1 0h1m0 0h1m1 0h1m0 0h1m1 0h1m1 0h1m0 0h1m0 0h1m0 0h1m21 0h1m0 0h1m0 0h1m7 0h1m1 0h1m5 0h1m10 0h1m-112 1h1m6 0h1m7 0h1m11 0h1m6 0h1m0 0h1m2 0h1m7 0h1m3 0h1m8 0h1m0 0h1m22 0h1m0 0h1m0 0h1m1 0h1m1 0h1m5 0h1m1 0h1m1 0h1m0 0h1m0 0h1m0 0h1m5 0h1m-96 1h1m13 0h1m1 0h1m3 0h1m11 0h1m11 0h1m0 0h1m0 0h1m23 0h1m0 0h1m0 0h1m7 0h1m0 0h1m0 0h1m9 0h1m-121 1h1m21 0h1m0 0h1m9 0h1m10 0h1m2 0h1m0 0h1m0 0h1m0 0h1m0 0h1m3 0h1m10 0h1m0 0h1m1 0h1m1 0h1m1 0h1m26 0h1m2 0h1m1 0h1m0 0h1m1 0h1m3 0h1m0 0h1m0 0h1m4 0h1m0 0h1m1 0h1m0 0h1m-98 1h1m2 0h1m1 0h1m0 0h1m1 0h1m0 0h1m12 0h1m0 0h1m0 0h1m1 0h1m1 0h1m5 0h1m0 0h1m1 0h1m1 0h1m3 0h1m1 0h1m2 0h1m28 0h1m1 0h1m8 0h1m0 0h1m7 0h1m-129 1h1m22 0h1m1 0h1m13 0h1m0 0h1m1 0h1m0 0h1m4 0h1m1 0h1m0 0h1m11 0h1m1 0h1m3 0h1m0 0h1m2 0h1m0 0h1m0 0h1m2 0h1m27 0h1m2 0h1m2 0h1m0 0h1m2 0h1m1 0h1m4 0h1m-105 1h1m8 0h1m1 0h1m5 0h1m8 0h1m4 0h1m2 0h1m0 0h1m6 0h1m5 0h1m4 0h1m33 0h1m0 0h1m5 0h1m0 0h1m2 0h1m2 0h1m16 0h1m-115 1h1m15 0h1m2 0h1m1 0h1m2 0h1m3 0h1m6 0h1m1 0h1m3 0h1m3 0h1m38 0h1m0 0h1m0 0h1m0 0h1m1 0h1m0 0h1m23 0h1m-137 1h1m2 0h1m13 0h1m3 0h1m10 0h1m7 0h1m4 0h1m3 0h1m2 0h1m0 0h1m0 0h1m2 0h1m6 0h1m1 0h1m1 0h1m4 0h1m1 0h1m30 0h1m0 0h1m0 0h1m5 0h1m1 0h1m0 0h1m2 0h1m-115 1h1m16 0h1m7 0h1m7 0h1m0 0h1m0 0h1m3 0h1m0 0h1m0 0h1m8 0h1m3 0h1m0 0h1m1 0h1m2 0h1m1 0h1m2 0h1m35 0h1m0 0h1m0 0h1m1 0h1m0 0h1m0 0h1m0 0h1m0 0h1m0 0h1m1 0h1m1 0h1m2 0h1m3 0h1m0 0h1m-132 1h1m22 0h1m0 0h1m1 0h1m1 0h1m1 0h1m11 0h1m1 0h1m2 0h1m1 0h1m5 0h1m1 0h1m7 0h1m0 0h1m3 0h1m2 0h1m39 0h1m0 0h1m1 0h1m0 0h1m2 0h1m-115 1h1m8 0h1m1 0h1m6 0h1m2 0h1m14 0h1m18 0h1m49 0h1m0 0h1m0 0h1m0 0h1m1 0h1m6 0h1m10 0h1m-146 1h1m19 0h1m1 0h1m2 0h1m4 0h1m5 0h1m4 0h1m2 0h1m78 0h1m3 0h1m1 0h1m2 0h1m1 0h1m0 0h1m-126 1h1m0 0h1m25 0h1m0 0h1m84 0h1m0 0h1m1 0h1m1 0h1m0 0h1m5 0h1m0 0h1m-138 1h1m19 0h1m6 0h1m0 0h1m0 0h1m0 0h1m1 0h1m91 0h1m1 0h1m1 0h1m0 0h1m0 0h1m1 0h1m3 0h1m0 0h1m0 0h1m-125 1h1m8 0h1m3 0h1m4 0h1m92 0h1m1 0h1m1 0h1m0 0h1m1 0h1m1 0h1m1 0h1m6 0h1m-122 1h1m6 0h1m0 0h1m1 0h1m92 0h1m3 0h1m0 0h1m1 0h1m2 0h1m7 0h1m10 0h1m-142 1h1m2 0h1m11 0h1m96 0h1m2 0h1m0 0h1m0 0h1m2 0h1m4 0h1m5 0h1m-131 1h1m2 0h1m1 0h1m7 0h1m97 0h1m0 0h1m0 0h1m2 0h1m0 0h1m1 0h1m0 0h1m7 0h1m-131 1h1m2 0h1m109 0h1m3 0h1m0 0h1m1 0h1m4 0h1m-127 1h1m2 0h1m4 0h1m5 0h1m0 0h1m98 0h1m1 0h1m0 0h1m0 0h1m0 0h1m3 0h1m1 0h1m1 0h1m0 0h1m1 0h1m1 0h1m2 0h1m-139 1h1m0 0h1m5 0h1m2 0h1m2 0h1m1 0h1m102 0h1m0 0h1m0 0h1m0 0h1m0 0h1m-130 1h1m16 0h1m1 0h1m1 0h1m0 0h1m102 0h1m1 0h1m0 0h1m1 0h1m3 0h1m0 0h1m1 0h1m0 0h1m2 0h1m2 0h1m-135 1h1m0 0h1m113 0h1m0 0h1m0 0h1m0 0h1m0 0h1m1 0h1m2 0h1m9 0h1m-136 1h1m2 0h1m6 0h1m0 0h1m0 0h1m104 0h1m0 0h1m0 0h1m1 0h1m1 0h1m1 0h1m-129 1h1m0 0h1m3 0h1m2 0h1m5 0h1m104 0h1m2 0h1m1 0h1m0 0h1m1 0h1m0 0h1m8 0h1m-145 1h1m7 0h1m1 0h1m5 0h1m5 0h1m102 0h1m1 0h1m0 0h1m0 0h1m2 0h1m0 0h1m2 0h1m2 0h1m6 0h1m2 0h1m-148 1h1m8 0h1m1 0h1m2 0h1m108 0h1m1 0h1m0 0h1m1 0h1m1 0h1m0 0h1m0 0h1m0 0h1m6 0h1m-136 1h1m1 0h1m3 0h1m0 0h1m2 0h1m1 0h1m0 0h1m105 0h1m1 0h1m4 0h1m0 0h1m5 0h1m7 0h1m-134 1h1m5 0h1m102 0h1m0 0h1m1 0h1m0 0h1m0 0h1m0 0h1m0 0h1m0 0h1m0 0h1m2 0h1m0 0h1m3 0h1m0 0h1m-143 1h1m2 0h1m7 0h1m0 0h1m2 0h1m2 0h1m0 0h1m102 0h1m3 0h1m2 0h1m1 0h1m1 0h1m0 0h1m0 0h1m1 0h1m-124 1h1m1 0h1m0 0h1m1 0h1m102 0h1m0 0h1m0 0h1m0 0h1m0 0h1m0 0h1m3 0h1m11 0h1m-143 1h1m6 0h1m5 0h1m5 0h1m99 0h1m0 0h1m2 0h1m0 0h1m0 0h1m13 0h1m1 0h1m-136 1h1m7 0h1m2 0h1m1 0h1m99 0h1m3 0h1m0 0h1m2 0h1m3 0h1m8 0h1m-129 1h1m0 0h1m0 0h1m0 0h1m101 0h1m1 0h1m0 0h1m0 0h1m0 0h1m0 0h1m2 0h1m1 0h1m0 0h1m4 0h1m3 0h1m8 0h1m-133 1h1m95 0h1m2 0h1m0 0h1m0 0h1m0 0h1m4 0h1m2 0h1m2 0h1m1 0h1m11 0h1m-132 1h1m6 0h1m91 0h1m0 0h1m2 0h1m2 0h1m0 0h1m3 0h1m1 0h1m3 0h1m0 0h1m4 0h1m1 0h1m-37 1h1m1 0h1m0 0h1m0 0h1m4 0h1m0 0h1m0 0h1m2 0h1m1 0h1m3 0h1m1 0h1m0 0h1m0 0h1m3 0h1m0 0h1m-113 1h1m79 0h1m0 0h1m8 0h1m2 0h1m0 0h1m10 0h1m0 0h1m3 0h1m0 0h1m0 0h1m0 0h1m0 0h1m5 0h1m5 0h1m-52 1h1m2 0h1m2 0h1m3 0h1m2 0h1m3 0h1m0 0h1m1 0h1m3 0h1m3 0h1m7 0h1m1 0h1m0 0h1m-129 1h1m0 0h1m9 0h1m4 0h1m72 0h1m0 0h1m10 0h1m1 0h1m1 0h1m0 0h1m3 0h1m0 0h1m0 0h1m2 0h1m7 0h1m0 0h1m0 0h1m10 0h1m-132 1h1m7 0h1m76 0h1m0 0h1m10 0h1m3 0h1m0 0h1m4 0h1m3 0h1m4 0h1m0 0h1m2 0h1m4 0h1m2 0h1m-129 1h1m14 0h1m85 0h1m0 0h1m5 0h1m8 0h1m0 0h1m3 0h1m-116 1h1m7 0h1m57 0h1m3 0h1m0 0h1m5 0h1m0 0h1m18 0h1m1 0h1m0 0h1m8 0h1m0 0h1m0 0h1m7 0h1m2 0h1m-140 1h1m9 0h1m5 0h1m2 0h1m1 0h1m3 0h1m1 0h1m0 0h1m54 0h1m8 0h1m3 0h1m6 0h1m14 0h1m2 0h1m3 0h1m4 0h1m10 0h1m-128 1h1m11 0h1m0 0h1m52 0h1m4 0h1m2 0h1m10 0h1m11 0h1m0 0h1m6 0h1m1 0h1m-111 1h1m74 0h1m2 0h1m20 0h1m10 0h1m3 0h1m2 0h1m7 0h1m0 0h1m-118 1h1m0 0h1m8 0h1m39 0h1m2 0h1m2 0h1m4 0h1m8 0h1m1 0h1m11 0h1m0 0h1m3 0h1m3 0h1m6 0h1m10 0h1m14 0h1m-115 1h1m0 0h1m0 0h1m37 0h1m10 0h1m9 0h1m24 0h1m9 0h1m4 0h1m2 0h1m0 0h1m-107 1h1m31 0h1m9 0h1m3 0h1m2 0h1m10 0h1m20 0h1m7 0h1m7 0h1m-108 1h1m6 0h1m2 0h1m4 0h1m1 0h1m19 0h1m2 0h1m8 0h1m50 0h1m6 0h1m-93 1h1m3 0h1m3 0h1m4 0h1m3 0h1m0 0h1m1 0h1m0 0h1m6 0h1m5 0h1m7 0h1m28 0h1m11 0h1m2 0h1m5 0h1m-96 1h1m11 0h1m9 0h1m0 0h1m0 0h1m4 0h1m6 0h1m2 0h1m1 0h1m37 0h1m2 0h1m9 0h1m0 0h1m-90 1h1m5 0h1m6 0h1m5 0h1m21 0h1m47 0h1m17 0h1m-107 1h1m12 0h1m11 0h1m46 0h1m9 0h1m2 0h1m-103 1h1m10 0h1m6 0h1m4 0h1m12 0h1m57 0h1m2 0h1m13 0h1m21 0h1m-125 1h1m22 0h1m2 0h1m2 0h1m10 0h1m46 1h1m2 0h1m13 0h1m-18 1h1m-71 1h1m65 1h1m16 0h1m-67 1h1m72 0h1m-14 1h1m10 1h1m-22 2h1m14 1h1m-2 3h1m-13 8h1" fill="none" stroke="#000" stroke-width="1.5"/>
<path d="M187.5 1587l3.5-0.5 3 1.5 2.5 3 1 4 0.5 5-1 6-1.5 6-2.5 7-7 12-5 5.5-5 5-5 3.5-4 2-4 0.5-3-0.5-2-1.5-2-3-1-2.5 0-4 1-10 4-10 5.5-10 7.5-10 7-6 4-2 3.5-1zM139 1667l2-1 3 0 3 1 3 2 6.5 7 5.5 9 2 6 0 6-1 3-2 3-4 3-5 2-13 2-21 7-10 3-13 3-7 1-9-0.5-7-2.5-7-4-4-5-1.5-3-0.5-3 0.5-3 1-3 1.5-3 3-3 6-4.5 8-3.5 9-1.5 11-1 20 0 7-1 4-2.5 5.5-10 3.5-3zM184 1592l3-1 3 0.5 2 1.5 2 3 0.5 4 0 5-1 5-2 6-6 11-7.5 9-4 3.5-4 2.5-4 1-3-0.5-2-1-1.5-1.5-1-3-0.5-3 0.5-7 3-9 4.5-9 6-8 6-6 6-3zM140.5 1672l3.5-1 5 2 5.5 5 4.5 7 2 6-0.5 5-1.5 4-4 3.5-4 1.5-12 2-26 9.5-18 5-7 1-7 0-7-2-6-4-2.5-2.5-2-3-1.5-5 0.5-3 1-3 2-3 2.5-3 6-4 7-2.5 7-1 11-0.5 22 0 7-1 3-1 2-2 5-8 2.5-2zM184 1597l2-0.5 2.5 1.5 1.5 2 0.5 3-0.5 7-3 9-5 8-6 6.5-6 3.5-3 0.5-2-0.5-2.5-3-0.5-5 1-6 2.5-7 4-7 4.5-6 5-4 5-2zM142.5 1678l3.5-0.5 4 2 3.5 3.5 2.5 5 1 4-1 4-2 2.5-3 2-13 3-24 9.5-19 6.5-7 1.5-8-0.5-6-2-5-3.5-3-5-1-5 1.5-5 4-5 5.5-4 6-2 7-0.5 34 0.5 7-0.5 5-2.5 5-6 2.5-2zM180 1605l3-0.5 1.5 1.5 0.5 1 0 5-1.5 5-2.5 5-4 4.5-4 2.5-3 0.5-2-1.5-0.5-2 0.5-4 1-4.5 2-4 3-4 3-3 3-1.5zM144.5 1689l1.5-1 2 1 0.5 1.5-0.5 2.5-3 1-1 0-1.5-1 0-2 2-2zM85 1691l8-0.5 28 2.5 8 2 2 1 1 1 0 1-1.5 2-3.5 3-11 6-23 9-6 1.5-5-0.5-6-1.5-5-3.5-2.5-4-1-5 1.5-5 4-4.5 5-3 7-1.5zM81 1694l4-1 5 0 16 3 7 3 1 0.5 0 2.5-1.5 2-2.5 2-16 9.5-7 2-6-0.5-4-1.5-3.5-2.5-2-3-1-4 0.5-4.5 2-3 3.5-2.5 4.5-2zM82.5 1696l4.5-0.5 4 0.5 4 1.5 3.5 2.5 1.5 2 0.5 3-1.5 3-2.5 3-5.5 3-5 1.5-6-1-4-2.5-2.5-4-0.5-3 0.5-2 1.5-2.5 2-2 3-2 2.5-0.5zM83 1699l3-0.5 3 0.5 2 1 2.5 2 1 2-0.5 3-1 2-2 2-4 1.5-4 0-3-1.5-2.5-2-1-3 1-3 2.5-3 3-1zM83 1705l2-1 1 0 1 1 0 1-1 1-2 0-1-1 0-1z" fill="none" stroke="#888" stroke-width="0.75" stroke-linejoin="round"/>
<rect x="35" y="1568.75" width="191.25" height="184.5" fill="none" stroke="#333" stroke-width="1.3"/>
<line x1="124.25" y1="1568.75" x2="124.25" y2="1753.25" stroke="#111" stroke-width="1.5"/>
<line x1="35" y1="1659.25" x2="226.25" y2="1659.25" stroke="#111" stroke-width="1.5"/>
<rect x="31" y="1704.62" width="4" height="5" fill="#000"/>
<rect x="75.99" y="1753.25" width="6" height="4" fill="#000"/>
<path d="M30 1740.34H35M30 1670.22H35M30 1613.03H35M48.39 1753.25V1758.25M109.59 1753.25V1758.25M161.23 1753.25V1758.25M209.04 1753.25V1758.25" fill="none" stroke="#000" stroke-width="1.2"/>
<path d="M32.5 1719.23H35M32.5 1706.88H35M32.5 1698.12H35M32.5 1691.33H35M32.5 1685.78H35M32.5 1681.09H35M32.5 1677.02H35M32.5 1673.43H35M32.5 1653.01H35M32.5 1642.94H35M32.5 1635.79H35M32.5 1630.25H35M32.5 1625.72H35M32.5 1621.89H35M32.5 1618.57H35M32.5 1615.65H35M32.5 1595.81H35M32.5 1585.74H35M32.5 1578.6H35M32.5 1573.05H35M66.81 1753.25V1755.75M77.59 1753.25V1755.75M85.23 1753.25V1755.75M91.16 1753.25V1755.75M96.01 1753.25V1755.75M100.11 1753.25V1755.75M103.66 1753.25V1755.75M106.79 1753.25V1755.75M125.13 1753.25V1755.75M134.22 1753.25V1755.75M140.68 1753.25V1755.75M145.68 1753.25V1755.75M149.77 1753.25V1755.75M153.23 1753.25V1755.75M156.22 1753.25V1755.75M158.86 1753.25V1755.75M175.62 1753.25V1755.75M184.04 1753.25V1755.75M190.01 1753.25V1755.75M194.64 1753.25V1755.75M198.43 1753.25V1755.75M201.63 1753.25V1755.75M204.4 1753.25V1755.75M206.85 1753.25V1755.75M223.43 1753.25V1755.75" fill="none" stroke="#000" stroke-width="1"/>
<text transform="translate(17.25,1559) scale(1.050,1)" font-size="28.5">+ PBS-pre-pDC</text>
<text transform="translate(27.19,1687.64) rotate(-90) scale(0.896,1)" font-size="30.99">GFP</text>
<text transform="translate(127.74,1599) scale(1.056,1)" font-size="28.5">10.6%</text>
<text transform="translate(125.65,1747.5) scale(1.051,1)" font-size="28.5">8.72%</text>
<text transform="translate(85.63,1796.5) scale(1.041,1)" font-size="28.5">PDCA-1</text>
<line x1="203.75" y1="1614.5" x2="244" y2="1614.5" stroke="#000" stroke-width="3.5"/>
<polygon points="243,1604 264.5,1614.5 243,1625" fill="#000"/>
<path d="M397.5 1645l5 1 4 3.5 6 8.5 9.5 11 3 6 2 6 0.5 5-0.5 5-2.5 8-3 4-3 2.5-4 2.5-4 1.5-4 0-4-0.5-4-1.5-4-2.5-3-3-3-4-2.5-8-0.5-10 3.5-26 1.5-3.5 2-3 2-1.5 3-1z" fill="#8f8f8f"/>
<path d="M396.5 1638l4 0 3 1 3 2 3.5 3 16 22 3 6 2.5 7 0.5 6 0 6-1.5 6-2.5 5-3.5 5-4 3.5-4 2.5-5 1.5-5 0.5-5-0.5-5-2-4-2.5-4-3.5-3-4.5-2.5-5-2-6-1-6 0-6 3-22 1-6 2-5 3-4 3.5-2.5 4-1.5zM394 1642l3.5-1 3 0.5 4 1.5 3 2.5 16.5 21.5 3 6 2 5 1 6 0 5-1 5-2 5-2.5 4.5-3.5 3.5-3.5 2.5-5 2-5 1-4-0.5-5-1.5-4-2-3-2.5-3.5-4-2-4-2-5-1-6-0.5-7 3.5-26 2.5-7 2.5-3 3-2zM396 1645l2.5-0.5 3 0.5 3 2 2 2 6 8.5 9.5 11.5 3 5 2 6 0.5 9-0.5 4-2 5-2.5 4-3 3-4 3-4 1.5-4 0.5-4-0.5-4-1-4-2.5-3-2.5-3-3.5-2.5-5-1-4-1-5 0-6 3.5-25 1.5-4 1.5-3 2-1.5 2.5-1.5z" fill="none" stroke="#8c8c8c" stroke-width="1" stroke-linejoin="round"/>
<path d="M398 1649l2.5 0.5 3 1.5 7 9 8 8 4 6 2.5 7 0.5 4-0.5 5-0.5 4-2 4-2 3-3 3-3 1.5-4 1.5-3 0.5-4-0.5-4-1.5-3-1.5-3-3-2.5-3-2-4-1-4-0.5-5 0-5 4-23.5 1-3 1.5-2.5 1.5-1 2.5-1zM398 1656l1.5-0.5 2 1 14 12.5 4.5 6 2.5 6 0.5 4 0 4-2 7-2 3-2.5 2.5-3 2-3 1-6 0-3-0.5-3.5-2-4.5-5-3-7-1-6 1-7 5-17.5 1-2 1.5-1.5zM401.5 1665l5 1 7 4.5 4.5 5.5 2.5 6 0.5 7-2 6-2.5 3-2 2-5 2-3 0.5-3-0.5-5-3-3.5-4-2.5-6-0.5-7 2-7 3.5-7 2-2 2-1zM402.5 1670l2 0 3 0.5 5 2.5 4 5 2 5 0 6-1.5 5-3.5 3.5-4 2-5 0-4-2-3.5-3.5-2-5-0.5-6 1.5-6 2.5-4 2-2 2-1zM402.5 1674l4-0.5 4 1.5 3 3 2.5 4 0.5 5-1 4-2 3.5-4 2.5-4 0-3-1-3.5-3-1.5-4-1-5 1-4 2-3.5 3-2.5zM403.5 1677l3-0.5 3 1 3 2.5 1.5 3 0.5 4-1 3-2 3-2 1.5-3 0-3-0.5-2-2-2-3-0.5-3 0.5-4 1.5-3 2.5-2zM404 1680l2.5-0.5 2 0.5 2 1.5 1.5 2.5 0 3-0.5 2-1 1.5-2 1.5-2 0-2-0.5-1.5-1.5-1.5-2 0-3 0-2 2.5-3zM404.5 1683l2-1 1 0.5 2 1.5 0.5 3-1.5 2-2 0.5-2.5-1.5-0.5-3 1-2z" fill="none" stroke="#ececec" stroke-width="0.75" stroke-linejoin="round"/>
<rect x="285.5" y="1575" width="188.2" height="178" fill="none" stroke="#111" stroke-width="1.6"/>
<line x1="366.3" y1="1575" x2="366.3" y2="1753" stroke="#111" stroke-width="1.5"/>
<line x1="285.5" y1="1686" x2="473.7" y2="1686" stroke="#111" stroke-width="1.5"/>
<rect x="274.5" y="1708.56" width="11" height="7" fill="#000"/>
<rect x="322.4" y="1753" width="9" height="11" fill="#000"/>
<path d="M274.5 1740.54H285.5M274.5 1681.8H285.5M274.5 1635.52H285.5M274.5 1591.02H285.5M286.44 1753V1764M370.19 1753V1764M426.65 1753V1764" fill="none" stroke="#000" stroke-width="2.4"/>
<path d="M279.5 1722.86H285.5M279.5 1712.51H285.5M279.5 1705.17H285.5M279.5 1699.48H285.5M279.5 1694.83H285.5M279.5 1690.9H285.5M279.5 1687.49H285.5M279.5 1684.49H285.5M279.5 1667.87H285.5M279.5 1659.72H285.5M279.5 1653.94H285.5M279.5 1649.45H285.5M279.5 1645.79H285.5M279.5 1642.69H285.5M279.5 1640H285.5M279.5 1637.64H285.5M279.5 1622.12H285.5M279.5 1614.29H285.5M279.5 1608.73H285.5M279.5 1604.42H285.5M279.5 1600.89H285.5M279.5 1597.91H285.5M279.5 1595.33H285.5M279.5 1593.06H285.5M279.5 1577.62H285.5M279.5 1746.54H285.5M311.65 1753V1759M326.4 1753V1759M336.86 1753V1759M344.98 1753V1759M351.61 1753V1759M357.22 1753V1759M362.07 1753V1759M366.36 1753V1759M387.19 1753V1759M397.13 1753V1759M404.18 1753V1759M409.65 1753V1759M414.12 1753V1759M417.9 1753V1759M421.18 1753V1759M424.07 1753V1759M454.98 1753V1759M471.55 1753V1759M292.94 1753V1759M299.44 1753V1759M305.94 1753V1759M312.44 1753V1759M318.94 1753V1759M325.44 1753V1759M331.94 1753V1759M338.44 1753V1759M344.94 1753V1759M351.44 1753V1759M357.94 1753V1759M364.44 1753V1759" fill="none" stroke="#000" stroke-width="1.5"/>
<text transform="translate(377.79,1604) scale(1.058,1)" font-size="28.5">68.2%</text>
<text transform="translate(261,1701.43) rotate(-90) scale(1.191,1)" font-size="25">IFN-γ</text>
<path d="M634 1643.5l3-1 3 0.5 3 1 2.5 2.5 15.5 18 3.5 6 2 5 1 5 0 5-1 5-1.5 4-2.5 4-2.5 3-4 2.5-4 2-4 0.5-4-0.5-7-2.5-3-2-3.5-4-4-8-1-5-0.5-6 2-14 0.5-11 2-6 1.5-2 3-2z" fill="#8f8f8f"/>
<path d="M635.5 1636.5l4.5 0 4 1.5 3 1.5 4 4 10 12 4.5 6 3 6 2.5 8 1 6 0 6-1.5 6-2 5-3.5 5-4 3.5-5 3-4 1-5 1-5-1-4-1-5-3-4-3.5-3-4-3-5-2-6-0.5-6-0.5-6 2.5-27 2-5 3-4 3.5-2.5 4.5-1.5zM635 1639.5l3-0.5 4 1 3 1.5 3.5 3 14.5 18 3.5 6 2 6 1 5 0.5 6-1 5-1.5 5-3 5-3.5 3.5-4 2.5-5 2-4 0.5-5 0-5-2-4-2-3.5-3.5-3-4-2-4-2-5-0.5-5-0.5-6 2.5-27 1.5-4 2-3 2.5-2.5 4-1.5zM636 1642.5l2-0.5 3 1 5 3.5 15.5 18 3 5 2 6 1 5 0 5-0.5 5-1.5 4-2.5 4-3 3-4 3-4 1.5-4 0.5-4 0-4-1-4-2.5-3.5-2.5-3-4-3.5-8-1-5 0-5 1.5-14 1-12 1-4 2-3 2.5-2 3-1z" fill="none" stroke="#8c8c8c" stroke-width="1" stroke-linejoin="round"/>
<path d="M635.5 1646.5l2.5-0.5 2 0.5 4.5 3 15 17 3 5 2 5 1 5 0 4-1 4-1 4-2.5 3.5-3 3-3 2-4 2-3 0-4 0-4-1.5-3-1.5-5.5-5.5-3-7-1-5 0-5 2-14 1-11 1.5-4 2-2 1.5-1zM636.5 1652.5l2.5-0.5 2 1 14 12 4.5 5.5 2.5 6 1.5 8-2 7-2 4-2.5 2.5-3 2-3 1-4 0.5-3 0-6-3-5-5-2.5-6-1-6 0.5-6 3.5-12 1-8 2-3zM640 1662.5l2-1 2 0.5 4 1.5 4 2.5 5 5 3 6.5 1 7-1.5 6-3.5 5-5 3-3 0.5-3 0-5-2-4-3.5-3-6-1-6 1-7 3-7.5 2-3 2-1.5zM641 1667.5l2-1 3 0 5 2 4 4 3 6 1 6-1.5 5-2.5 4-2 1.5-3 1.5-5 0-4-1.5-3.5-3.5-2.5-5-0.5-5 1-6 2.5-5.5 3-2.5zM643.5 1670.5l3.5-0.5 4 2 3 3.5 2.5 5 0 5-1.5 4-2.5 3-3.5 1.5-4 0-3-1.5-3-3-2-4 0-5 0.5-4 2.5-4 3.5-2zM644.5 1673.5l3.5 0 3 2 2 2.5 1 3.5 0 4-1 2.5-2 2.5-3 1-3 0-2-1-2.5-3-1-3-0.5-4 1-3 2-2.5 2.5-1.5zM645 1676.5l2-0.5 2 1 2 2 1 2.5 0 3-0.5 2-1.5 1.5-2 1-2 0-2-1-1.5-1.5-1-2 0-3 0.5-2 1-2 2-1zM645 1679.5l2-0.5 1 0.5 1.5 2 0 3-1.5 1.5-2 0.5-2-2 0-3 1-2z" fill="none" stroke="#ececec" stroke-width="0.75" stroke-linejoin="round"/>
<rect x="524" y="1573.4" width="189.5" height="182.3" fill="none" stroke="#111" stroke-width="1.6"/>
<line x1="604.3" y1="1573.4" x2="604.3" y2="1755.7" stroke="#111" stroke-width="1.5"/>
<line x1="524" y1="1673.7" x2="713.5" y2="1673.7" stroke="#111" stroke-width="1.5"/>
<rect x="513" y="1710.27" width="11" height="7" fill="#000"/>
<rect x="561.19" y="1755.7" width="9" height="11" fill="#000"/>
<path d="M513 1742.94H524M513 1682.78H524M513 1635.38H524M513 1589.81H524M524.95 1755.7V1766.7M609.27 1755.7V1766.7M666.12 1755.7V1766.7" fill="none" stroke="#000" stroke-width="2.4"/>
<path d="M518 1724.83H524M518 1714.24H524M518 1706.72H524M518 1700.89H524M518 1696.13H524M518 1692.1H524M518 1688.61H524M518 1685.53H524M518 1668.51H524M518 1660.17H524M518 1654.24H524M518 1649.65H524M518 1645.9H524M518 1642.72H524M518 1639.98H524M518 1637.55H524M518 1621.66H524M518 1613.64H524M518 1607.94H524M518 1603.53H524M518 1599.92H524M518 1596.87H524M518 1594.22H524M518 1591.89H524M518 1576.09H524M518 1748.94H524M550.33 1755.7V1761.7M565.18 1755.7V1761.7M575.72 1755.7V1761.7M583.89 1755.7V1761.7M590.57 1755.7V1761.7M596.21 1755.7V1761.7M601.1 1755.7V1761.7M605.42 1755.7V1761.7M626.39 1755.7V1761.7M636.4 1755.7V1761.7M643.5 1755.7V1761.7M649.01 1755.7V1761.7M653.51 1755.7V1761.7M657.32 1755.7V1761.7M660.62 1755.7V1761.7M663.52 1755.7V1761.7M694.65 1755.7V1761.7M711.33 1755.7V1761.7M531.45 1755.7V1761.7M537.95 1755.7V1761.7M544.45 1755.7V1761.7M550.95 1755.7V1761.7M557.45 1755.7V1761.7M563.95 1755.7V1761.7M570.45 1755.7V1761.7M576.95 1755.7V1761.7M583.45 1755.7V1761.7M589.95 1755.7V1761.7M596.45 1755.7V1761.7M602.95 1755.7V1761.7" fill="none" stroke="#000" stroke-width="1.5"/>
<text transform="translate(614.8,1601.5) scale(1.051,1)" font-size="28.5">34.2%</text>
<text transform="translate(515.17,1723.99) rotate(-90) scale(0.844,1)" font-size="32.82">GM-CSF</text>
<path d="M872 1682l6 0.5 17 6.5 6 4 3.5 4 3 7 0.5 7-1.5 4-1.5 3-6 5.5-4 2-5 1.5-5 0.5-5-0.5-5-1-4-2-4-3-3-4-2.5-5-0.5-5 3-18 1-3 2-2 5-2z" fill="#8f8f8f"/>
<path d="M869 1678l4-0.5 5 0.5 18 5.5 8 4.5 5.5 6 2 4 1.5 4 0.5 4-0.5 5-1.5 5-2 4-2.5 3-4 3.5-5 2.5-6 2-6 1-6-0.5-6-1.5-6-2.5-4.5-3.5-3.5-4-3.5-6-1-6 0-6 2.5-12 1.5-4 2.5-4 3-2.5 4-1.5zM869.5 1680l3.5-0.5 4 0.5 17 5.5 7 3.5 6 6 2 4 1.5 4 0.5 4-0.5 4-1 4-1.5 3-2.5 3-3.5 3.5-4 2.5-5 1.5-6 1.5-6-0.5-6-1-5-2.5-4.5-3-3.5-4-2.5-5-1.5-6 0.5-5 2-13 1-3 2-3 2.5-2.5 3.5-1.5zM870.5 1682l3.5-0.5 3 0.5 17 6 6 3.5 4.5 4.5 1.5 3 2 4 0 7-1 4-1.5 3-2 3-3.5 3-4 2.5-5 1.5-5 1-5-0.5-5-1-4-2-4-2.5-3.5-4-2-3-1.5-4-0.5-4 0.5-4 3.5-16 2.5-3.5 3.5-1.5z" fill="none" stroke="#8c8c8c" stroke-width="1" stroke-linejoin="round"/>
<path d="M870.5 1685l2.5-0.5 3 0 16 5.5 5.5 3 4.5 4 3 6 0.5 3 0 4-2 6-4.5 5-4 2.5-4 1.5-4 0.5-5 0-4-0.5-4-1.5-3.5-2.5-3-3-3.5-6-0.5-6 3.5-17 1-2 2.5-2zM872 1689l2-0.5 2 0 14 3.5 5 2.5 4.5 3.5 3 5 0.5 6-1 5-4 5-3 2-4 2-4 0.5-4 0-4-0.5-4-1.5-5.5-4.5-3-5-0.5-6 4-14 2-3zM875.5 1694l4.5-1 8 1 6 2.5 3.5 3.5 2.5 4 0.5 5-1.5 5-3 4-3 1.5-3 1.5-7 0.5-6-1.5-3-2-2.5-2-2.5-5-0.5-3 0.5-3 1-3.5 2-4 3.5-3.5zM878 1697l4-1 5 0.5 5 2 3.5 2.5 2 4 0.5 4-1 4-3 3.5-5 2.5-5 0.5-6-1.5-4-3-1.5-2-1-3 0-5 2.5-5 4-3zM880.5 1699l4.5-0.5 4 1 3 1.5 2.5 3 1 3-0.5 4-1.5 3-2.5 2-4 1.5-5 0-4-2-3-3-1.5-3.5 0.5-4 3-4 3.5-2zM883 1701l3 0 3 1 2.5 2 1.5 2 0 3-0.5 2-1.5 2-3 2-4 0.5-3-1-2.5-1.5-2-3 0-3 1-3 2.5-2 3-1zM881.5 1704l3.5-1 2 0.5 2 1.5 1 1 0.5 2-0.5 3-2 1.5-2 1-3-0.5-2.5-1-1.5-2-0.5-2 1-2 2-2zM882.5 1706l2.5-0.5 2 0.5 1 2-0.5 2-2.5 1.5-2-0.5-1-1-1-2 1.5-2z" fill="none" stroke="#ececec" stroke-width="0.75" stroke-linejoin="round"/>
<rect x="767" y="1572" width="187.6" height="184" fill="none" stroke="#111" stroke-width="1.6"/>
<line x1="846" y1="1572" x2="846" y2="1756" stroke="#111" stroke-width="1.5"/>
<line x1="767" y1="1673" x2="954.6" y2="1673" stroke="#111" stroke-width="1.5"/>
<rect x="756" y="1710.18" width="11" height="7" fill="#000"/>
<rect x="803.77" y="1756" width="9" height="11" fill="#000"/>
<path d="M756 1743.12H767M756 1682.4H767M756 1634.56H767M756 1588.56H767M767.94 1756V1767M851.42 1756V1767M907.7 1756V1767" fill="none" stroke="#000" stroke-width="2.4"/>
<path d="M761 1724.84H767M761 1714.15H767M761 1706.56H767M761 1700.68H767M761 1695.87H767M761 1691.81H767M761 1688.28H767M761 1685.18H767M761 1668H767M761 1659.57H767M761 1653.6H767M761 1648.96H767M761 1645.17H767M761 1641.97H767M761 1639.2H767M761 1636.75H767M761 1620.71H767M761 1612.61H767M761 1606.87H767M761 1602.41H767M761 1598.77H767M761 1595.69H767M761 1593.02H767M761 1590.66H767M761 1574.71H767M761 1749.12H767M793.07 1756V1762M807.77 1756V1762M818.2 1756V1762M826.29 1756V1762M832.9 1756V1762M838.49 1756V1762M843.33 1756V1762M847.6 1756V1762M868.36 1756V1762M878.27 1756V1762M885.3 1756V1762M890.76 1756V1762M895.21 1756V1762M898.98 1756V1762M902.25 1756V1762M905.12 1756V1762M935.94 1756V1762M952.45 1756V1762M774.44 1756V1762M780.94 1756V1762M787.44 1756V1762M793.94 1756V1762M800.44 1756V1762M806.94 1756V1762M813.44 1756V1762M819.94 1756V1762M826.44 1756V1762M832.94 1756V1762M839.44 1756V1762M845.94 1756V1762" fill="none" stroke="#000" stroke-width="1.5"/>
<text transform="translate(856.5,1601.5) scale(1.051,1)" font-size="28.5">3.03%</text>
<text transform="translate(749.69,1709.25) rotate(-90) scale(1.161,1)" font-size="23.85">TGF-β</text>
<path d="M1120.5 1694l7 0 7 0.5 6 1.5 5 2.5 4 3.5 1.5 3 0.5 4-1.5 3-2.5 3-5 3-6 2-6 1-7 0.5-7-1-6-1.5-5-2.5-4-3.5-2-3 0-4 1-3 3-3 5-3 5-1.5 7-1.5z" fill="#8f8f8f"/>
<path d="M1117.5 1691l9-0.5 8 0.5 7 1.5 7 3 5 3.5 3 4 1 5-1 4-3 4-5 3.5-7 3-7 1.5-9 0.5-9-0.5-7-2-7-2.5-5-3.5-3-4-1-4 1-5 3-4 6-4 7-2.5 7-1.5zM1115.5 1693l7-1 8 0 8 1.5 6 2 5.5 3.5 3.5 4 1.5 4-1 4-2.5 4-4 3-6 2.5-7 2-7 0.5-8-0.5-7-1-6-2-5-3-3.5-3.5-1.5-4 0-4 2.5-4 4.5-3.5 6-3 6-1.5zM1119 1694l7.5-0.5 7 0.5 6 1.5 5 2 4 3 2.5 3.5 1 4-1 3-2.5 3.5-4 3-6 2.5-7 1-7 0.5-7-0.5-6-1.5-5-2.5-4-2.5-2.5-3.5-1-3 1-4 2.5-3 5-3.5 5-2 6.5-1.5z" fill="none" stroke="#8c8c8c" stroke-width="1" stroke-linejoin="round"/>
<path d="M1117 1696l6.5-1 7 0.5 6 1 5 2 4 2.5 2.5 3 1 3-1 4-2.5 3-3 2.5-5 2-6 1-6 0.5-6-0.5-5-1-5-2-4.5-2.5-2.5-3-0.5-3 0.5-3 2-3 3-2.5 4-2 5.5-1.5zM1120.5 1697l6-0.5 5 0.5 5 1.5 4 1.5 3 2 2 3 0.5 3-1 3-2.5 3-3 1.5-4 1.5-5 1.5-6 0-5-0.5-5-1-4-2-3-2-2.5-3-0.5-3 0.5-2 2.5-3 3-2 5-2 5-1zM1118 1699l5.5-1 5 0.5 5 0.5 4 1.5 3 2 2 2.5 1 2-1 3-1 2-3 2-7 2.5-9 0.5-8.5-2-3.5-2-2-2-1-2 0-3 1.5-2 2.5-2 6.5-3zM1121 1700l8.5 0 6.5 2 3 2 1 2 0.5 2-0.5 2-2 2-2.5 1.5-7 2-8-0.5-6-2-3.5-3-1-2 0.5-2 1.5-2 2.5-2 6.5-2zM1119.5 1702l7-1 6 1.5 4 2.5 1 2 0 2-3 3-4 1.5-6 0.5-6-1-2.5-1-2-2-1-3 2-3 4.5-2zM1122 1703l5.5 0 4.5 1 2.5 2 0.5 1-0.5 2-2 2-4 1.5-5 0-4-1-3-2.5-0.5-2 2.5-2.5 3.5-1.5zM1121 1705l3.5-1 4 0.5 3 1.5 0.5 2-1.5 2-2 1-3 0-3 0-2.5-1-1.5-2 1-2 1.5-1zM1123 1706l4.5 0 1.5 1 0 1-1.5 1.5-4 0-2-1.5 0-1 1.5-1z" fill="none" stroke="#ececec" stroke-width="0.75" stroke-linejoin="round"/>
<rect x="1006.3" y="1575" width="188.7" height="181" fill="none" stroke="#111" stroke-width="1.6"/>
<line x1="1087.4" y1="1575" x2="1087.4" y2="1756" stroke="#111" stroke-width="1.5"/>
<line x1="1006.3" y1="1688.6" x2="1195" y2="1688.6" stroke="#111" stroke-width="1.5"/>
<rect x="995.3" y="1710.87" width="11" height="7" fill="#000"/>
<rect x="1043.31" y="1756" width="9" height="11" fill="#000"/>
<path d="M995.3 1743.33H1006.3M995.3 1683.6H1006.3M995.3 1636.54H1006.3M995.3 1591.29H1006.3M1007.24 1756V1767M1091.21 1756V1767M1147.83 1756V1767" fill="none" stroke="#000" stroke-width="2.4"/>
<path d="M1000.3 1725.35H1006.3M1000.3 1714.83H1006.3M1000.3 1707.37H1006.3M1000.3 1701.58H1006.3M1000.3 1696.85H1006.3M1000.3 1692.85H1006.3M1000.3 1689.39H1006.3M1000.3 1686.33H1006.3M1000.3 1669.43H1006.3M1000.3 1661.15H1006.3M1000.3 1655.27H1006.3M1000.3 1650.71H1006.3M1000.3 1646.98H1006.3M1000.3 1643.83H1006.3M1000.3 1641.1H1006.3M1000.3 1638.69H1006.3M1000.3 1622.92H1006.3M1000.3 1614.95H1006.3M1000.3 1609.3H1006.3M1000.3 1604.91H1006.3M1000.3 1601.33H1006.3M1000.3 1598.3H1006.3M1000.3 1595.68H1006.3M1000.3 1593.36H1006.3M1000.3 1577.67H1006.3M1000.3 1749.33H1006.3M1032.52 1756V1762M1047.31 1756V1762M1057.8 1756V1762M1065.94 1756V1762M1072.59 1756V1762M1078.21 1756V1762M1083.08 1756V1762M1087.37 1756V1762M1108.26 1756V1762M1118.22 1756V1762M1125.3 1756V1762M1130.78 1756V1762M1135.27 1756V1762M1139.06 1756V1762M1142.34 1756V1762M1145.23 1756V1762M1176.23 1756V1762M1192.84 1756V1762M1013.74 1756V1762M1020.24 1756V1762M1026.74 1756V1762M1033.24 1756V1762M1039.74 1756V1762M1046.24 1756V1762M1052.74 1756V1762M1059.24 1756V1762M1065.74 1756V1762M1072.24 1756V1762M1078.74 1756V1762M1085.24 1756V1762" fill="none" stroke="#000" stroke-width="1.5"/>
<text transform="translate(1101,1604) scale(1.051,1)" font-size="28.5">3.38%</text>
<text transform="translate(995.19,1700.26) rotate(-90) scale(0.893,1)" font-size="30.56">IL-10</text>
<path d="M1372 1678.5l5.5-0.5 6 0.5 6 1 5 2.5 4.5 3.5 3 4 2 4 0.5 5-0.5 5-2 5-2.5 4-4 4-5 3.5-5 2.5-6 1.5-7 1-10-1.5-8-4-3-3-3-4-1.5-4-0.5-4 0.5-4 1-4 2-4 3.5-4 8-6 5-2.5 5.5-1.5z" fill="#8f8f8f"/>
<path d="M1393 1627.5l2.5 0.5 1.5 1.5 0 3-1.5 1.5-3 0-1.5-2.5 0.5-2.5 1.5-1.5zM1370.5 1672.5l7-0.5 8 0 6 1.5 7 2.5 5 3.5 4.5 5 3 5 1 5 0 6-1 6-3.5 6-4 5-5 4.5-7 4-6 2.5-8 1.5-7 0.5-7-1-5-1.5-6-2.5-5-4-3.5-4-3-5-1-5 0-6 1-5 2.5-6 4-5 5-4.5 5-3.5 7-3 6-2zM1370.5 1675.5l6-0.5 7 0 6 1 6 2.5 5 3 4 4 2.5 5 1.5 5 0 5-1.5 6-2.5 5-3.5 4-4.5 4.5-6 3.5-7 2.5-6 1.5-6 0-6-0.5-6-1.5-5-2.5-5-3.5-3-4-2-4-1.5-5 0-5 1.5-5 2-5 3-4 5-4.5 5-3 6-3 5-1.5zM1370.5 1678.5l6-0.5 6 0 6 1 5 2 4 2.5 4 4 2 4 1 4 0.5 4-1 5-2 5-3 4-3.5 3.5-5 3.5-6 2.5-5 1.5-6 0.5-5 0-5-1-5-2-4.5-2.5-3.5-3.5-3-4.5-1-4-0.5-4 1-5 2-5 3-4 4-4 4.5-3 5-2 5-2z" fill="none" stroke="#8c8c8c" stroke-width="1" stroke-linejoin="round"/>
<path d="M1376.5 1680.5l6 0.5 5 1 5 2.5 4 3 3 4 1.5 4 0.5 4-1 5-2.5 5-3 4-4.5 3.5-5 3-6 2-6 0.5-6-0.5-5-1-4-2-3-2-4.5-5.5-1.5-6 0-4 0.5-3 2-4 2-3 6.5-5.5 8-4 8-1.5zM1374 1683.5l5.5 0 5 0.5 4 1.5 4 2.5 3 3.5 1.5 3 1 4-0.5 4-1 4-3 4-3 3.5-4 2.5-4 2-5 1-5 0.5-5-0.5-7-2.5-5-4.5-2.5-5-0.5-6 2.5-6 2-3 3-3 6.5-3.5 7.5-2.5zM1372.5 1686.5l8 0 4 0.5 3 1.5 3 2 2.5 3 1.5 3 0 3 0 3-1 3-2 3-2.5 3-6.5 4-8 2-7-0.5-6-2.5-2-2-2.5-3-1.5-5 0-3 1-3 3.5-5 5.5-4 7-3zM1371 1689.5l5.5-0.5 6 0.5 5 2.5 3 3.5 1 4-1 5-3 5-5 3.5-7 2-7-0.5-3-1-3-2-3-4-1-5 2-5 4.5-5 6-3zM1373.5 1691.5l5 0 5 1.5 2 1.5 1.5 2 1.5 4-1 4-3 4-5 3-6 1.5-4-0.5-4-2-2.5-3-1.5-4 1-4 2-3 4-3 5-2zM1371.5 1694.5l4-0.5 4 0.5 3 1 1.5 2 1 2 0 3-1.5 3-2 2.5-4 2-5 0.5-4-1.5-3-2.5-1-3 1-4 2.5-3 3.5-2zM1373.5 1696.5l3 0 3 1 1.5 1 1 2 0 2-1 2-2.5 2-2 1-3 0.5-3-1-2-1.5-1-2 0-2 1-2 2.5-2 2.5-1zM1372.5 1699.5l3-0.5 2.5 0.5 1 2-0.5 2-3 2-2 0-2-1-1-2 1-2 1-1z" fill="none" stroke="#ececec" stroke-width="0.75" stroke-linejoin="round"/>
<rect x="1248.4" y="1572.7" width="187" height="183.9" fill="none" stroke="#111" stroke-width="1.6"/>
<line x1="1327.3" y1="1572.7" x2="1327.3" y2="1756.6" stroke="#111" stroke-width="1.5"/>
<line x1="1248.4" y1="1673" x2="1435.4" y2="1673" stroke="#111" stroke-width="1.5"/>
<rect x="1237.4" y="1710.8" width="11" height="7" fill="#000"/>
<rect x="1285.04" y="1756.6" width="9" height="11" fill="#000"/>
<path d="M1237.4 1743.73H1248.4M1237.4 1683.04H1248.4M1237.4 1635.23H1248.4M1237.4 1589.25H1248.4M1249.34 1756.6V1767.6M1332.55 1756.6V1767.6M1388.65 1756.6V1767.6" fill="none" stroke="#000" stroke-width="2.4"/>
<path d="M1242.4 1725.46H1248.4M1242.4 1714.77H1248.4M1242.4 1707.19H1248.4M1242.4 1701.31H1248.4M1242.4 1696.5H1248.4M1242.4 1692.44H1248.4M1242.4 1688.92H1248.4M1242.4 1685.82H1248.4M1242.4 1668.65H1248.4M1242.4 1660.23H1248.4M1242.4 1654.25H1248.4M1242.4 1649.62H1248.4M1242.4 1645.83H1248.4M1242.4 1642.63H1248.4M1242.4 1639.86H1248.4M1242.4 1637.41H1248.4M1242.4 1621.39H1248.4M1242.4 1613.29H1248.4M1242.4 1607.55H1248.4M1242.4 1603.09H1248.4M1242.4 1599.45H1248.4M1242.4 1596.37H1248.4M1242.4 1593.71H1248.4M1242.4 1591.35H1248.4M1242.4 1575.41H1248.4M1242.4 1749.73H1248.4M1274.39 1756.6V1762.6M1289.04 1756.6V1762.6M1299.44 1756.6V1762.6M1307.5 1756.6V1762.6M1314.09 1756.6V1762.6M1319.66 1756.6V1762.6M1324.49 1756.6V1762.6M1328.74 1756.6V1762.6M1349.44 1756.6V1762.6M1359.32 1756.6V1762.6M1366.33 1756.6V1762.6M1371.76 1756.6V1762.6M1376.2 1756.6V1762.6M1379.96 1756.6V1762.6M1383.21 1756.6V1762.6M1386.08 1756.6V1762.6M1416.8 1756.6V1762.6M1433.26 1756.6V1762.6M1255.84 1756.6V1762.6M1262.34 1756.6V1762.6M1268.84 1756.6V1762.6M1275.34 1756.6V1762.6M1281.84 1756.6V1762.6M1288.34 1756.6V1762.6M1294.84 1756.6V1762.6M1301.34 1756.6V1762.6M1307.84 1756.6V1762.6M1314.34 1756.6V1762.6M1320.84 1756.6V1762.6M1327.34 1756.6V1762.6" fill="none" stroke="#000" stroke-width="1.5"/>
<text transform="translate(1345.52,1601.5) scale(1.041,1)" font-size="28.5">7.06%</text>
<text transform="translate(1237.5,1700.03) rotate(-90) scale(0.867,1)" font-size="32.43">IL-27</text>
<line x1="258" y1="1786.5" x2="1437" y2="1786.5" stroke="#000" stroke-width="3.5"/>
<text transform="translate(793.4,1820.5) scale(1.053,1)" font-size="28.5">PDCA-1</text>
<text transform="translate(1482.98,1253) scale(1.105,1)" font-size="34.5" font-weight="bold">g</text>
<line x1="1588.6" y1="1312.5" x2="1588.6" y2="1634" stroke="#000" stroke-width="3.2"/>
<line x1="1579.7" y1="1632.3" x2="1975.5" y2="1632.3" stroke="#000" stroke-width="3.5"/>
<line x1="1579.7" y1="1632.3" x2="1588.6" y2="1632.3" stroke="#000" stroke-width="3.2"/>
<text transform="translate(1553.66,1642.3) scale(1.060,1)" font-size="28.2">0</text>
<line x1="1579.7" y1="1568.8" x2="1588.6" y2="1568.8" stroke="#000" stroke-width="3.2"/>
<text transform="translate(1537.07,1578.8) scale(1.060,1)" font-size="28.2">20</text>
<line x1="1579.7" y1="1505.3" x2="1588.6" y2="1505.3" stroke="#000" stroke-width="3.2"/>
<text transform="translate(1537.07,1515.3) scale(1.060,1)" font-size="28.2">40</text>
<line x1="1579.7" y1="1441.8" x2="1588.6" y2="1441.8" stroke="#000" stroke-width="3.2"/>
<text transform="translate(1537.07,1451.8) scale(1.060,1)" font-size="28.2">60</text>
<line x1="1579.7" y1="1378.3" x2="1588.6" y2="1378.3" stroke="#000" stroke-width="3.2"/>
<text transform="translate(1537.07,1388.3) scale(1.060,1)" font-size="28.2">80</text>
<line x1="1579.7" y1="1314.8" x2="1588.6" y2="1314.8" stroke="#000" stroke-width="3.2"/>
<text transform="translate(1520.48,1324.8) scale(1.060,1)" font-size="28.2">100</text>
<text transform="translate(1508.39,1671.97) rotate(-90) scale(1.035,1)" font-size="26.74">% of cytokine producing cells</text>
<line x1="1622.9" y1="1632.3" x2="1622.9" y2="1641.5" stroke="#000" stroke-width="3.2"/>
<line x1="1702.6" y1="1632.3" x2="1702.6" y2="1641.5" stroke="#000" stroke-width="3.2"/>
<line x1="1781.2" y1="1632.3" x2="1781.2" y2="1641.5" stroke="#000" stroke-width="3.2"/>
<line x1="1860.4" y1="1632.3" x2="1860.4" y2="1641.5" stroke="#000" stroke-width="3.2"/>
<line x1="1940.7" y1="1632.3" x2="1940.7" y2="1641.5" stroke="#000" stroke-width="3.2"/>
<text transform="translate(1605.77,1718.17) rotate(-55) scale(0.950,1)" font-size="28">IFN-γ</text>
<text transform="translate(1658.42,1747.09) rotate(-55) scale(0.950,1)" font-size="28">GM-CSF</text>
<text transform="translate(1750.21,1724.54) rotate(-55) scale(0.950,1)" font-size="28">TGF-β</text>
<text transform="translate(1838.55,1710.92) rotate(-55) scale(0.950,1)" font-size="28">IL-10</text>
<text transform="translate(1918.98,1710.59) rotate(-55) scale(0.950,1)" font-size="28">IL-27</text>
<line x1="1608.85" y1="1419.58" x2="1608.85" y2="1571.97" stroke="#ee6d72" stroke-width="2.2"/>
<rect x="1601.3" y="1497.12" width="15.1" height="135.18" fill="none" stroke="#e31e25" stroke-width="4.6"/>
<line x1="1601.85" y1="1419.58" x2="1615.85" y2="1419.58" stroke="#ee6d72" stroke-width="2.2"/>
<line x1="1601.85" y1="1571.97" x2="1615.85" y2="1571.97" stroke="#ee6d72" stroke-width="2.2"/>
<circle cx="1608.85" cy="1379.7" r="6" fill="#e31e25"/>
<circle cx="1600.85" cy="1411" r="6" fill="#e31e25"/>
<circle cx="1611.85" cy="1411" r="6" fill="#e31e25"/>
<circle cx="1616.85" cy="1408" r="6" fill="#e31e25"/>
<circle cx="1608.85" cy="1414" r="6" fill="#e31e25"/>
<circle cx="1606.85" cy="1546" r="6" fill="#e31e25"/>
<circle cx="1611.85" cy="1551" r="6" fill="#e31e25"/>
<circle cx="1612.85" cy="1568.7" r="6" fill="#e31e25"/>
<circle cx="1607.85" cy="1574.6" r="6" fill="#e31e25"/>
<circle cx="1608.85" cy="1552" r="6" fill="#e31e25"/>
<circle cx="1612.85" cy="1556" r="6" fill="#e31e25"/>
<circle cx="1608.85" cy="1577" r="6" fill="#e31e25"/>
<circle cx="1608.85" cy="1596.5" r="6" fill="#e31e25"/>
<line x1="1639.1" y1="1375.12" x2="1639.1" y2="1530.7" stroke="#5b6fb5" stroke-width="2.2"/>
<rect x="1632" y="1456.8" width="14.2" height="175.5" fill="none" stroke="#1f4b9c" stroke-width="4.6"/>
<line x1="1632.1" y1="1375.12" x2="1646.1" y2="1375.12" stroke="#5b6fb5" stroke-width="2.2"/>
<line x1="1632.1" y1="1530.7" x2="1646.1" y2="1530.7" stroke="#5b6fb5" stroke-width="2.2"/>
<circle cx="1639.1" cy="1400" r="6" fill="#1f4b9c"/>
<circle cx="1639.1" cy="1416.3" r="6" fill="#1f4b9c"/>
<circle cx="1639.1" cy="1542" r="6" fill="#1f4b9c"/>
<circle cx="1639.1" cy="1543" r="6" fill="#1f4b9c"/>
<line x1="1688.35" y1="1340.2" x2="1688.35" y2="1503.08" stroke="#ee6d72" stroke-width="2.2"/>
<rect x="1681.7" y="1425.05" width="13.3" height="207.25" fill="none" stroke="#e31e25" stroke-width="4.6"/>
<line x1="1681.35" y1="1340.2" x2="1695.35" y2="1340.2" stroke="#ee6d72" stroke-width="2.2"/>
<line x1="1681.35" y1="1503.08" x2="1695.35" y2="1503.08" stroke="#ee6d72" stroke-width="2.2"/>
<circle cx="1688.35" cy="1326" r="6" fill="#e31e25"/>
<circle cx="1696.35" cy="1346" r="6" fill="#e31e25"/>
<circle cx="1683.35" cy="1353" r="6" fill="#e31e25"/>
<circle cx="1696.35" cy="1360" r="6" fill="#e31e25"/>
<circle cx="1688.35" cy="1402" r="6" fill="#e31e25"/>
<circle cx="1688.35" cy="1417" r="6" fill="#e31e25"/>
<circle cx="1688.35" cy="1434" r="6" fill="#e31e25"/>
<circle cx="1688.35" cy="1476" r="6" fill="#e31e25"/>
<circle cx="1688.35" cy="1518" r="6" fill="#e31e25"/>
<circle cx="1688.35" cy="1578" r="6" fill="#e31e25"/>
<circle cx="1688.35" cy="1580" r="6" fill="#e31e25"/>
<line x1="1718.1" y1="1514.83" x2="1718.1" y2="1616.42" stroke="#5b6fb5" stroke-width="2.2"/>
<rect x="1711.5" y="1567.92" width="13.2" height="64.37" fill="none" stroke="#1f4b9c" stroke-width="4.6"/>
<line x1="1711.1" y1="1514.83" x2="1725.1" y2="1514.83" stroke="#5b6fb5" stroke-width="2.2"/>
<line x1="1711.1" y1="1616.42" x2="1725.1" y2="1616.42" stroke="#5b6fb5" stroke-width="2.2"/>
<circle cx="1718.1" cy="1522.6" r="6" fill="#1f4b9c"/>
<circle cx="1718.1" cy="1549.3" r="6" fill="#1f4b9c"/>
<circle cx="1718.1" cy="1619" r="6" fill="#1f4b9c"/>
<circle cx="1767.8" cy="1613" r="6" fill="#e31e25"/>
<circle cx="1763.8" cy="1618" r="6" fill="#e31e25"/>
<circle cx="1771.8" cy="1620" r="6" fill="#e31e25"/>
<circle cx="1761.8" cy="1626" r="6" fill="#e31e25"/>
<circle cx="1767.8" cy="1624" r="6" fill="#e31e25"/>
<circle cx="1773.8" cy="1627" r="6" fill="#e31e25"/>
<circle cx="1765.8" cy="1630" r="6" fill="#e31e25"/>
<circle cx="1770.8" cy="1631" r="6" fill="#e31e25"/>
<circle cx="1796.7" cy="1615" r="6" fill="#1f4b9c"/>
<circle cx="1791.7" cy="1620" r="6" fill="#1f4b9c"/>
<circle cx="1801.7" cy="1620" r="6" fill="#1f4b9c"/>
<circle cx="1789.7" cy="1626" r="6" fill="#1f4b9c"/>
<circle cx="1796.7" cy="1624" r="6" fill="#1f4b9c"/>
<circle cx="1803.7" cy="1626" r="6" fill="#1f4b9c"/>
<rect x="1759" y="1620" width="18" height="12" fill="#e31e25"/>
<rect x="1788" y="1621" width="18" height="11" fill="#1f4b9c"/>
<line x1="1846.3" y1="1540.22" x2="1846.3" y2="1632.3" stroke="#ee6d72" stroke-width="2.2"/>
<rect x="1839.3" y="1598.09" width="14" height="34.21" fill="none" stroke="#e31e25" stroke-width="4.6"/>
<line x1="1839.3" y1="1540.22" x2="1853.3" y2="1540.22" stroke="#ee6d72" stroke-width="2.2"/>
<line x1="1839.3" y1="1632.3" x2="1853.3" y2="1632.3" stroke="#ee6d72" stroke-width="2.2"/>
<circle cx="1846.3" cy="1455" r="6" fill="#e31e25"/>
<circle cx="1846.3" cy="1589" r="6" fill="#e31e25"/>
<circle cx="1842.3" cy="1596" r="6" fill="#e31e25"/>
<circle cx="1850.3" cy="1600" r="6" fill="#e31e25"/>
<circle cx="1846.3" cy="1606" r="6" fill="#e31e25"/>
<circle cx="1843.3" cy="1612" r="6" fill="#e31e25"/>
<circle cx="1849.3" cy="1616" r="6" fill="#e31e25"/>
<circle cx="1846.3" cy="1622" r="6" fill="#e31e25"/>
<circle cx="1842.3" cy="1627" r="6" fill="#e31e25"/>
<circle cx="1850.3" cy="1629" r="6" fill="#e31e25"/>
<line x1="1876.2" y1="1571.97" x2="1876.2" y2="1625.95" stroke="#5b6fb5" stroke-width="2.2"/>
<rect x="1869.3" y="1602.85" width="13.8" height="29.45" fill="none" stroke="#1f4b9c" stroke-width="4.6"/>
<line x1="1869.2" y1="1571.97" x2="1883.2" y2="1571.97" stroke="#5b6fb5" stroke-width="2.2"/>
<line x1="1869.2" y1="1625.95" x2="1883.2" y2="1625.95" stroke="#5b6fb5" stroke-width="2.2"/>
<circle cx="1876.2" cy="1571" r="6" fill="#1f4b9c"/>
<circle cx="1876.2" cy="1604" r="6" fill="#1f4b9c"/>
<circle cx="1876.2" cy="1622" r="6" fill="#1f4b9c"/>
<line x1="1925.25" y1="1467.2" x2="1925.25" y2="1606.9" stroke="#ee6d72" stroke-width="2.2"/>
<rect x="1918.3" y="1542.52" width="13.9" height="89.78" fill="none" stroke="#e31e25" stroke-width="4.6"/>
<line x1="1918.25" y1="1467.2" x2="1932.25" y2="1467.2" stroke="#ee6d72" stroke-width="2.2"/>
<line x1="1918.25" y1="1606.9" x2="1932.25" y2="1606.9" stroke="#ee6d72" stroke-width="2.2"/>
<circle cx="1925.25" cy="1400.5" r="6" fill="#e31e25"/>
<circle cx="1919.25" cy="1470.5" r="6" fill="#e31e25"/>
<circle cx="1925.25" cy="1484" r="6" fill="#e31e25"/>
<circle cx="1925.25" cy="1505" r="6" fill="#e31e25"/>
<circle cx="1925.25" cy="1552" r="6" fill="#e31e25"/>
<circle cx="1929.25" cy="1578.7" r="6" fill="#e31e25"/>
<circle cx="1919.25" cy="1589" r="6" fill="#e31e25"/>
<circle cx="1928.25" cy="1595" r="6" fill="#e31e25"/>
<circle cx="1919.25" cy="1610" r="6" fill="#e31e25"/>
<line x1="1955.3" y1="1597.38" x2="1955.3" y2="1613.25" stroke="#5b6fb5" stroke-width="2.2"/>
<rect x="1949.3" y="1606.02" width="12" height="26.28" fill="none" stroke="#1f4b9c" stroke-width="4.6"/>
<circle cx="1950.3" cy="1593.6" r="6" fill="#1f4b9c"/>
<circle cx="1958.3" cy="1601" r="6" fill="#1f4b9c"/>
<circle cx="1950.3" cy="1611.4" r="6" fill="#1f4b9c"/>
<line x1="1683.3" y1="1319.6" x2="1724.6" y2="1319.6" stroke="#000" stroke-width="3"/>
<text transform="translate(1702.86,1316) scale(1.034,1)" font-size="28" font-weight="bold">*</text>
<line x1="1935" y1="1381" x2="1975.5" y2="1381" stroke="#000" stroke-width="3"/>
<text transform="translate(1947.36,1377) scale(1.034,1)" font-size="28" font-weight="bold">*</text>
<rect x="1583.3" y="1775.9" width="46.9" height="18.3" fill="none" stroke="#e31e25" stroke-width="4.6"/>
<rect x="1585.9" y="1822.1" width="46.6" height="18.6" fill="none" stroke="#1f4b9c" stroke-width="4.6"/>
<text transform="translate(1652.51,1793.5) scale(1.055,1)" font-size="28.3">CpG-pre-pDC</text>
<text transform="translate(1653.58,1841.5) scale(1.067,1)" font-size="28.3">PBS-pre-pDC</text>
<text transform="translate(384.27,1919.3) scale(1.129,1)" font-size="34.5" font-weight="bold">h</text>
<line x1="538.3" y1="1904.5" x2="538.3" y2="2512" stroke="#000" stroke-width="5"/>
<line x1="536" y1="2509.8" x2="1523" y2="2509.8" stroke="#000" stroke-width="5"/>
<line x1="528.6" y1="2509.8" x2="538.3" y2="2509.8" stroke="#000" stroke-width="4.2"/>
<text transform="translate(476.75,2519.3) scale(1.050,1)" font-size="27.8">0.0</text>
<line x1="528.6" y1="2359" x2="538.3" y2="2359" stroke="#000" stroke-width="4.2"/>
<text transform="translate(476.89,2368.5) scale(1.050,1)" font-size="27.8">0.5</text>
<line x1="528.6" y1="2208.2" x2="538.3" y2="2208.2" stroke="#000" stroke-width="4.2"/>
<text transform="translate(476.75,2217.7) scale(1.050,1)" font-size="27.8">1.0</text>
<line x1="528.6" y1="2057.4" x2="538.3" y2="2057.4" stroke="#000" stroke-width="4.2"/>
<text transform="translate(476.89,2066.9) scale(1.050,1)" font-size="27.8">1.5</text>
<line x1="528.6" y1="1906.6" x2="538.3" y2="1906.6" stroke="#000" stroke-width="4.2"/>
<text transform="translate(476.75,1916.1) scale(1.050,1)" font-size="27.8">2.0</text>
<text transform="translate(448.49,2308.33) rotate(-90) scale(0.909,1)" font-size="30.75">Mean clinical score</text>
<line x1="798.34" y1="2509.8" x2="798.34" y2="2517.5" stroke="#000" stroke-width="4"/>
<line x1="840.08" y1="2509.8" x2="840.08" y2="2517.5" stroke="#000" stroke-width="4"/>
<line x1="881.82" y1="2509.8" x2="881.82" y2="2517.5" stroke="#000" stroke-width="4"/>
<line x1="923.56" y1="2509.8" x2="923.56" y2="2517.5" stroke="#000" stroke-width="4"/>
<line x1="965.3" y1="2509.8" x2="965.3" y2="2517.5" stroke="#000" stroke-width="4"/>
<line x1="1007.04" y1="2509.8" x2="1007.04" y2="2517.5" stroke="#000" stroke-width="4"/>
<line x1="1048.78" y1="2509.8" x2="1048.78" y2="2517.5" stroke="#000" stroke-width="4"/>
<line x1="1090.52" y1="2509.8" x2="1090.52" y2="2517.5" stroke="#000" stroke-width="4"/>
<line x1="1132.26" y1="2509.8" x2="1132.26" y2="2517.5" stroke="#000" stroke-width="4"/>
<line x1="1174" y1="2509.8" x2="1174" y2="2517.5" stroke="#000" stroke-width="4"/>
<line x1="1215.74" y1="2509.8" x2="1215.74" y2="2517.5" stroke="#000" stroke-width="4"/>
<line x1="1257.48" y1="2509.8" x2="1257.48" y2="2517.5" stroke="#000" stroke-width="4"/>
<line x1="1299.22" y1="2509.8" x2="1299.22" y2="2517.5" stroke="#000" stroke-width="4"/>
<line x1="1340.96" y1="2509.8" x2="1340.96" y2="2517.5" stroke="#000" stroke-width="4"/>
<line x1="1382.7" y1="2509.8" x2="1382.7" y2="2517.5" stroke="#000" stroke-width="4"/>
<line x1="1424.44" y1="2509.8" x2="1424.44" y2="2517.5" stroke="#000" stroke-width="4"/>
<line x1="1466.18" y1="2509.8" x2="1466.18" y2="2517.5" stroke="#000" stroke-width="4"/>
<text transform="translate(546.53,2545) scale(1.050,1)" font-size="27.8">0</text>
<text transform="translate(585.5,2545) scale(1.050,1)" font-size="27.8">2</text>
<text transform="translate(626.35,2545) scale(1.050,1)" font-size="27.8">4</text>
<text transform="translate(665.65,2545) scale(1.050,1)" font-size="27.8">6</text>
<text transform="translate(708.63,2545) scale(1.050,1)" font-size="27.8">8</text>
<text transform="translate(742.72,2545) scale(1.050,1)" font-size="27.8">10</text>
<text transform="translate(782.93,2545) scale(1.050,1)" font-size="27.8">12</text>
<text transform="translate(823.14,2545) scale(1.050,1)" font-size="27.8">14</text>
<text transform="translate(866.19,2545) scale(1.050,1)" font-size="27.8">16</text>
<text transform="translate(906.89,2545) scale(1.050,1)" font-size="27.8">18</text>
<text transform="translate(949.28,2545) scale(1.050,1)" font-size="27.8">20</text>
<text transform="translate(988.4,2545) scale(1.050,1)" font-size="27.8">22</text>
<text transform="translate(1028.81,2545) scale(1.050,1)" font-size="27.8">24</text>
<text transform="translate(1073.17,2545) scale(1.050,1)" font-size="27.8">26</text>
<text transform="translate(1114.91,2545) scale(1.050,1)" font-size="27.8">28</text>
<text transform="translate(1156.73,2545) scale(1.050,1)" font-size="27.8">30</text>
<text transform="translate(1198.69,2545) scale(1.050,1)" font-size="27.8">32</text>
<text transform="translate(1240.13,2545) scale(1.050,1)" font-size="27.8">34</text>
<text transform="translate(1282.02,2545) scale(1.050,1)" font-size="27.8">36</text>
<text transform="translate(1323.76,2545) scale(1.050,1)" font-size="27.8">38</text>
<text transform="translate(1365.72,2545) scale(1.050,1)" font-size="27.8">40</text>
<text transform="translate(1407.68,2545) scale(1.050,1)" font-size="27.8">42</text>
<text transform="translate(1449.13,2545) scale(1.050,1)" font-size="27.8">44</text>
<text transform="translate(853.29,2581) scale(1.076,1)" font-size="28">Days post-immunization</text>
<rect x="541.4" y="2503.3" width="13" height="13" fill="#e31e25"/>
<rect x="562.27" y="2503.3" width="13" height="13" fill="#e31e25"/>
<rect x="583.14" y="2503.3" width="13" height="13" fill="#e31e25"/>
<rect x="604.01" y="2503.3" width="13" height="13" fill="#e31e25"/>
<rect x="624.88" y="2503.3" width="13" height="13" fill="#e31e25"/>
<rect x="645.75" y="2503.3" width="13" height="13" fill="#e31e25"/>
<rect x="666.62" y="2503.3" width="13" height="13" fill="#e31e25"/>
<rect x="687.49" y="2503.3" width="13" height="13" fill="#e31e25"/>
<rect x="708.36" y="2503.3" width="13" height="13" fill="#e31e25"/>
<rect x="729.23" y="2503.3" width="13" height="13" fill="#e31e25"/>
<rect x="750.1" y="2503.3" width="13" height="13" fill="#e31e25"/>
<rect x="770.97" y="2503.3" width="13" height="13" fill="#e31e25"/>
<path d="M798.34 2176V2330M791.34 2176H805.34M791.34 2330H805.34M819.21 2074V2137M812.21 2074H826.21M812.21 2137H826.21M840.08 2032V2089.8M833.08 2032H847.08M833.08 2089.8H847.08M860.95 2117V2174.3M853.95 2117H867.95M853.95 2174.3H867.95M881.82 2162.4V2255M874.82 2162.4H888.82M874.82 2255H888.82M902.69 2098V2188.6M895.69 2098H909.69M895.69 2188.6H909.69M923.56 2136.2V2238.3M916.56 2136.2H930.56M916.56 2238.3H930.56M944.43 2121.9V2208.8M937.43 2121.9H951.43M937.43 2208.8H951.43M965.3 2121.9V2208.8M958.3 2121.9H972.3M958.3 2208.8H972.3M986.17 2136.2V2238.3M979.17 2136.2H993.17M979.17 2238.3H993.17M1007.04 2162.4V2255M1000.04 2162.4H1014.04M1000.04 2255H1014.04M1048.78 2137.4V2194.5M1041.78 2137.4H1055.78M1041.78 2194.5H1055.78M1069.65 2137.4V2193.3M1062.65 2137.4H1076.65M1062.65 2193.3H1076.65M1090.52 2091V2151.7M1083.52 2091H1097.52M1083.52 2151.7H1097.52M1174 2113.6V2174.3M1167 2113.6H1181M1167 2174.3H1181M1215.74 2091.4V2152.9M1208.74 2091.4H1222.74M1208.74 2152.9H1222.74M1278.35 2074.8V2129M1271.35 2074.8H1285.35M1271.35 2129H1285.35M1340.96 2037V2080M1333.96 2037H1347.96M1333.96 2080H1347.96M1382.7 2012V2062M1375.7 2012H1389.7M1375.7 2062H1389.7M1424.44 2012V2062M1417.44 2012H1431.44M1417.44 2062H1431.44M1466.18 1986.7V2042.6M1459.18 1986.7H1473.18M1459.18 2042.6H1473.18" fill="none" stroke="#1d4d9e" stroke-width="3.5"/>
<polyline points="547.9,2509.8 568.77,2509.8 589.64,2509.8 610.51,2509.8 631.38,2509.8 652.25,2509.8 673.12,2509.8 693.99,2509.8 714.86,2509.8 735.73,2509.8 756.6,2509.8 777.47,2509.8 798.34,2254 819.21,2105.2 840.08,2061.2 860.95,2145.7 881.82,2207.6 902.69,2142.1 923.56,2187.4 944.43,2166 965.3,2166 986.17,2186.2 1007.04,2208.8 1048.78,2166 1069.65,2166 1090.52,2124.3 1174,2144.5 1215.74,2123.6 1278.35,2102.1 1340.96,2059.3 1382.7,2037.1 1424.44,2037.1 1466.18,2016.4" fill="none" stroke="#1d4d9e" stroke-width="3.8" stroke-linejoin="round"/>
<polygon points="798.34,2246 790.84,2259.5 805.84,2259.5" fill="#1d4d9e"/>
<polygon points="819.21,2097.2 811.71,2110.7 826.71,2110.7" fill="#1d4d9e"/>
<polygon points="840.08,2053.2 832.58,2066.7 847.58,2066.7" fill="#1d4d9e"/>
<polygon points="860.95,2137.7 853.45,2151.2 868.45,2151.2" fill="#1d4d9e"/>
<polygon points="881.82,2199.6 874.32,2213.1 889.32,2213.1" fill="#1d4d9e"/>
<polygon points="902.69,2134.1 895.19,2147.6 910.19,2147.6" fill="#1d4d9e"/>
<polygon points="923.56,2179.4 916.06,2192.9 931.06,2192.9" fill="#1d4d9e"/>
<polygon points="944.43,2158 936.93,2171.5 951.93,2171.5" fill="#1d4d9e"/>
<polygon points="965.3,2158 957.8,2171.5 972.8,2171.5" fill="#1d4d9e"/>
<polygon points="986.17,2178.2 978.67,2191.7 993.67,2191.7" fill="#1d4d9e"/>
<polygon points="1007.04,2200.8 999.54,2214.3 1014.54,2214.3" fill="#1d4d9e"/>
<polygon points="1048.78,2158 1041.28,2171.5 1056.28,2171.5" fill="#1d4d9e"/>
<polygon points="1069.65,2158 1062.15,2171.5 1077.15,2171.5" fill="#1d4d9e"/>
<polygon points="1090.52,2116.3 1083.02,2129.8 1098.02,2129.8" fill="#1d4d9e"/>
<polygon points="1174,2136.5 1166.5,2150 1181.5,2150" fill="#1d4d9e"/>
<polygon points="1215.74,2115.6 1208.24,2129.1 1223.24,2129.1" fill="#1d4d9e"/>
<polygon points="1278.35,2094.1 1270.85,2107.6 1285.85,2107.6" fill="#1d4d9e"/>
<polygon points="1340.96,2051.3 1333.46,2064.8 1348.46,2064.8" fill="#1d4d9e"/>
<polygon points="1382.7,2029.1 1375.2,2042.6 1390.2,2042.6" fill="#1d4d9e"/>
<polygon points="1424.44,2029.1 1416.94,2042.6 1431.94,2042.6" fill="#1d4d9e"/>
<polygon points="1466.18,2008.4 1458.68,2021.9 1473.68,2021.9" fill="#1d4d9e"/>
<path d="M798.34 2181V2305M791.34 2181H805.34M791.34 2305H805.34M819.21 1976.2V2176.7M812.21 1976.2H826.21M812.21 2176.7H826.21M840.08 1985V2052M833.08 1985H847.08M833.08 2052H847.08M860.95 2086.2V2142.1M853.95 2086.2H867.95M853.95 2142.1H867.95M881.82 2165V2249M874.82 2165H888.82M874.82 2249H888.82M902.69 2133.3V2208.8M895.69 2133.3H909.69M895.69 2208.8H909.69M923.56 2221.7V2271.2M916.56 2221.7H930.56M916.56 2271.2H930.56M944.43 2221.7V2271.2M937.43 2221.7H951.43M937.43 2271.2H951.43M965.3 2155.2V2223.6M958.3 2155.2H972.3M958.3 2223.6H972.3M986.17 2170V2249M979.17 2170H993.17M979.17 2249H993.17M1007.04 2184.3V2308.6M1000.04 2184.3H1014.04M1000.04 2308.6H1014.04M1048.78 2145.7V2195.7M1041.78 2145.7H1055.78M1041.78 2195.7H1055.78M1069.65 2190V2227M1062.65 2190H1076.65M1062.65 2227H1076.65M1090.52 2155.2V2223.6M1083.52 2155.2H1097.52M1083.52 2223.6H1097.52M1174 2171.2V2208.6M1167 2171.2H1181M1167 2208.6H1181M1215.74 2202V2254M1208.74 2202H1222.74M1208.74 2254H1222.74M1278.35 2155.7V2223.9M1271.35 2155.7H1285.35M1271.35 2223.9H1285.35M1340.96 2146.3V2195.7M1333.96 2146.3H1347.96M1333.96 2195.7H1347.96M1382.7 2146.3V2195.7M1375.7 2146.3H1389.7M1375.7 2195.7H1389.7M1424.44 2171.3V2208.75M1417.44 2171.3H1431.44M1417.44 2208.75H1431.44M1466.18 2171.3V2208.75M1459.18 2171.3H1473.18M1459.18 2208.75H1473.18" fill="none" stroke="#e31e25" stroke-width="3.5"/>
<polyline points="547.9,2509.8 568.77,2509.8 589.64,2509.8 610.51,2509.8 631.38,2509.8 652.25,2509.8 673.12,2509.8 693.99,2509.8 714.86,2509.8 735.73,2509.8 756.6,2509.8 777.47,2509.8 798.34,2227 819.21,2076.7 840.08,2018.3 860.95,2114.8 881.82,2208 902.69,2170.7 923.56,2246.2 944.43,2246.2 965.3,2190 986.17,2209 1007.04,2246.2 1048.78,2170.7 1069.65,2208.8 1090.52,2190 1174,2190 1215.74,2228 1278.35,2189.6 1340.96,2170.7 1382.7,2170.7 1424.44,2189.6 1466.18,2189.6" fill="none" stroke="#e31e25" stroke-width="3.8" stroke-linejoin="round"/>
<rect x="791.64" y="2220.5" width="13.4" height="13" fill="#e31e25"/>
<rect x="812.51" y="2070.2" width="13.4" height="13" fill="#e31e25"/>
<rect x="833.38" y="2011.8" width="13.4" height="13" fill="#e31e25"/>
<rect x="854.25" y="2108.3" width="13.4" height="13" fill="#e31e25"/>
<rect x="875.12" y="2201.5" width="13.4" height="13" fill="#e31e25"/>
<rect x="895.99" y="2164.2" width="13.4" height="13" fill="#e31e25"/>
<rect x="916.86" y="2239.7" width="13.4" height="13" fill="#e31e25"/>
<rect x="937.73" y="2239.7" width="13.4" height="13" fill="#e31e25"/>
<rect x="958.6" y="2183.5" width="13.4" height="13" fill="#e31e25"/>
<rect x="979.47" y="2202.5" width="13.4" height="13" fill="#e31e25"/>
<rect x="1000.34" y="2239.7" width="13.4" height="13" fill="#e31e25"/>
<rect x="1042.08" y="2164.2" width="13.4" height="13" fill="#e31e25"/>
<rect x="1062.95" y="2202.3" width="13.4" height="13" fill="#e31e25"/>
<rect x="1083.82" y="2183.5" width="13.4" height="13" fill="#e31e25"/>
<rect x="1167.3" y="2183.5" width="13.4" height="13" fill="#e31e25"/>
<rect x="1209.04" y="2221.5" width="13.4" height="13" fill="#e31e25"/>
<rect x="1271.65" y="2183.1" width="13.4" height="13" fill="#e31e25"/>
<rect x="1334.26" y="2164.2" width="13.4" height="13" fill="#e31e25"/>
<rect x="1376" y="2164.2" width="13.4" height="13" fill="#e31e25"/>
<rect x="1417.74" y="2183.1" width="13.4" height="13" fill="#e31e25"/>
<rect x="1459.48" y="2183.1" width="13.4" height="13" fill="#e31e25"/>
<path d="M798.34 2044.5V2156.4M791.34 2044.5H805.34M791.34 2156.4H805.34M819.21 2060V2162.4M812.21 2060H826.21M812.21 2162.4H826.21M840.08 1992V2057.6M833.08 1992H847.08M833.08 2057.6H847.08M860.95 1974.3V2054.8M853.95 1974.3H867.95M853.95 2054.8H867.95M881.82 1986.2V2085.7M874.82 1986.2H888.82M874.82 2085.7H888.82M902.69 1998V2095.2M895.69 1998H909.69M895.69 2095.2H909.69M923.56 1993.3V2100.5M916.56 1993.3H930.56M916.56 2100.5H930.56M944.43 2008V2128.6M937.43 2008H951.43M937.43 2128.6H951.43M965.3 1988.6V2104.8M958.3 1988.6H972.3M958.3 2104.8H972.3M986.17 1997.6V2117.1M979.17 1997.6H993.17M979.17 2117.1H993.17M1007.04 1971.9V2077.9M1000.04 1971.9H1014.04M1000.04 2077.9H1014.04M1048.78 2017.1V2119M1041.78 2017.1H1055.78M1041.78 2119H1055.78M1069.65 1988.6V2083.3M1062.65 1988.6H1076.65M1062.65 2083.3H1076.65M1090.52 1986.2V2085.7M1083.52 1986.2H1097.52M1083.52 2085.7H1097.52M1174 2007.6V2108.1M1167 2007.6H1181M1167 2108.1H1181M1215.74 1998.1V2095M1208.74 1998.1H1222.74M1208.74 2095H1222.74M1278.35 1977.1V2072.9M1271.35 1977.1H1285.35M1271.35 2072.9H1285.35M1340.96 1977.1V2072.9M1333.96 1977.1H1347.96M1333.96 2072.9H1347.96M1382.7 1971.2V2057.6M1375.7 1971.2H1389.7M1375.7 2057.6H1389.7M1424.44 1971.2V2057.6M1417.44 1971.2H1431.44M1417.44 2057.6H1431.44M1466.18 1960V2047.4M1459.18 1960H1473.18M1459.18 2047.4H1473.18" fill="none" stroke="#000" stroke-width="3.5"/>
<polyline points="547.9,2509.8 568.77,2509.8 589.64,2509.8 610.51,2509.8 631.38,2509.8 652.25,2509.8 673.12,2509.8 693.99,2509.8 714.86,2509.8 735.73,2509.8 756.6,2509.8 777.47,2509.8 798.34,2101 819.21,2111.7 840.08,2024.8 860.95,2014.8 881.82,2036.2 902.69,2046.9 923.56,2046.9 944.43,2068.3 965.3,2046.9 986.17,2057.6 1007.04,2025.5 1048.78,2068.3 1069.65,2036.2 1090.52,2036.2 1174,2057.6 1215.74,2047.4 1278.35,2025.2 1340.96,2025.2 1382.7,2014.8 1424.44,2014.8 1466.18,2003.8" fill="none" stroke="#000" stroke-width="3.8" stroke-linejoin="round"/>
<circle cx="798.34" cy="2101" r="6.8" fill="#000"/>
<circle cx="819.21" cy="2111.7" r="6.8" fill="#000"/>
<circle cx="840.08" cy="2024.8" r="6.8" fill="#000"/>
<circle cx="860.95" cy="2014.8" r="6.8" fill="#000"/>
<circle cx="881.82" cy="2036.2" r="6.8" fill="#000"/>
<circle cx="902.69" cy="2046.9" r="6.8" fill="#000"/>
<circle cx="923.56" cy="2046.9" r="6.8" fill="#000"/>
<circle cx="944.43" cy="2068.3" r="6.8" fill="#000"/>
<circle cx="965.3" cy="2046.9" r="6.8" fill="#000"/>
<circle cx="986.17" cy="2057.6" r="6.8" fill="#000"/>
<circle cx="1007.04" cy="2025.5" r="6.8" fill="#000"/>
<circle cx="1048.78" cy="2068.3" r="6.8" fill="#000"/>
<circle cx="1069.65" cy="2036.2" r="6.8" fill="#000"/>
<circle cx="1090.52" cy="2036.2" r="6.8" fill="#000"/>
<circle cx="1174" cy="2057.6" r="6.8" fill="#000"/>
<circle cx="1215.74" cy="2047.4" r="6.8" fill="#000"/>
<circle cx="1278.35" cy="2025.2" r="6.8" fill="#000"/>
<circle cx="1340.96" cy="2025.2" r="6.8" fill="#000"/>
<circle cx="1382.7" cy="2014.8" r="6.8" fill="#000"/>
<circle cx="1424.44" cy="2014.8" r="6.8" fill="#000"/>
<circle cx="1466.18" cy="2003.8" r="6.8" fill="#000"/>
<circle cx="547.9" cy="2509.8" r="6.5" fill="#000"/>
<circle cx="568.77" cy="2509.8" r="6.5" fill="#000"/>
<circle cx="589.64" cy="2509.8" r="6.5" fill="#000"/>
<circle cx="610.51" cy="2509.8" r="6.5" fill="#000"/>
<circle cx="631.38" cy="2509.8" r="6.5" fill="#000"/>
<circle cx="652.25" cy="2509.8" r="6.5" fill="#000"/>
<circle cx="673.12" cy="2509.8" r="6.5" fill="#000"/>
<circle cx="693.99" cy="2509.8" r="6.5" fill="#000"/>
<circle cx="714.86" cy="2509.8" r="6.5" fill="#000"/>
<circle cx="735.73" cy="2509.8" r="6.5" fill="#000"/>
<circle cx="756.6" cy="2509.8" r="6.5" fill="#000"/>
<circle cx="777.47" cy="2509.8" r="6.5" fill="#000"/>
<line x1="797.4" y1="2450" x2="797.4" y2="2481" stroke="#000" stroke-width="3.3"/>
<polygon points="786,2479 808.6,2479 797.4,2499" fill="#000"/>
<text transform="translate(801.88,2451) scale(1.079,1)" font-size="28">Progenitors</text>
<line x1="802.9" y1="1931.8" x2="1001.4" y2="1931.8" stroke="#1d4d9e" stroke-width="3.6"/>
<text transform="translate(886.89,1918) scale(1.475,1)" font-size="28" font-weight="bold" fill="#1d4d9e">**</text>
<line x1="891.9" y1="2322.5" x2="1267.5" y2="2322.5" stroke="#e31e25" stroke-width="3.5"/>
<text transform="translate(1059.79,2357.5) scale(1.498,1)" font-size="28" font-weight="bold" fill="#e31e25">**</text>
<line x1="1375.7" y1="2249" x2="1525.2" y2="2249" stroke="#e31e25" stroke-width="3.5"/>
<text transform="translate(1435.7,2278) scale(1.408,1)" font-size="28" font-weight="bold" fill="#e31e25">**</text>
<line x1="1033.5" y1="2400" x2="1068.9" y2="2400" stroke="#000" stroke-width="3.8"/>
<circle cx="1051.2" cy="2400" r="6.8" fill="#000"/>
<line x1="1033.5" y1="2440.2" x2="1068.9" y2="2440.2" stroke="#e31e25" stroke-width="3.8"/>
<rect x="1044.3" y="2434.2" width="14" height="12.5" fill="#e31e25"/>
<line x1="1033.5" y1="2479" x2="1068.9" y2="2479" stroke="#1d4d9e" stroke-width="3.8"/>
<polygon points="1051.2,2473.5 1043.5,2485 1058.9,2485" fill="#1d4d9e"/>
<text transform="translate(1080.18,2405.5) scale(1.085,1)" font-size="28">Controls (n = 14)</text>
<text transform="translate(1082.79,2447) scale(1.076,1)" font-size="28">+ WT CpG-pre-pDC (n = 8)</text>
<text transform="translate(1082.79,2487.3) scale(1.077,1)" font-size="28">+ IL-27 KO CpG-pre-pDC (n = 7)</text>
</svg></body></html>
